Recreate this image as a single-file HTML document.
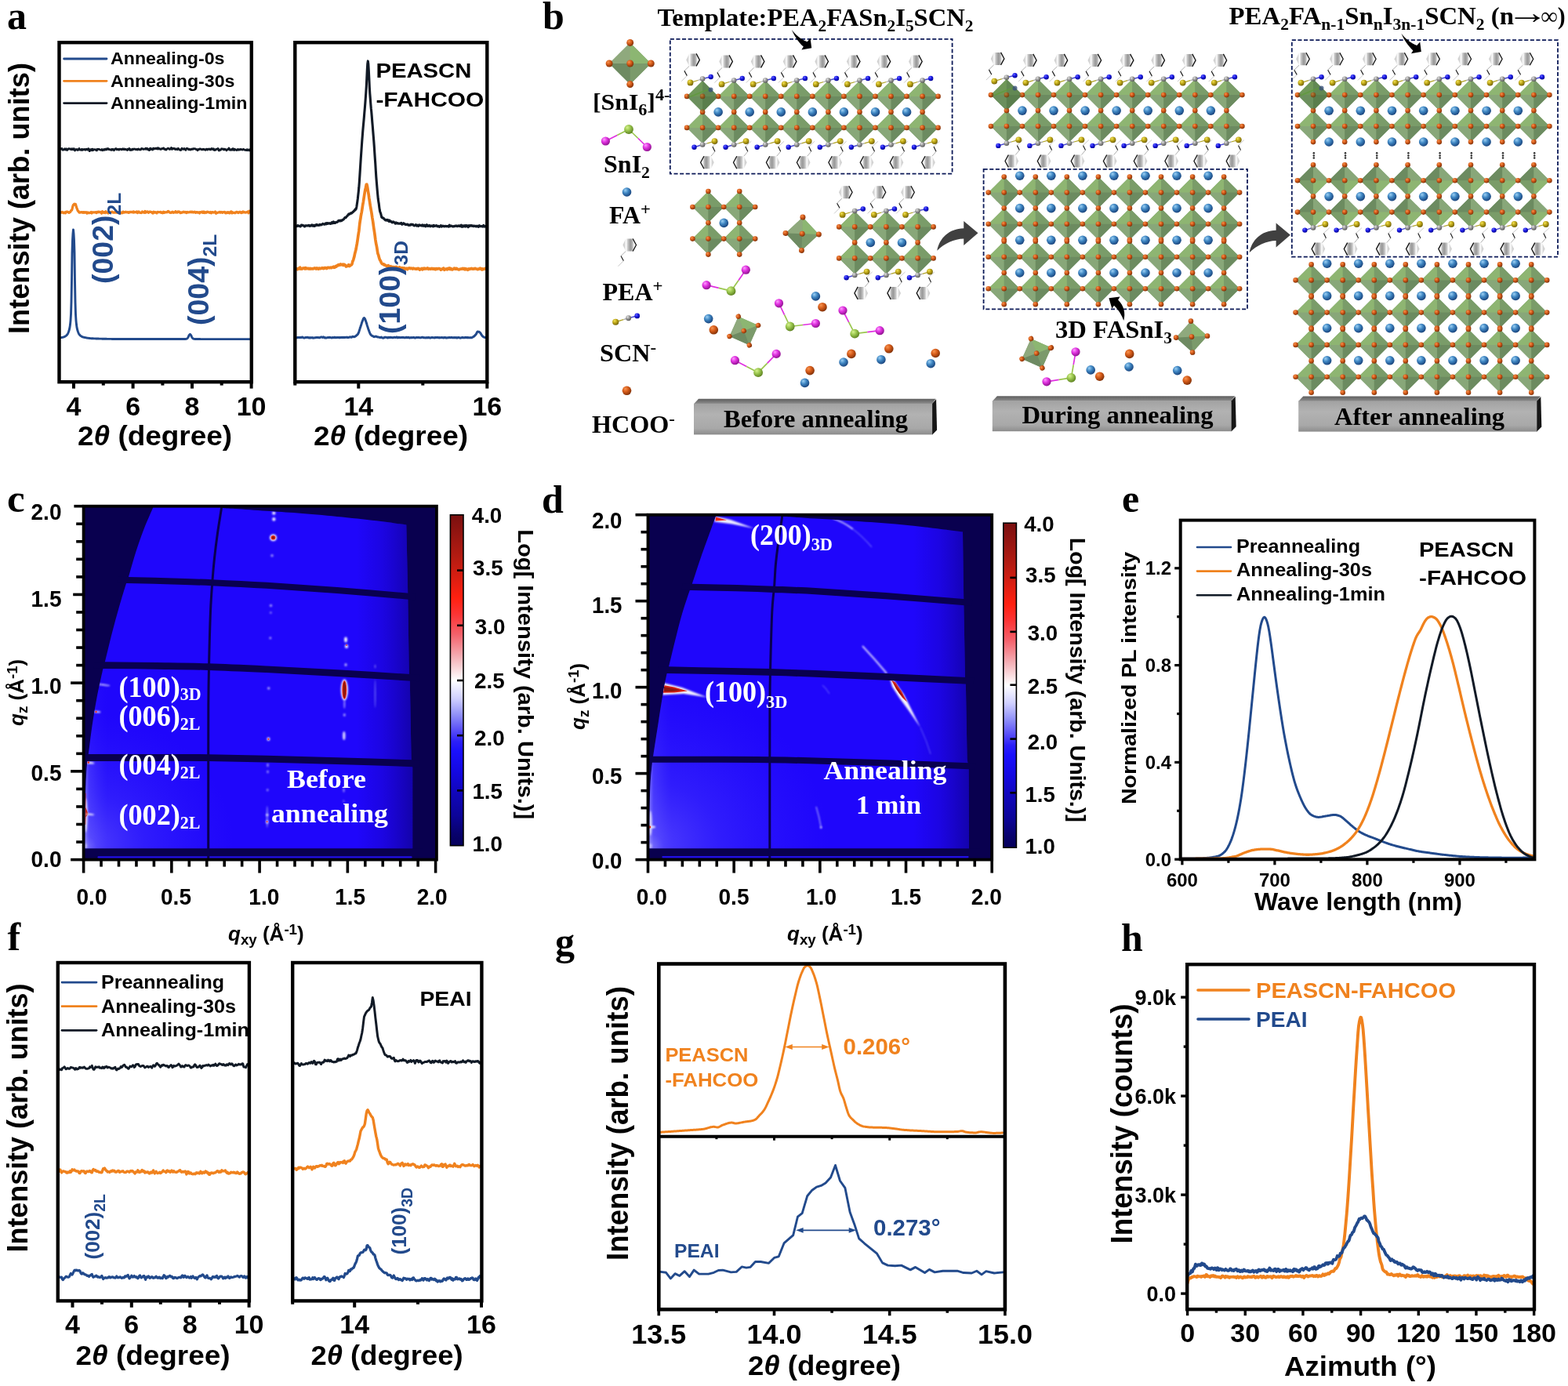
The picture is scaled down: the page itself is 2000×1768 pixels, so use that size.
<!DOCTYPE html>
<html lang="en">
<head>
<meta charset="utf-8">
<title>Figure</title>
<style>
html,body{margin:0;padding:0;background:#fff;}
body{width:2000px;height:1768px;overflow:hidden;}
svg{display:block;}
text{white-space:pre;}
</style>
</head>
<body>
<svg xmlns="http://www.w3.org/2000/svg" width="2000" height="1768" viewBox="0 0 2000 1768">
<defs>
<filter id="bl06" x="-20%" y="-20%" width="140%" height="140%"><feGaussianBlur stdDeviation="0.6"/></filter>
<filter id="bl1" x="-50%" y="-50%" width="200%" height="200%"><feGaussianBlur stdDeviation="1"/></filter>
<filter id="bl2" x="-50%" y="-50%" width="200%" height="200%"><feGaussianBlur stdDeviation="2"/></filter>
<filter id="bl3" x="-50%" y="-50%" width="200%" height="200%"><feGaussianBlur stdDeviation="3.5"/></filter>
<clipPath id="hcC"><path d="M196.3 645 C194.17 650 187.38 665 183.5 675 C179.62 685 176.25 694.87 173 705 C169.75 715.13 166 729.25 164 735.8 C162 742.35 163 737.93 161 744.3 C159 750.67 155 763.55 152 774 C149 784.45 146 795.37 143 807 C140 818.63 136.12 835.3 134 843.8 C131.88 852.3 132.05 850.3 130.3 858 C128.55 865.7 125.63 878.67 123.5 890 C121.37 901.33 119.25 914.25 117.5 926 C115.75 937.75 114.08 952.33 113 960.5 C111.92 968.67 111.57 968.42 111 975 C110.43 981.58 110 989.17 109.6 1000 C109.2 1010.83 108.8 1026.25 108.6 1040 C108.4 1053.75 108.43 1075.42 108.4 1082.5 L526.2 1082.5 L526.2 979 L524.6 968 L522.8 867.5 L521.8 860.4 L520.2 756 L518.3 669.6 L518.3 669.6 C511.92 668.72 494.72 666.07 480 664.3 C465.28 662.53 446.67 660.62 430 659 C413.33 657.38 395 655.8 380 654.6 C365 653.4 353.33 652.73 340 651.8 C326.67 650.87 309.5 649.68 300 649 C290.5 648.32 285.83 648.37 283 647.7 C280.17 647.03 283 645.45 283 645 Z"/></clipPath>
<clipPath id="hfC"><rect x="106.6" y="645.7" width="450.3" height="450.9"/></clipPath>
<linearGradient id="hrC" gradientUnits="userSpaceOnUse" x1="455" y1="0" x2="527" y2="0"><stop offset="0" stop-color="#12008c" stop-opacity="0"/><stop offset="0.45" stop-color="#12008c" stop-opacity="0.22"/><stop offset="1" stop-color="#0c0078" stop-opacity="0.62"/></linearGradient>
<radialGradient id="hgC" gradientUnits="userSpaceOnUse" cx="108" cy="1080" r="190" gradientTransform="translate(108 1080) scale(1 0.9) translate(-108 -1080)"><stop offset="0" stop-color="#b0acff" stop-opacity="0.6"/><stop offset="0.08" stop-color="#8682ff" stop-opacity="0.42"/><stop offset="0.4" stop-color="#5c58ff" stop-opacity="0.27"/><stop offset="1" stop-color="#4038ff" stop-opacity="0"/></radialGradient>
<linearGradient id="hlC" gradientUnits="userSpaceOnUse" x1="108.1" y1="0" x2="136.6" y2="0"><stop offset="0" stop-color="#c4c0ff" stop-opacity="0.55"/><stop offset="0.2" stop-color="#8480ff" stop-opacity="0.25"/><stop offset="1" stop-color="#5c58ff" stop-opacity="0"/></linearGradient>
<linearGradient id="cbC" x1="0" y1="0" x2="0" y2="1"><stop offset="0" stop-color="#7a1010"/><stop offset="0.13" stop-color="#b61c12"/><stop offset="0.25" stop-color="#ff2010"/><stop offset="0.30" stop-color="#fc3434"/><stop offset="0.36" stop-color="#f4606a"/><stop offset="0.43" stop-color="#f4b0b6"/><stop offset="0.5" stop-color="#ffffff"/><stop offset="0.555" stop-color="#d0d0ff"/><stop offset="0.605" stop-color="#9090f8"/><stop offset="0.65" stop-color="#5a50f8"/><stop offset="0.685" stop-color="#2c20f8"/><stop offset="0.715" stop-color="#1a10fc"/><stop offset="0.78" stop-color="#1408e0"/><stop offset="0.845" stop-color="#1006b8"/><stop offset="0.91" stop-color="#0c0498"/><stop offset="0.965" stop-color="#08026c"/><stop offset="1" stop-color="#06005a"/></linearGradient>
<clipPath id="hcD"><path d="M913.8 656 C912.75 658.92 910.8 664.33 907.5 673.5 C904.2 682.67 898.12 699.12 894 711 C889.88 722.88 885.17 737.8 882.8 744.8 C880.43 751.8 881.93 746.63 879.8 753 C877.67 759.37 873.13 772.25 870 783 C866.87 793.75 863.8 806.37 861 817.5 C858.2 828.63 854.95 842.8 853.2 849.8 C851.45 856.8 851.7 854.05 850.5 859.5 C849.3 864.95 847.75 872.42 846 882.5 C844.25 892.58 842.12 906.5 840 920 C837.88 933.5 834.67 954.5 833.3 963.5 C831.93 972.5 832.42 967.92 831.8 974 C831.18 980.08 830.17 989 829.6 1000 C829.03 1011 828.63 1026.25 828.4 1040 C828.17 1053.75 828.23 1075.42 828.2 1082.5 L1236 1082.5 L1235.6 981 L1233.6 968 L1231.8 867.5 L1231 864 L1229.2 764 L1228 678.6 L1228 678.6 C1220 677.58 1196.33 674.33 1180 672.5 C1163.67 670.67 1146.67 669.02 1130 667.6 C1113.33 666.18 1095 665 1080 664 C1065 663 1051.67 662.33 1040 661.6 C1028.33 660.87 1017.17 660.1 1010 659.6 C1002.83 659.1 999.17 659.2 997 658.6 C994.83 658 997 656.43 997 656 Z"/></clipPath>
<clipPath id="hfD"><rect x="826.5" y="656.7" width="438.7" height="439.9"/></clipPath>
<linearGradient id="hrD" gradientUnits="userSpaceOnUse" x1="1165" y1="0" x2="1238" y2="0"><stop offset="0" stop-color="#12008c" stop-opacity="0"/><stop offset="0.45" stop-color="#12008c" stop-opacity="0.22"/><stop offset="1" stop-color="#0c0078" stop-opacity="0.62"/></linearGradient>
<radialGradient id="hgD" gradientUnits="userSpaceOnUse" cx="828" cy="1080" r="230" gradientTransform="translate(828 1080) scale(1 0.9) translate(-828 -1080)"><stop offset="0" stop-color="#b0acff" stop-opacity="0.6"/><stop offset="0.08" stop-color="#8682ff" stop-opacity="0.42"/><stop offset="0.4" stop-color="#5c58ff" stop-opacity="0.27"/><stop offset="1" stop-color="#4038ff" stop-opacity="0"/></radialGradient>
<linearGradient id="hlD" gradientUnits="userSpaceOnUse" x1="828" y1="0" x2="856.5" y2="0"><stop offset="0" stop-color="#c4c0ff" stop-opacity="0.55"/><stop offset="0.2" stop-color="#8480ff" stop-opacity="0.25"/><stop offset="1" stop-color="#5c58ff" stop-opacity="0"/></linearGradient>
<linearGradient id="cbD" x1="0" y1="0" x2="0" y2="1"><stop offset="0" stop-color="#7a1010"/><stop offset="0.13" stop-color="#b61c12"/><stop offset="0.25" stop-color="#ff2010"/><stop offset="0.30" stop-color="#fc3434"/><stop offset="0.36" stop-color="#f4606a"/><stop offset="0.43" stop-color="#f4b0b6"/><stop offset="0.5" stop-color="#ffffff"/><stop offset="0.555" stop-color="#d0d0ff"/><stop offset="0.605" stop-color="#9090f8"/><stop offset="0.65" stop-color="#5a50f8"/><stop offset="0.685" stop-color="#2c20f8"/><stop offset="0.715" stop-color="#1a10fc"/><stop offset="0.78" stop-color="#1408e0"/><stop offset="0.845" stop-color="#1006b8"/><stop offset="0.91" stop-color="#0c0498"/><stop offset="0.965" stop-color="#08026c"/><stop offset="1" stop-color="#06005a"/></linearGradient>
<radialGradient id="gO" cx="0.38" cy="0.34" r="0.7" fx="0.34" fy="0.3"><stop offset="0" stop-color="#f89450"/><stop offset="0.45" stop-color="#d65c1a"/><stop offset="1" stop-color="#7c2e06"/></radialGradient>
<radialGradient id="gFA" cx="0.38" cy="0.34" r="0.7" fx="0.34" fy="0.3"><stop offset="0" stop-color="#9cd0f4"/><stop offset="0.45" stop-color="#3f86c2"/><stop offset="1" stop-color="#163f78"/></radialGradient>
<radialGradient id="gS" cx="0.38" cy="0.34" r="0.7" fx="0.34" fy="0.3"><stop offset="0" stop-color="#f2e45c"/><stop offset="0.45" stop-color="#c0a818"/><stop offset="1" stop-color="#6e6008"/></radialGradient>
<radialGradient id="gC" cx="0.38" cy="0.34" r="0.7" fx="0.34" fy="0.3"><stop offset="0" stop-color="#e6e6e6"/><stop offset="0.45" stop-color="#9c9c9c"/><stop offset="1" stop-color="#555555"/></radialGradient>
<radialGradient id="gN" cx="0.38" cy="0.34" r="0.7" fx="0.34" fy="0.3"><stop offset="0" stop-color="#6a6aff"/><stop offset="0.45" stop-color="#1a1ae6"/><stop offset="1" stop-color="#04048e"/></radialGradient>
<radialGradient id="gM" cx="0.38" cy="0.34" r="0.7" fx="0.34" fy="0.3"><stop offset="0" stop-color="#ff9cff"/><stop offset="0.45" stop-color="#e032e0"/><stop offset="1" stop-color="#8a108a"/></radialGradient>
<radialGradient id="gSn" cx="0.38" cy="0.34" r="0.7" fx="0.34" fy="0.3"><stop offset="0" stop-color="#d6f28e"/><stop offset="0.45" stop-color="#9ac64e"/><stop offset="1" stop-color="#5a7e1e"/></radialGradient>
<linearGradient id="gRing" x1="0" y1="0" x2="1" y2="0"><stop offset="0" stop-color="#cccccc"/><stop offset="0.13" stop-color="#d6d6d6"/><stop offset="0.25" stop-color="#ffffff"/><stop offset="0.38" stop-color="#c4c4c4"/><stop offset="0.56" stop-color="#989898"/><stop offset="0.7" stop-color="#b0b0b0"/><stop offset="0.8" stop-color="#ececec"/><stop offset="1" stop-color="#ffffff"/></linearGradient>
<linearGradient id="gRingB" x1="1" y1="0" x2="0" y2="0"><stop offset="0" stop-color="#cccccc"/><stop offset="0.13" stop-color="#d6d6d6"/><stop offset="0.25" stop-color="#ffffff"/><stop offset="0.38" stop-color="#c4c4c4"/><stop offset="0.56" stop-color="#989898"/><stop offset="0.7" stop-color="#b0b0b0"/><stop offset="0.8" stop-color="#ececec"/><stop offset="1" stop-color="#ffffff"/></linearGradient>
<linearGradient id="gSlab" x1="0" y1="0" x2="0" y2="1"><stop offset="0" stop-color="#a2a2a2"/><stop offset="0.35" stop-color="#b2b2b2"/><stop offset="0.8" stop-color="#a8a8a8"/><stop offset="1" stop-color="#8c8c8c"/></linearGradient>
<linearGradient id="gSlabTop" x1="0" y1="0" x2="0" y2="1"><stop offset="0" stop-color="#5e5e5e"/><stop offset="1" stop-color="#8e8e8e"/></linearGradient>
<g id="oct"><path d="M-20 0L0 -20L20 0L0 20Z" fill="#7d9e6b"/><path d="M0.3 0.3L-20 0.3L-20 0L0 -20L0.3 -20Z" fill="#8eb572"/><path d="M0 0.3L20 0.3L20 0L0 -20Z" fill="#7a9c69"/><path d="M0.3 0L-20 0L0 20L0.3 20Z" fill="#88a779"/><path d="M0 0L20 0L0 20Z" fill="#6c8b60"/></g>
<g id="octR"><path d="M-20 0L0 -20L20 0L0 20Z" fill="#7d9e6b"/><path d="M0.3 0.3L-20 0.3L-20 0L0 -20L0.3 -20Z" fill="#6c8b60"/><path d="M0 0.3L20 0.3L20 0L0 -20Z" fill="#88a779"/><path d="M0.3 0L-20 0L0 20L0.3 20Z" fill="#7a9c69"/><path d="M0 0L20 0L0 20Z" fill="#8eb572"/></g>
<g id="octL"><path d="M-20 0L0 -20L20 0L0 20Z" fill="#7d9e6b"/><path d="M0.3 0.3L-20 0.3L-20 0L0 -20L0.3 -20Z" fill="#8fa97d"/><path d="M0 0.3L20 0.3L20 0L0 -20Z" fill="#8cb672"/><path d="M0.3 0L-20 0L0 20L0.3 20Z" fill="#6e8a62"/><path d="M0 0L20 0L0 20Z" fill="#7b9a6b"/></g>
<circle id="sO" r="3.3" fill="url(#gO)"/>
<circle id="sH" r="5.8" fill="url(#gO)"/>
<circle id="sFA" r="5.8" fill="url(#gFA)"/>
<circle id="sS" r="3.9" fill="url(#gS)"/>
<circle id="sC" r="3.3" fill="url(#gC)"/>
<circle id="sN" r="3.2" fill="url(#gN)"/>
<circle id="sM" r="5.6" fill="url(#gM)"/>
<circle id="sSn" r="5.9" fill="url(#gSn)"/>
<g id="peaT"><path d="M-8.6 0L-4.8 -8L4.2 -8L8.6 0L4.2 8L-4.8 8Z" fill="url(#gRing)"/><path d="M4.2 -8L8.5 0L4.2 8" fill="none" stroke="#0c0c0c" stroke-width="1.25" stroke-linejoin="miter"/><path d="M-4.8 8L-11 14" stroke="#8a8a8a" stroke-width="0.7" fill="none"/><path d="M-11 14L-7.6 20.2" stroke="#1c1c1c" stroke-width="1.15" fill="none"/><path d="M-7.6 20.2L-14.6 27.2" stroke="#a6a6a6" stroke-width="0.6" fill="none"/></g>
<g id="peaB"><path d="M8.6 0L4.8 -8L-4.2 -8L-8.6 0L-4.2 8L4.8 8Z" fill="url(#gRingB)"/><path d="M-4.2 -8L-8.5 0L-4.2 8" fill="none" stroke="#0c0c0c" stroke-width="1.25" stroke-linejoin="miter"/><path d="M4.8 -8L9.8 -13.9" stroke="#8a8a8a" stroke-width="0.7" fill="none"/><path d="M9.8 -13.9L6.8 -20.1" stroke="#1c1c1c" stroke-width="1.15" fill="none"/><path d="M6.8 -20.1L14.2 -27" stroke="#a6a6a6" stroke-width="0.6" fill="none"/></g>
<g id="scnT"><path d="M-15.6 -15.5L-6 -18.4" stroke="#b0a428" stroke-width="1.3"/><path d="M-6 -18.4L0 -20.3" stroke="#a8a8a8" stroke-width="1.3"/><path d="M0 -20.3L10.6 -22.9" stroke="#4a4ad0" stroke-width="1.5"/><use href="#sS" x="-15.6" y="-15.5"/><use href="#sN" x="10.6" y="-22.9"/><use href="#sC" x="0" y="-20.3"/></g>
<g id="scnB"><path d="M15.4 17.2L6 19.9" stroke="#b0a428" stroke-width="1.3"/><path d="M6 19.9L0 21.6" stroke="#a8a8a8" stroke-width="1.3"/><path d="M0 21.6L-10.6 24.8" stroke="#4a4ad0" stroke-width="1.5"/><use href="#sS" x="15.4" y="17.2"/><use href="#sN" x="-10.6" y="24.8"/><use href="#sC" x="0" y="21.6"/></g>
<path id="arrS" d="M0 0C4.4 6.4 12.2 12.8 19.8 15.4L23.8 11L25.4 23.4L12.6 25.6L15 21.8C9 16.4 3.4 8.6 0 0Z"/>
<path id="arrU" d="M0 0C2.5 -9 0.5 -19 -7.2 -26.4L-4.8 -30.6L-18.9 -28.8L-15 -15.6L-12.3 -19.2C-6.5 -14 -2.5 -7 0 0Z"/>
</defs>
<rect x="0" y="0" width="2000" height="1768" fill="#ffffff"/>
<g id="panel-a">
<text x="9" y="37" font-size="50" font-family="'Liberation Serif', 'Times New Roman', Times, serif" font-weight="bold" fill="#000">a</text>
<text x="37" y="426" font-size="36.5" font-family="'Liberation Sans', Arial, Helvetica, sans-serif" font-weight="bold" fill="#000" transform="rotate(-90 37 426)" textLength="346" lengthAdjust="spacingAndGlyphs">Intensity (arb. units)</text>
<polyline points="76.5,190.04 77,189.43 77.5,189.88 78,190.19 78.5,189.74 79,189.51 79.5,190.36 80,191.28 80.5,190.83 81,190.9 81.5,191.03 82,190.35 82.5,189.78 83,190.67 83.5,191.13 84,190.18 84.5,189.69 85,191.06 85.5,191.51 86,190.81 86.5,190.94 87,190.03 87.5,189.57 88,189.87 88.5,189.69 89,189.76 89.5,190.34 90,190.28 90.5,190.02 91,190.93 91.5,190.43 92,189.7 92.5,190.41 93,190.86 93.5,190.44 94,189.6 94.5,189.82 95,190.66 95.5,192.09 96,191.62 96.5,190.51 97,190.66 97.5,190.78 98,190.46 98.5,191.06 99,191.53 99.5,190.83 100,191.07 100.5,190.04 101,189.34 101.5,190.75 102,191.09 102.5,191 103,190.96 103.5,191.29 104,190.59 104.5,190.08 105,191.42 105.5,191.4 106,191.15 106.5,190.63 107,190.42 107.5,190.81 108,190.48 108.5,190.94 109,191.3 109.5,190.47 110,190.69 110.5,190.16 111,190.47 111.5,191.19 112,190.16 112.5,189.65 113,189.65 113.5,190.55 114,192.58 114.5,192.64 115,191.01 115.5,190.87 116,190.59 116.5,190.43 117,191.7 117.5,191.88 118,190.07 118.5,190.4 119,191.49 119.5,191.07 120,190.86 120.5,190.64 121,190.63 121.5,190.98 122,191.25 122.5,190.9 123,191.9 123.5,191.99 124,190.41 124.5,190.33 125,190.17 125.5,190.34 126,190.4 126.5,190.45 127,190.81 127.5,191.01 128,191.05 128.5,191.23 129,191.5 129.5,191.52 130,190.51 130.5,190.86 131,191.85 131.5,191.44 132,191.19 132.5,190.54 133,190.94 133.5,191.23 134,190.3 134.5,189.99 135,190.22 135.5,190.96 136,190.94 136.5,189.61 137,189.61 137.5,189.61 138,189.67 138.5,190.49 139,190.19 139.5,190.64 140,190.98 140.5,190.87 141,190.87 141.5,190.73 142,191.49 142.5,190.8 143,190.23 143.5,191.2 144,190.74 144.5,190.45 145,191.22 145.5,191.8 146,191.15 146.5,190.25 147,189.91 147.5,189.94 148,189.51 148.5,190.21 149,190.91 149.5,190.59 150,190.69 150.5,190.09 151,190.6 151.5,191.25 152,191.18 152.5,190.27 153,190.08 153.5,190.33 154,190.35 154.5,190.44 155,190.82 155.5,190.86 156,190.06 156.5,189.83 157,189.89 157.5,190.73 158,190.68 158.5,189.91 159,190.6 159.5,190.82 160,190.31 160.5,190.35 161,190.74 161.5,190.81 162,191.41 162.5,191.59 163,190.26 163.5,190.68 164,190.73 164.5,189.52 165,189.44 165.5,190.69 166,191.58 166.5,190.8 167,190.59 167.5,190.84 168,191.47 168.5,191.15 169,190.02 169.5,189.98 170,190.72 170.5,190.38 171,189.82 171.5,190.24 172,190.05 172.5,190.31 173,190.69 173.5,190.82 174,190.78 174.5,190.39 175,190.29 175.5,191.14 176,190.77 176.5,189.87 177,190.21 177.5,190.46 178,190.79 178.5,191.13 179,190.6 179.5,190.93 180,190.42 180.5,189.45 181,189.77 181.5,189.5 182,189.81 182.5,190.46 183,190.54 183.5,190 184,190.15 184.5,189.95 185,189.77 185.5,190.2 186,189.09 186.5,189.43 187,190.46 187.5,189.51 188,189.39 188.5,190.59 189,191 189.5,190.41 190,190.39 190.5,191.68 191,190.47 191.5,189.09 192,190.67 192.5,190.39 193,189.72 193.5,189.76 194,190.3 194.5,191.19 195,190.65 195.5,189.07 196,189.32 196.5,190.04 197,189.7 197.5,189.73 198,189.18 198.5,189.04 199,189.53 199.5,189.3 200,189.08 200.5,190.1 201,189.85 201.5,188.54 202,189.62 202.5,190.07 203,189.36 203.5,189.48 204,190 204.5,190.35 205,190.54 205.5,190.23 206,189.67 206.5,189.63 207,189.3 207.5,189.58 208,189.88 208.5,188.86 209,189.02 209.5,190.26 210,190.33 210.5,190.89 211,190.57 211.5,190.15 212,191.04 212.5,190.68 213,190.09 213.5,189.59 214,189.07 214.5,189.41 215,189.34 215.5,189.82 216,190.51 216.5,190.44 217,190.33 217.5,190.26 218,188.96 218.5,188.38 219,189.75 219.5,190.48 220,189.84 220.5,189.3 221,189.28 221.5,189.28 222,189.82 222.5,189.45 223,189.8 223.5,190.66 224,190.45 224.5,189.95 225,189.93 225.5,190.37 226,190.81 226.5,190.14 227,189.24 227.5,189.31 228,190.02 228.5,190.94 229,190.62 229.5,191.17 230,191.64 230.5,191.07 231,191.3 231.5,190.03 232,189.2 232.5,190.01 233,189.94 233.5,190.18 234,190.35 234.5,189.7 235,189.36 235.5,190.35 236,190.42 236.5,190.82 237,191.45 237.5,190.12 238,189.35 238.5,189.23 239,189.51 239.5,189.57 240,189.95 240.5,190.86 241,190.41 241.5,190.06 242,190.72 242.5,191.08 243,190.94 243.5,190.31 244,190.37 244.5,190.58 245,189.85 245.5,190.34 246,190.33 246.5,189.68 247,189.92 247.5,189.55 248,189.49 248.5,189.91 249,189.89 249.5,189.96 250,190.46 250.5,190.9 251,190.69 251.5,190.71 252,191.81 252.5,191.18 253,190.37 253.5,190.83 254,190.67 254.5,190.06 255,189.84 255.5,190.13 256,189.87 256.5,190.35 257,190.81 257.5,190.9 258,190.41 258.5,190.23 259,190.85 259.5,190.65 260,190.17 260.5,190.44 261,190.84 261.5,190.78 262,191.39 262.5,190.91 263,190.18 263.5,190.09 264,190.74 264.5,191.1 265,190.16 265.5,190.17 266,190.52 266.5,190.41 267,189.92 267.5,190.23 268,190.85 268.5,190.98 269,190.73 269.5,189.63 270,189.42 270.5,189.81 271,189.98 271.5,190.63 272,190.28 272.5,189.67 273,190.43 273.5,191.73 274,191.13 274.5,190.82 275,191.26 275.5,190.58 276,190.27 276.5,190.17 277,190.18 277.5,189.82 278,189.49 278.5,190.07 279,192.01 279.5,192.07 280,191 280.5,191.08 281,191.03 281.5,191.27 282,190.56 282.5,189.76 283,190.14 283.5,190.19 284,190.07 284.5,189.86 285,190.62 285.5,191.03 286,190.26 286.5,190.21 287,190.18 287.5,190.94 288,190.77 288.5,190.73 289,191.96 289.5,191.3 290,190.54 290.5,190.62 291,190.56 291.5,189.92 292,188.88 292.5,189.67 293,191 293.5,191.32 294,191.12 294.5,191.27 295,190.68 295.5,190.37 296,191.28 296.5,190.85 297,189.54 297.5,189.78 298,191.14 298.5,191.66 299,190.99 299.5,190.27 300,190.64 300.5,191.19 301,191.14 301.5,191.19 302,191.58 302.5,191.29 303,190.5 303.5,190.39 304,191.13 304.5,191.29 305,190.55 305.5,190.79 306,191.03 306.5,190.75 307,190.28 307.5,190.33 308,190.89 308.5,190.97 309,190.96 309.5,191.15 310,190.58 310.5,190.08 311,190.77 311.5,190.92 312,191.01 312.5,191.41 313,191.56 313.5,191.35 314,191.52 314.5,190.83 315,190.65 315.5,191.81 316,191.5 316.5,190.88 317,190.96 317.5,191.17 318,191.97 318.5,191.34 319,190.67 319.5,190.23" fill="none" stroke="#111a26" stroke-width="2.7" stroke-linejoin="round" stroke-linecap="round" />
<polyline points="76.5,270.6 77,270.81 77.5,271.19 78,271.21 78.5,271.02 79,270.46 79.5,270.36 80,270.81 80.5,271.49 81,271.72 81.5,271.62 82,271.63 82.5,270.89 83,270.79 83.5,271.72 84,270.73 84.5,270.08 85,270.63 85.5,270.28 86,270.09 86.5,270.24 87,270.64 87.5,271.03 88,271.35 88.5,271.24 89,270.44 89.5,270.45 90,270 90.5,268.73 91,268.29 91.5,268.22 92,266.87 92.5,264.46 93,262.64 93.5,261.46 94,261.19 94.5,260.44 95,260.11 95.5,261.14 96,260.87 96.5,260.54 97,262.47 97.5,264.32 98,265.55 98.5,266.87 99,268.35 99.5,269.14 100,269.3 100.5,270.25 101,271.06 101.5,271.17 102,271.08 102.5,270.88 103,270.65 103.5,270.71 104,270.86 104.5,270.57 105,270.71 105.5,271.29 106,270.79 106.5,270.57 107,271.37 107.5,271.08 108,270.6 108.5,270.98 109,271.05 109.5,271.04 110,270.73 110.5,271.25 111,272.14 111.5,271.28 112,270.94 112.5,271.54 113,271.26 113.5,271.37 114,271.73 114.5,271.41 115,271.2 115.5,270.9 116,270.55 116.5,271.41 117,271.93 117.5,271.16 118,270.66 118.5,271.06 119,270.95 119.5,270.78 120,270.84 120.5,270.8 121,270.85 121.5,270.7 122,270.69 122.5,271.35 123,271.59 123.5,270.45 124,270.34 124.5,270.83 125,270.94 125.5,270.16 126,270.06 126.5,270.55 127,270.74 127.5,270.36 128,270.37 128.5,271.03 129,271.45 129.5,272.23 130,270.7 130.5,269.76 131,270.57 131.5,270.95 132,271.4 132.5,270.93 133,270.49 133.5,271.21 134,271.63 134.5,270.33 135,269.69 135.5,270.64 136,270.94 136.5,271.35 137,271.19 137.5,271.58 138,271.96 138.5,270.91 139,271.09 139.5,271.36 140,270.93 140.5,270.73 141,270.89 141.5,270.77 142,270.64 142.5,270.39 143,270.16 143.5,270.53 144,271.08 144.5,271.11 145,271.15 145.5,270.84 146,271 146.5,271.16 147,270.47 147.5,270.69 148,271.12 148.5,271.24 149,271.19 149.5,270.79 150,271.08 150.5,271.48 151,271.11 151.5,270.93 152,270.85 152.5,270.7 153,271.32 153.5,272.15 154,271.81 154.5,271.44 155,270.95 155.5,271.17 156,271.83 156.5,271.41 157,270.11 157.5,270.26 158,271.15 158.5,270.8 159,270.62 159.5,270.9 160,270.75 160.5,270.18 161,270.71 161.5,270.59 162,270.93 162.5,270.96 163,270.52 163.5,271.18 164,271.31 164.5,271.29 165,270.65 165.5,270.3 166,270.55 166.5,270.57 167,270.28 167.5,270.29 168,270.61 168.5,270.57 169,270.23 169.5,270.78 170,271.04 170.5,269.95 171,270.4 171.5,270.79 172,270.55 172.5,270.73 173,270.41 173.5,270.87 174,270.82 174.5,269.99 175,270.44 175.5,271.5 176,271.17 176.5,270.07 177,269.96 177.5,270.83 178,271.02 178.5,270.78 179,271.4 179.5,271.47 180,271.19 180.5,271.56 181,270.93 181.5,269.85 182,270.34 182.5,270.56 183,270.64 183.5,271.22 184,271.32 184.5,270.47 185,269.35 185.5,270.4 186,271.21 186.5,270.69 187,270.4 187.5,269.99 188,269.86 188.5,270.48 189,271.01 189.5,271.38 190,270.97 190.5,270.1 191,270.41 191.5,270.09 192,270.09 192.5,270.49 193,270.54 193.5,270.67 194,271.42 194.5,271.91 195,272.02 195.5,271.05 196,270.12 196.5,270.99 197,270.49 197.5,270.55 198,271.1 198.5,270.73 199,270.95 199.5,271.33 200,271.82 200.5,271.09 201,270.37 201.5,270.56 202,270.67 202.5,270.72 203,270.5 203.5,270.72 204,270.69 204.5,270.3 205,270.54 205.5,271.31 206,271.49 206.5,270.9 207,271.12 207.5,271.73 208,270.96 208.5,270.16 209,270.91 209.5,271.4 210,270.63 210.5,270.89 211,271 211.5,270.8 212,270.74 212.5,270.6 213,270.82 213.5,270.54 214,269.69 214.5,269.36 215,269.8 215.5,270.04 216,270.61 216.5,271.15 217,270.98 217.5,271.11 218,271.5 218.5,271.24 219,270.68 219.5,270.61 220,270.2 220.5,270.44 221,271.27 221.5,270.8 222,270.8 222.5,270.95 223,271.04 223.5,270.45 224,269.57 224.5,270.51 225,270.96 225.5,270.77 226,271.17 226.5,270.91 227,269.96 227.5,270.31 228,270.29 228.5,269.96 229,270.3 229.5,271.16 230,271.65 230.5,270.96 231,271.33 231.5,271.47 232,270.95 232.5,270.87 233,270.87 233.5,270.31 234,270.16 234.5,270.67 235,270.34 235.5,270.69 236,270.89 236.5,270.39 237,270.57 237.5,271.27 238,271.57 238.5,271.16 239,270.48 239.5,270.78 240,270.96 240.5,270.9 241,270.83 241.5,270.45 242,270.71 242.5,270.28 243,270.52 243.5,270.16 244,270.02 244.5,270.77 245,270.37 245.5,270.11 246,270.62 246.5,271.05 247,270.61 247.5,270.43 248,270.55 248.5,270.24 249,270.79 249.5,271.34 250,271.01 250.5,270.64 251,270.58 251.5,270.8 252,271.24 252.5,271 253,270.78 253.5,270.82 254,271.45 254.5,271.95 255,270.65 255.5,270.71 256,270.89 256.5,270.61 257,270.87 257.5,270.05 258,270.01 258.5,271.26 259,271.46 259.5,270.51 260,270.01 260.5,270.96 261,271.48 261.5,270.72 262,270.85 262.5,271.17 263,271.31 263.5,270.52 264,270.31 264.5,270.67 265,270.15 265.5,270.59 266,270.67 266.5,271 267,271.17 267.5,271.38 268,271.24 268.5,270.5 269,270.93 269.5,271.85 270,271.4 270.5,270.51 271,270.6 271.5,270.6 272,271.04 272.5,271.16 273,270.83 273.5,270.97 274,270.53 274.5,269.99 275,270.8 275.5,272.32 276,272.12 276.5,271.15 277,271.51 277.5,271.4 278,271.17 278.5,270.98 279,270.95 279.5,270.68 280,270.3 280.5,270.73 281,271.25 281.5,270.94 282,270.35 282.5,270.73 283,270.7 283.5,271.31 284,271.23 284.5,270.62 285,270.84 285.5,270.63 286,270.54 286.5,270.35 287,270.79 287.5,271.77 288,271.93 288.5,271.19 289,270.85 289.5,271.59 290,271.53 290.5,270.73 291,270.54 291.5,271.15 292,271.66 292.5,271.79 293,271.95 293.5,270.65 294,270.18 294.5,270.81 295,269.94 295.5,270.95 296,271.88 296.5,270.77 297,271.31 297.5,271.42 298,271.36 298.5,271.35 299,271.08 299.5,271.69 300,271.77 300.5,271.37 301,270.85 301.5,270.25 302,270.3 302.5,270.63 303,270.5 303.5,271.37 304,271.59 304.5,271.12 305,270.98 305.5,270.35 306,270.25 306.5,270.38 307,270.78 307.5,271.52 308,271.62 308.5,270.76 309,271.15 309.5,271.06 310,269.98 310.5,270.54 311,270.87 311.5,270.4 312,270.63 312.5,270.98 313,271.23 313.5,271.08 314,270.93 314.5,270.49 315,270.51 315.5,270.53 316,269.92 316.5,270.76 317,271.74 317.5,270.12 318,269.16 318.5,270.9 319,270.55 319.5,269.71" fill="none" stroke="#f0821e" stroke-width="3.2" stroke-linejoin="round" stroke-linecap="round" />
<polyline points="76.5,430.97 77,430.88 77.5,430.79 78,430.69 78.5,430.59 79,430.48 79.5,430.37 80,430.25 80.5,430.13 81,430 81.5,429.85 82,429.66 82.5,429.42 83,429.15 83.5,428.83 84,428.47 84.5,428.06 85,427.6 85.5,427.1 86,426.47 86.5,425.64 87,424.59 87.5,423.31 88,421.78 88.5,420 89,417.6 89.5,414.05 90,409.06 90.5,401.03 91,385.5 91.5,358.16 92,322.6 92.5,306.67 93,297.79 93.5,293 94,297.79 94.5,306.67 95,322.6 95.5,358.16 96,385.5 96.5,401.03 97,409.06 97.5,414.05 98,417.6 98.5,420 99,421.78 99.5,423.31 100,424.59 100.5,425.64 101,426.47 101.5,427.1 102,427.6 102.5,428.06 103,428.47 103.5,428.83 104,429.15 104.5,429.42 105,429.66 105.5,429.85 106,430 106.5,430.13 107,430.25 107.5,430.37 108,430.48 108.5,430.59 109,430.69 109.5,430.79 110,430.88 110.5,430.97 111,431.06 111.5,431.14 112,431.21 112.5,431.28 113,431.35 113.5,431.41 114,431.47 114.5,431.52 115,431.57 115.5,431.61 116,431.65 116.5,431.69 117,431.72 117.5,431.75 118,431.78 118.5,431.8 119,431.82 119.5,431.84 120,431.86 120.5,431.88 121,431.9 121.5,431.91 122,431.93 122.5,431.95 123,431.97 123.5,431.98 124,432 124.5,432.02 125,432.03 125.5,432.05 126,432.07 126.5,432.08 127,432.1 127.5,432.11 128,432.13 128.5,432.14 129,432.15 129.5,432.17 130,432.18 130.5,432.19 131,432.21 131.5,432.22 132,432.23 132.5,432.24 133,432.26 133.5,432.27 134,432.28 134.5,432.29 135,432.3 135.5,432.31 136,432.32 136.5,432.33 137,432.34 137.5,432.35 138,432.36 138.5,432.37 139,432.37 139.5,432.38 140,432.39 140.5,432.4 141,432.4 141.5,432.41 142,432.42 142.5,432.43 143,432.43 143.5,432.44 144,432.44 144.5,432.45 145,432.45 145.5,432.46 146,432.46 146.5,432.47 147,432.47 147.5,432.47 148,432.48 148.5,432.48 149,432.48 149.5,432.49 150,432.49 150.5,432.49 151,432.49 151.5,432.5 152,432.5 152.5,432.5 153,432.5 153.5,432.5 154,432.5 154.5,432.5 155,432.5 155.5,432.5 156,432.5 156.5,432.5 157,432.5 157.5,432.5 158,432.5 158.5,432.51 159,432.51 159.5,432.51 160,432.51 160.5,432.51 161,432.51 161.5,432.51 162,432.51 162.5,432.51 163,432.51 163.5,432.51 164,432.51 164.5,432.51 165,432.51 165.5,432.51 166,432.51 166.5,432.51 167,432.51 167.5,432.51 168,432.51 168.5,432.52 169,432.52 169.5,432.52 170,432.52 170.5,432.52 171,432.52 171.5,432.52 172,432.52 172.5,432.52 173,432.52 173.5,432.52 174,432.52 174.5,432.52 175,432.52 175.5,432.52 176,432.52 176.5,432.52 177,432.52 177.5,432.52 178,432.52 178.5,432.52 179,432.52 179.5,432.53 180,432.53 180.5,432.53 181,432.53 181.5,432.53 182,432.53 182.5,432.53 183,432.53 183.5,432.53 184,432.53 184.5,432.53 185,432.53 185.5,432.53 186,432.53 186.5,432.53 187,432.53 187.5,432.53 188,432.53 188.5,432.53 189,432.53 189.5,432.53 190,432.53 190.5,432.53 191,432.54 191.5,432.54 192,432.54 192.5,432.54 193,432.54 193.5,432.54 194,432.54 194.5,432.54 195,432.54 195.5,432.54 196,432.54 196.5,432.54 197,432.54 197.5,432.54 198,432.54 198.5,432.54 199,432.54 199.5,432.54 200,432.54 200.5,432.54 201,432.54 201.5,432.54 202,432.54 202.5,432.54 203,432.54 203.5,432.54 204,432.55 204.5,432.55 205,432.55 205.5,432.55 206,432.55 206.5,432.55 207,432.55 207.5,432.55 208,432.55 208.5,432.55 209,432.55 209.5,432.55 210,432.55 210.5,432.55 211,432.55 211.5,432.55 212,432.55 212.5,432.55 213,432.55 213.5,432.55 214,432.55 214.5,432.55 215,432.55 215.5,432.55 216,432.55 216.5,432.55 217,432.55 217.5,432.55 218,432.55 218.5,432.56 219,432.56 219.5,432.56 220,432.56 220.5,432.56 221,432.56 221.5,432.56 222,432.56 222.5,432.56 223,432.56 223.5,432.56 224,432.56 224.5,432.56 225,432.56 225.5,432.56 226,432.56 226.5,432.56 227,432.56 227.5,432.56 228,432.56 228.5,432.56 229,432.56 229.5,432.56 230,432.56 230.5,432.56 231,432.56 231.5,432.56 232,432.56 232.5,432.56 233,432.56 233.5,432.56 234,432.56 234.5,432.56 235,432.56 235.5,432.53 236,432.5 236.5,432.45 237,432.39 237.5,432.32 238,432.21 238.5,431.94 239,431.49 239.5,430.93 240,430.25 240.5,429.09 241,427.9 241.5,427.18 242,426.64 242.5,426.42 243,426.84 243.5,427.44 244,428.34 244.5,429.59 245,430.57 245.5,431.17 246,431.69 246.5,432.07 247,432.27 247.5,432.35 248,432.42 248.5,432.48 249,432.52 249.5,432.55 250,432.57 250.5,432.57 251,432.57 251.5,432.57 252,432.57 252.5,432.57 253,432.57 253.5,432.57 254,432.57 254.5,432.57 255,432.57 255.5,432.57 256,432.58 256.5,432.58 257,432.58 257.5,432.58 258,432.58 258.5,432.58 259,432.58 259.5,432.58 260,432.58 260.5,432.58 261,432.58 261.5,432.58 262,432.58 262.5,432.58 263,432.58 263.5,432.58 264,432.58 264.5,432.58 265,432.58 265.5,432.58 266,432.58 266.5,432.58 267,432.58 267.5,432.58 268,432.58 268.5,432.58 269,432.58 269.5,432.58 270,432.58 270.5,432.58 271,432.58 271.5,432.58 272,432.58 272.5,432.58 273,432.58 273.5,432.58 274,432.58 274.5,432.58 275,432.58 275.5,432.58 276,432.58 276.5,432.58 277,432.58 277.5,432.58 278,432.58 278.5,432.58 279,432.58 279.5,432.58 280,432.58 280.5,432.58 281,432.58 281.5,432.58 282,432.59 282.5,432.59 283,432.59 283.5,432.59 284,432.59 284.5,432.59 285,432.59 285.5,432.59 286,432.59 286.5,432.59 287,432.59 287.5,432.59 288,432.59 288.5,432.59 289,432.59 289.5,432.59 290,432.59 290.5,432.59 291,432.59 291.5,432.59 292,432.59 292.5,432.59 293,432.59 293.5,432.59 294,432.59 294.5,432.59 295,432.59 295.5,432.59 296,432.59 296.5,432.59 297,432.59 297.5,432.59 298,432.59 298.5,432.59 299,432.59 299.5,432.59 300,432.59 300.5,432.59 301,432.59 301.5,432.59 302,432.59 302.5,432.59 303,432.59 303.5,432.59 304,432.59 304.5,432.59 305,432.59 305.5,432.59 306,432.59 306.5,432.59 307,432.59 307.5,432.59 308,432.59 308.5,432.59 309,432.59 309.5,432.59 310,432.59 310.5,432.59 311,432.59 311.5,432.59 312,432.59 312.5,432.59 313,432.59 313.5,432.59 314,432.59 314.5,432.59 315,432.59 315.5,432.59 316,432.59 316.5,432.59 317,432.59 317.5,432.59 318,432.59 318.5,432.59 319,432.59 319.5,432.59" fill="none" stroke="#224a8c" stroke-width="2.9" stroke-linejoin="round" stroke-linecap="round" />
<polyline points="377.3,288.41 377.8,288.16 378.3,288.07 378.8,288.57 379.3,288.35 379.8,287.56 380.3,287.88 380.8,288.1 381.3,288 381.8,288.36 382.3,288.36 382.8,288.85 383.3,288.83 383.8,288.1 384.3,287.05 384.8,286.98 385.3,287.64 385.8,287.39 386.3,287.41 386.8,287.66 387.3,287.96 387.8,288.02 388.3,288.9 388.8,288.94 389.3,287.99 389.8,287.75 390.3,287.74 390.8,287.97 391.3,287.84 391.8,287.87 392.3,287.9 392.8,288.02 393.3,287.94 393.8,287.28 394.3,287.43 394.8,287.84 395.3,288.37 395.8,287.76 396.3,287.74 396.8,287.96 397.3,287.11 397.8,286.87 398.3,287.85 398.8,288.15 399.3,287.26 399.8,287.37 400.3,288.3 400.8,288.46 401.3,287.41 401.8,287.77 402.3,288.01 402.8,286.8 403.3,286.56 403.8,286.57 404.3,286.65 404.8,287.37 405.3,286.98 405.8,286.93 406.3,287.1 406.8,287.47 407.3,287.35 407.8,286.39 408.3,286.55 408.8,286.82 409.3,287.01 409.8,286.78 410.3,286.42 410.8,286.44 411.3,285.93 411.8,285.37 412.3,286.02 412.8,285.99 413.3,285.81 413.8,286.2 414.3,286.11 414.8,285.77 415.3,284.9 415.8,285.41 416.3,285.79 416.8,284.53 417.3,284.64 417.8,285.4 418.3,284.59 418.8,284.67 419.3,284.88 419.8,285.06 420.3,285.22 420.8,284.59 421.3,285.27 421.8,285.4 422.3,285.3 422.8,284.5 423.3,283.56 423.8,284.18 424.3,284.77 424.8,283.85 425.3,282.79 425.8,283.82 426.3,284.45 426.8,283.67 427.3,283.76 427.8,284.33 428.3,283.78 428.8,283.28 429.3,283.41 429.8,283.5 430.3,283.18 430.8,282.78 431.3,281.96 431.8,281.4 432.3,281.89 432.8,281.84 433.3,281.2 433.8,281.53 434.3,281.84 434.8,281.21 435.3,281.02 435.8,281.55 436.3,281.18 436.8,280.69 437.3,280.25 437.8,280.16 438.3,279.82 438.8,279.03 439.3,278.42 439.8,277.68 440.3,277.46 440.8,277.72 441.3,277.4 441.8,276.59 442.3,276.01 442.8,275.36 443.3,275.21 443.8,274.33 444.3,273.6 444.8,272.95 445.3,272.83 445.8,273.3 446.3,272.85 446.8,272.36 447.3,271.76 447.8,271.95 448.3,272.12 448.8,271.6 449.3,271.26 449.8,270.56 450.3,270.1 450.8,270.12 451.3,269.26 451.8,268.62 452.3,268.61 452.8,267.34 453.3,266.7 453.8,267.14 454.3,266.29 454.8,263.95 455.3,260.54 455.8,257.18 456.3,253.51 456.8,248.79 457.3,244.42 457.8,239.27 458.3,232.54 458.8,225.18 459.3,217.08 459.8,209.18 460.3,201.32 460.8,194.11 461.3,187 461.8,179.76 462.3,173.26 462.8,166.9 463.3,161.03 463.8,155.83 464.3,150.03 464.8,143.99 465.3,138.46 465.8,132.24 466.3,125.26 466.8,118.35 467.3,110.37 467.8,100.18 468.3,89.44 468.8,81.21 469.3,77.93 469.8,81.36 470.3,89.49 470.8,99.76 471.3,111 471.8,119.31 472.3,125.72 472.8,132.45 473.3,138.43 473.8,143.07 474.3,149.06 474.8,155.7 475.3,161.23 475.8,167.68 476.3,173.9 476.8,179.88 477.3,186.92 477.8,194.74 478.3,202.08 478.8,209.23 479.3,217.47 479.8,225.4 480.3,231.71 480.8,237.6 481.3,243.54 481.8,248.83 482.3,254.1 482.8,257.26 483.3,260.31 483.8,264.61 484.3,267.89 484.8,270.29 485.3,271.35 485.8,272.9 486.3,275.22 486.8,277.18 487.3,277.64 487.8,277.42 488.3,278.06 488.8,278.32 489.3,278.36 489.8,278.92 490.3,279.84 490.8,280.18 491.3,280.32 491.8,280.98 492.3,280.67 492.8,280.33 493.3,281.17 493.8,280.99 494.3,280.46 494.8,280.75 495.3,280.96 495.8,282.26 496.3,282.45 496.8,281.07 497.3,281.43 497.8,282.33 498.3,282.69 498.8,282.95 499.3,282.59 499.8,283.11 500.3,283.94 500.8,283.52 501.3,283.43 501.8,282.95 502.3,283.23 502.8,283.8 503.3,283.88 503.8,284.64 504.3,285.22 504.8,284.43 505.3,283.86 505.8,284.64 506.3,284.92 506.8,284.92 507.3,284.58 507.8,284.86 508.3,285.25 508.8,285.32 509.3,285.16 509.8,285.16 510.3,285.31 510.8,285.07 511.3,284.53 511.8,284.42 512.3,285.75 512.8,286.29 513.3,285.96 513.8,285.97 514.3,285.18 514.8,284.75 515.3,285.3 515.8,285.52 516.3,285.74 516.8,286.38 517.3,286.46 517.8,286.41 518.3,286.62 518.8,286.46 519.3,286.08 519.8,286.06 520.3,286.54 520.8,287.18 521.3,286.86 521.8,286.79 522.3,287.37 522.8,286.76 523.3,287.02 523.8,287.1 524.3,286.16 524.8,286.79 525.3,286.69 525.8,286.27 526.3,286.29 526.8,286.43 527.3,286.96 527.8,287.79 528.3,287.83 528.8,287.52 529.3,287.65 529.8,287.16 530.3,286.62 530.8,286.7 531.3,287.55 531.8,288.16 532.3,287.77 532.8,287.19 533.3,287.74 533.8,288.41 534.3,287.37 534.8,286.79 535.3,287.33 535.8,287.08 536.3,287.33 536.8,287.6 537.3,287.93 537.8,287.85 538.3,287.11 538.8,286.84 539.3,288.09 539.8,288.11 540.3,287.6 540.8,288.06 541.3,287.14 541.8,287.27 542.3,288.44 542.8,288.86 543.3,288.61 543.8,287.11 544.3,286.73 544.8,287.4 545.3,287.9 545.8,288.47 546.3,288.49 546.8,287.99 547.3,287.44 547.8,287.6 548.3,288.36 548.8,288.76 549.3,288.06 549.8,288.16 550.3,288.25 550.8,287.92 551.3,288.28 551.8,288.72 552.3,288.96 552.8,287.69 553.3,287.38 553.8,288.49 554.3,288.05 554.8,287.96 555.3,288.23 555.8,288.05 556.3,287.81 556.8,287.59 557.3,288.16 557.8,288.84 558.3,288.77 558.8,288.65 559.3,288.32 559.8,288.43 560.3,289.41 560.8,288.8 561.3,288.64 561.8,288.62 562.3,287.65 562.8,288.13 563.3,289.11 563.8,288.68 564.3,287.99 564.8,288.28 565.3,288.31 565.8,288.67 566.3,288.37 566.8,288.57 567.3,288.93 567.8,288.45 568.3,288.36 568.8,288.47 569.3,288.8 569.8,288.46 570.3,288.75 570.8,288.62 571.3,288.42 571.8,288.87 572.3,289.14 572.8,288.63 573.3,287.14 573.8,287.74 574.3,288.61 574.8,288.3 575.3,288.08 575.8,288.13 576.3,288.38 576.8,288.54 577.3,288.85 577.8,288.88 578.3,288.92 578.8,288.55 579.3,288.29 579.8,288.72 580.3,288.55 580.8,288.22 581.3,288.07 581.8,287.86 582.3,288.08 582.8,288.63 583.3,288.64 583.8,288.38 584.3,288.02 584.8,287.87 585.3,288.44 585.8,288.47 586.3,287.93 586.8,288.19 587.3,288.67 587.8,288.04 588.3,287.13 588.8,288.39 589.3,289.41 589.8,289.22 590.3,288.41 590.8,287.8 591.3,288.54 591.8,288.85 592.3,288.11 592.8,287.68 593.3,288.65 593.8,289.09 594.3,287.58 594.8,287.98 595.3,288.73 595.8,287.75 596.3,287.96 596.8,288.75 597.3,289.63 597.8,288.64 598.3,287.58 598.8,288.4 599.3,288.53 599.8,287.85 600.3,287.75 600.8,287.5 601.3,287.45 601.8,288.08 602.3,288.45 602.8,288.23 603.3,287.91 603.8,288.36 604.3,288.72 604.8,288.3 605.3,288.09 605.8,288.2 606.3,288.22 606.8,288.83 607.3,289.04 607.8,288.47 608.3,288.24 608.8,288.16 609.3,288.53 609.8,289.18 610.3,289.41 610.8,288.34 611.3,287.75 611.8,288.6 612.3,288.34 612.8,288.33 613.3,288.71 613.8,288.57 614.3,288.46 614.8,288.68 615.3,289.08 615.8,289.04 616.3,287.94 616.8,287.39 617.3,288.16 617.8,289.01 618.3,289.16 618.8,288.69 619.3,288.56 619.8,288.57" fill="none" stroke="#111a26" stroke-width="3.1" stroke-linejoin="round" stroke-linecap="round" />
<polyline points="377.3,342.4 377.8,342.52 378.3,342.81 378.8,343.13 379.3,343.57 379.8,343.26 380.3,342.93 380.8,342.37 381.3,342.6 381.8,342.76 382.3,341.48 382.8,341.23 383.3,342.42 383.8,343 384.3,342.55 384.8,342.93 385.3,343.06 385.8,342.63 386.3,342.17 386.8,342.05 387.3,342.09 387.8,341.93 388.3,342.43 388.8,342.9 389.3,342.31 389.8,341.58 390.3,342.13 390.8,342.71 391.3,342.38 391.8,342.23 392.3,342.47 392.8,342.44 393.3,342.86 393.8,342.39 394.3,342.38 394.8,342.84 395.3,343.02 395.8,342.63 396.3,342.37 396.8,343.01 397.3,342.88 397.8,342.94 398.3,342.94 398.8,342.61 399.3,342.66 399.8,342.85 400.3,342.47 400.8,342.31 401.3,341.96 401.8,342.43 402.3,342.56 402.8,342.33 403.3,343.02 403.8,342.58 404.3,341.91 404.8,342.41 405.3,342.48 405.8,342.98 406.3,343.17 406.8,342.18 407.3,342.04 407.8,342.41 408.3,342.7 408.8,342.73 409.3,342.32 409.8,342.15 410.3,342.13 410.8,341.75 411.3,342.23 411.8,342.41 412.3,342.05 412.8,342.49 413.3,341.82 413.8,341.57 414.3,342.1 414.8,341.5 415.3,341.62 415.8,341.87 416.3,341.98 416.8,342.46 417.3,341.93 417.8,341.39 418.3,341.34 418.8,341.28 419.3,341.32 419.8,341.5 420.3,341.77 420.8,341.76 421.3,341.47 421.8,341.18 422.3,341.48 422.8,341.6 423.3,341.33 423.8,340.97 424.3,340.95 424.8,340.59 425.3,340.31 425.8,341.25 426.3,341.04 426.8,340.44 427.3,340.99 427.8,340.07 428.3,339.51 428.8,340.13 429.3,339.77 429.8,338.93 430.3,338.58 430.8,338.74 431.3,337.97 431.8,337.74 432.3,338.34 432.8,337.89 433.3,337.98 433.8,337.48 434.3,336.93 434.8,337.9 435.3,337.68 435.8,337.54 436.3,337.57 436.8,337.23 437.3,338.04 437.8,338.41 438.3,337.61 438.8,337.24 439.3,337.57 439.8,338.02 440.3,338.12 440.8,338.91 441.3,340.02 441.8,339.87 442.3,339.41 442.8,339.36 443.3,339.45 443.8,339.37 444.3,338.03 444.8,337.81 445.3,338.94 445.8,339.47 446.3,339.15 446.8,338.54 447.3,338.33 447.8,337.96 448.3,337.75 448.8,337.15 449.3,335.46 449.8,333.33 450.3,332.56 450.8,331.07 451.3,329.3 451.8,327.66 452.3,325.03 452.8,322.92 453.3,320.97 453.8,319 454.3,316.74 454.8,313.77 455.3,311.16 455.8,308.17 456.3,304.72 456.8,300.96 457.3,297.77 457.8,294.74 458.3,290.05 458.8,285.37 459.3,281.88 459.8,279.14 460.3,275.55 460.8,272.8 461.3,270.57 461.8,267.45 462.3,263.93 462.8,260.82 463.3,258.09 463.8,254.71 464.3,251.47 464.8,248.26 465.3,245.05 465.8,242.35 466.3,240.23 466.8,237.75 467.3,235.31 467.8,235.15 468.3,236.71 468.8,239.48 469.3,243.13 469.8,245.74 470.3,248.93 470.8,252.8 471.3,255.73 471.8,259.22 472.3,262.39 472.8,265.12 473.3,268 473.8,270.76 474.3,273.89 474.8,277.56 475.3,280.51 475.8,283.49 476.3,287.41 476.8,290.92 477.3,294.24 477.8,297.45 478.3,301.31 478.8,305.35 479.3,308.73 479.8,311.27 480.3,313.62 480.8,316.4 481.3,319.7 481.8,322.83 482.3,324.35 482.8,325.54 483.3,327.8 483.8,329.44 484.3,330.99 484.8,332.07 485.3,332.61 485.8,333.94 486.3,334.92 486.8,335.68 487.3,336.41 487.8,336.6 488.3,336.73 488.8,337.29 489.3,336.88 489.8,337.12 490.3,338.19 490.8,337.94 491.3,338.01 491.8,338.55 492.3,338.75 492.8,339.02 493.3,339.64 493.8,339.48 494.3,339.2 494.8,338.96 495.3,338.67 495.8,339.34 496.3,339.88 496.8,339.9 497.3,339.85 497.8,339.82 498.3,339.66 498.8,340.53 499.3,341.11 499.8,340.71 500.3,340.44 500.8,340.61 501.3,341.48 501.8,341.09 502.3,340.51 502.8,340.71 503.3,341.43 503.8,341.87 504.3,341.03 504.8,340.59 505.3,340.45 505.8,340.62 506.3,341.02 506.8,341.42 507.3,341.8 507.8,341.88 508.3,341.47 508.8,341.26 509.3,340.78 509.8,340.97 510.3,341.94 510.8,341.72 511.3,342.15 511.8,342.63 512.3,342.29 512.8,341.67 513.3,341.96 513.8,342.9 514.3,343.12 514.8,342.55 515.3,341.84 515.8,342.32 516.3,343.21 516.8,343.37 517.3,342.75 517.8,342.26 518.3,342.24 518.8,342.26 519.3,343.1 519.8,343.51 520.3,342.65 520.8,342.34 521.3,342.02 521.8,341.98 522.3,341.87 522.8,342.05 523.3,342.67 523.8,342.29 524.3,342.19 524.8,342.43 525.3,342.35 525.8,342.51 526.3,343.03 526.8,342.41 527.3,342.19 527.8,342.51 528.3,342.67 528.8,342.79 529.3,342.77 529.8,343.05 530.3,343.18 530.8,342.84 531.3,342.83 531.8,343.02 532.3,342.5 532.8,342.89 533.3,342.57 533.8,342.38 534.3,342.73 534.8,343.2 535.3,344.14 535.8,343.59 536.3,343.02 536.8,343.06 537.3,342.85 537.8,342.56 538.3,343.39 538.8,343.81 539.3,342.84 539.8,342.4 540.3,343 540.8,343.04 541.3,342.23 541.8,342.68 542.3,342.78 542.8,342.43 543.3,342.98 543.8,342.74 544.3,342.77 544.8,342.45 545.3,341.88 545.8,342.59 546.3,343.28 546.8,343.05 547.3,342.65 547.8,342.9 548.3,342.82 548.8,343.19 549.3,343.17 549.8,342.79 550.3,342.63 550.8,342.4 551.3,342.91 551.8,343.11 552.3,342.65 552.8,342.87 553.3,343.12 553.8,342.63 554.3,342.91 554.8,343.33 555.3,343.71 555.8,343.63 556.3,342.59 556.8,342.57 557.3,342.8 557.8,342.95 558.3,343.17 558.8,342.76 559.3,342.58 559.8,342.51 560.3,342.63 560.8,342.95 561.3,342.92 561.8,343.45 562.3,344.15 562.8,343.48 563.3,343.47 563.8,343.55 564.3,342.8 564.8,342.82 565.3,342.29 565.8,342.18 566.3,343.58 566.8,344.33 567.3,343.92 567.8,343.55 568.3,343.5 568.8,343.29 569.3,342.87 569.8,343.25 570.3,343.82 570.8,342.98 571.3,342.34 571.8,342.67 572.3,343.16 572.8,342.79 573.3,341.96 573.8,342.74 574.3,343.44 574.8,342.54 575.3,342.78 575.8,343.65 576.3,343.77 576.8,343.92 577.3,343.56 577.8,343.31 578.3,343.05 578.8,342.67 579.3,342.24 579.8,342.69 580.3,343.07 580.8,342.42 581.3,342.87 581.8,343.09 582.3,342.47 582.8,342.74 583.3,343.1 583.8,343.42 584.3,343.34 584.8,343.55 585.3,343.94 585.8,343.74 586.3,343.48 586.8,343.32 587.3,343.25 587.8,343.02 588.3,343.03 588.8,343.06 589.3,342.86 589.8,342.45 590.3,342.72 590.8,343.18 591.3,342.84 591.8,342.52 592.3,343.26 592.8,343.69 593.3,343.15 593.8,342.68 594.3,343.5 594.8,343.67 595.3,343.15 595.8,343.37 596.3,343.62 596.8,344.19 597.3,343.37 597.8,342.88 598.3,343.17 598.8,343.02 599.3,343.3 599.8,342.96 600.3,342.76 600.8,342.8 601.3,342.47 601.8,342.76 602.3,342.9 602.8,343.08 603.3,343.11 603.8,342.86 604.3,342.89 604.8,343.03 605.3,342.82 605.8,342.33 606.3,342.47 606.8,342.84 607.3,342.88 607.8,343.07 608.3,343.08 608.8,343.46 609.3,343.68 609.8,343.15 610.3,343.34 610.8,343.15 611.3,342.85 611.8,342.74 612.3,342.25 612.8,342.86 613.3,343.09 613.8,342.74 614.3,343.73 614.8,344.05 615.3,342.92 615.8,343.15 616.3,343.32 616.8,343.14 617.3,343.29 617.8,342.99 618.3,342.87 618.8,342.36 619.3,342.69 619.8,343.05" fill="none" stroke="#f0821e" stroke-width="3.7" stroke-linejoin="round" stroke-linecap="round" />
<polyline points="377.3,430.7 377.8,430.62 378.3,430.77 378.8,430.74 379.3,430.69 379.8,430.53 380.3,430.54 380.8,430.61 381.3,430.59 381.8,430.6 382.3,430.65 382.8,430.47 383.3,430.44 383.8,430.37 384.3,430.54 384.8,430.4 385.3,430.09 385.8,430.12 386.3,430.34 386.8,430.75 387.3,430.99 387.8,430.98 388.3,431.07 388.8,430.82 389.3,430.62 389.8,430.46 390.3,430.53 390.8,430.54 391.3,430.43 391.8,430.28 392.3,430.46 392.8,430.5 393.3,430.76 393.8,430.59 394.3,431.07 394.8,430.71 395.3,430.9 395.8,430.64 396.3,430.88 396.8,430.85 397.3,430.66 397.8,430.74 398.3,430.6 398.8,430.98 399.3,430.68 399.8,431.21 400.3,430.98 400.8,431.06 401.3,430.76 401.8,430.83 402.3,430.84 402.8,430.64 403.3,430.44 403.8,430.39 404.3,430.46 404.8,430.43 405.3,430.57 405.8,430.59 406.3,430.58 406.8,430.78 407.3,430.81 407.8,430.73 408.3,430.4 408.8,430.23 409.3,430.14 409.8,429.92 410.3,429.91 410.8,430.13 411.3,430.38 411.8,430.39 412.3,430.16 412.8,429.89 413.3,430.31 413.8,430.62 414.3,430.91 414.8,430.65 415.3,430.8 415.8,430.98 416.3,430.98 416.8,430.86 417.3,430.76 417.8,430.52 418.3,430.6 418.8,430.51 419.3,430.63 419.8,430.42 420.3,430.3 420.8,430.37 421.3,430.56 421.8,430.63 422.3,430.63 422.8,430.72 423.3,430.95 423.8,430.8 424.3,430.52 424.8,430.55 425.3,430.64 425.8,430.73 426.3,430.31 426.8,430.33 427.3,430.25 427.8,430.68 428.3,430.61 428.8,430.75 429.3,430.48 429.8,430.54 430.3,430.46 430.8,430.58 431.3,430.47 431.8,430.59 432.3,430.59 432.8,430.71 433.3,430.5 433.8,430.67 434.3,430.56 434.8,430.51 435.3,430.35 435.8,430.61 436.3,430.51 436.8,430.35 437.3,430.29 437.8,430.63 438.3,430.55 438.8,430.4 439.3,430.19 439.8,430.53 440.3,430.44 440.8,430.38 441.3,430.2 441.8,430.3 442.3,430.32 442.8,430.44 443.3,430.34 443.8,430.43 444.3,430.38 444.8,430.42 445.3,430.36 445.8,430.19 446.3,429.93 446.8,429.79 447.3,430.03 447.8,430.3 448.3,430.36 448.8,429.89 449.3,429.61 449.8,429.26 450.3,429.5 450.8,429.51 451.3,429.82 451.8,429.56 452.3,429.48 452.8,429.29 453.3,428.95 453.8,428.68 454.3,428.16 454.8,427.83 455.3,427.43 455.8,426.83 456.3,426.45 456.8,425.72 457.3,424.67 457.8,423.27 458.3,421.63 458.8,420.17 459.3,418.36 459.8,417.01 460.3,415.51 460.8,414.04 461.3,412.43 461.8,410.79 462.3,409.63 462.8,408.28 463.3,407.09 463.8,405.98 464.3,405.48 464.8,405.81 465.3,406.41 465.8,407.45 466.3,408.83 466.8,410.29 467.3,411.69 467.8,413.23 468.3,415.11 468.8,416.65 469.3,418.13 469.8,419.66 470.3,421.08 470.8,422.48 471.3,423.68 471.8,425.01 472.3,426.15 472.8,426.66 473.3,427.44 473.8,427.72 474.3,428.28 474.8,428.38 475.3,428.62 475.8,428.81 476.3,429.09 476.8,429.58 477.3,429.67 477.8,429.5 478.3,429.22 478.8,429.14 479.3,429.12 479.8,429.13 480.3,429.38 480.8,429.58 481.3,429.84 481.8,429.94 482.3,430.04 482.8,430.05 483.3,430.16 483.8,430.24 484.3,430.49 484.8,430.44 485.3,430.46 485.8,430.3 486.3,430.11 486.8,430.39 487.3,430.46 487.8,431.01 488.3,430.95 488.8,431.23 489.3,431 489.8,430.79 490.3,430.32 490.8,430.23 491.3,430.13 491.8,430.22 492.3,430.2 492.8,430.35 493.3,430.5 493.8,430.62 494.3,430.95 494.8,430.59 495.3,430.67 495.8,430.38 496.3,430.62 496.8,430.38 497.3,430.32 497.8,430.3 498.3,430.46 498.8,430.48 499.3,430.49 499.8,430.59 500.3,430.61 500.8,430.74 501.3,430.79 501.8,430.65 502.3,430.4 502.8,430.2 503.3,430.23 503.8,430.47 504.3,430.46 504.8,430.51 505.3,430.3 505.8,429.96 506.3,430.03 506.8,430.42 507.3,430.87 507.8,430.75 508.3,430.42 508.8,430.28 509.3,430.44 509.8,430.61 510.3,430.69 510.8,430.63 511.3,430.42 511.8,430.44 512.3,430.53 512.8,430.61 513.3,430.42 513.8,430.33 514.3,430.43 514.8,430.58 515.3,430.58 515.8,430.77 516.3,430.79 516.8,430.86 517.3,430.6 517.8,430.36 518.3,430.37 518.8,430.37 519.3,430.7 519.8,430.68 520.3,430.59 520.8,430.31 521.3,430.46 521.8,430.82 522.3,430.97 522.8,430.92 523.3,430.68 523.8,430.75 524.3,430.48 524.8,430.65 525.3,430.67 525.8,430.72 526.3,430.59 526.8,430.43 527.3,430.4 527.8,430.42 528.3,430.67 528.8,430.79 529.3,431.06 529.8,430.98 530.3,430.81 530.8,430.52 531.3,430.39 531.8,430.58 532.3,430.46 532.8,430.38 533.3,430.55 533.8,430.48 534.3,430.6 534.8,430.57 535.3,430.73 535.8,430.72 536.3,430.82 536.8,430.81 537.3,430.64 537.8,430.42 538.3,430.23 538.8,430.3 539.3,430.29 539.8,430.57 540.3,430.7 540.8,430.67 541.3,430.74 541.8,430.8 542.3,430.9 542.8,430.91 543.3,430.72 543.8,430.84 544.3,430.58 544.8,430.88 545.3,430.82 545.8,430.74 546.3,430.49 546.8,430.34 547.3,430.76 547.8,430.7 548.3,431.05 548.8,430.8 549.3,431 549.8,430.63 550.3,430.65 550.8,430.49 551.3,430.45 551.8,430.52 552.3,430.81 552.8,430.79 553.3,430.76 553.8,430.75 554.3,430.95 554.8,430.82 555.3,430.57 555.8,430.48 556.3,430.59 556.8,430.48 557.3,430.62 557.8,430.55 558.3,430.48 558.8,430.35 559.3,430.72 559.8,430.7 560.3,430.94 560.8,430.51 561.3,430.8 561.8,430.67 562.3,430.72 562.8,430.51 563.3,430.46 563.8,430.55 564.3,430.69 564.8,430.63 565.3,430.83 565.8,430.89 566.3,430.93 566.8,430.44 567.3,430.42 567.8,430.67 568.3,430.81 568.8,430.96 569.3,430.81 569.8,431.05 570.3,430.83 570.8,430.66 571.3,430.79 571.8,430.7 572.3,430.67 572.8,430.4 573.3,430.54 573.8,430.61 574.3,430.73 574.8,430.7 575.3,430.51 575.8,430.35 576.3,430.45 576.8,430.69 577.3,430.74 577.8,430.72 578.3,430.86 578.8,430.71 579.3,430.6 579.8,430.59 580.3,430.76 580.8,430.75 581.3,430.56 581.8,430.5 582.3,430.9 582.8,430.98 583.3,431 583.8,430.62 584.3,430.44 584.8,430.51 585.3,430.62 585.8,430.65 586.3,430.95 586.8,431.02 587.3,431.19 587.8,430.97 588.3,430.87 588.8,430.74 589.3,430.45 589.8,430.36 590.3,430.64 590.8,430.66 591.3,430.66 591.8,430.68 592.3,430.79 592.8,430.85 593.3,430.34 593.8,430.38 594.3,430.52 594.8,430.57 595.3,430.67 595.8,430.44 596.3,430.65 596.8,430.54 597.3,430.71 597.8,430.71 598.3,430.72 598.8,430.64 599.3,430.68 599.8,430.65 600.3,430.64 600.8,430.61 601.3,430.73 601.8,430.65 602.3,430.44 602.8,430.21 603.3,429.8 603.8,429.58 604.3,429.23 604.8,428.9 605.3,428.37 605.8,427.88 606.3,427.35 606.8,426.93 607.3,426.05 607.8,425.32 608.3,424.16 608.8,423.41 609.3,422.98 609.8,423.09 610.3,423.24 610.8,423.23 611.3,423.4 611.8,423.88 612.3,424.21 612.8,424.92 613.3,425.47 613.8,426.58 614.3,427.24 614.8,428.07 615.3,428.62 615.8,429.09 616.3,429.38 616.8,429.8 617.3,430.07 617.8,430.25 618.3,430.43 618.8,430.58 619.3,430.61 619.8,430.44" fill="none" stroke="#224a8c" stroke-width="3" stroke-linejoin="round" stroke-linecap="round" />
<line x1="94" y1="487.2" x2="94" y2="495.6" stroke="#000" stroke-width="4" />
<line x1="131.8" y1="487.2" x2="131.8" y2="491.6" stroke="#000" stroke-width="4" />
<line x1="169.6" y1="487.2" x2="169.6" y2="495.6" stroke="#000" stroke-width="4" />
<line x1="207.4" y1="487.2" x2="207.4" y2="491.6" stroke="#000" stroke-width="4" />
<line x1="245" y1="487.2" x2="245" y2="495.6" stroke="#000" stroke-width="4" />
<line x1="282.7" y1="487.2" x2="282.7" y2="491.6" stroke="#000" stroke-width="4" />
<line x1="320.6" y1="487.2" x2="320.6" y2="495.6" stroke="#000" stroke-width="4" />
<rect x="75.5" y="54.2" width="245.3" height="433" fill="none" stroke="#000" stroke-width="4.4"/>
<line x1="376.3" y1="487.2" x2="376.3" y2="491.6" stroke="#000" stroke-width="4" />
<line x1="457.3" y1="487.2" x2="457.3" y2="495.6" stroke="#000" stroke-width="4" />
<line x1="539.3" y1="487.2" x2="539.3" y2="491.6" stroke="#000" stroke-width="4" />
<line x1="621.3" y1="487.2" x2="621.3" y2="495.6" stroke="#000" stroke-width="4" />
<rect x="376.3" y="54.2" width="245" height="433" fill="none" stroke="#000" stroke-width="4.4"/>
<text x="94" y="530" font-size="34" font-family="'Liberation Sans', Arial, Helvetica, sans-serif" font-weight="bold" fill="#000" text-anchor="middle">4</text>
<text x="169.6" y="530" font-size="34" font-family="'Liberation Sans', Arial, Helvetica, sans-serif" font-weight="bold" fill="#000" text-anchor="middle">6</text>
<text x="245" y="530" font-size="34" font-family="'Liberation Sans', Arial, Helvetica, sans-serif" font-weight="bold" fill="#000" text-anchor="middle">8</text>
<text x="320.6" y="530" font-size="34" font-family="'Liberation Sans', Arial, Helvetica, sans-serif" font-weight="bold" fill="#000" text-anchor="middle">10</text>
<text x="457.3" y="530" font-size="34" font-family="'Liberation Sans', Arial, Helvetica, sans-serif" font-weight="bold" fill="#000" text-anchor="middle">14</text>
<text x="621.3" y="530" font-size="34" font-family="'Liberation Sans', Arial, Helvetica, sans-serif" font-weight="bold" fill="#000" text-anchor="middle">16</text>
<text x="99" y="568" font-size="35" font-family="'Liberation Sans', Arial, Helvetica, sans-serif" font-weight="bold" fill="#000" textLength="197" lengthAdjust="spacingAndGlyphs">2<tspan font-style="italic">θ</tspan> (degree)</text>
<text x="400" y="568" font-size="35" font-family="'Liberation Sans', Arial, Helvetica, sans-serif" font-weight="bold" fill="#000" textLength="197" lengthAdjust="spacingAndGlyphs">2<tspan font-style="italic">θ</tspan> (degree)</text>
<line x1="81.6" y1="75" x2="136" y2="75" stroke="#224a8c" stroke-width="2.8" stroke-linecap="round"/>
<text x="141" y="82.3" font-size="22.5" font-family="'Liberation Sans', Arial, Helvetica, sans-serif" font-weight="bold" fill="#000" textLength="145.5" lengthAdjust="spacingAndGlyphs">Annealing-0s</text>
<line x1="81.6" y1="103.3" x2="136" y2="103.3" stroke="#f0821e" stroke-width="2.8" stroke-linecap="round"/>
<text x="141" y="110.6" font-size="22.5" font-family="'Liberation Sans', Arial, Helvetica, sans-serif" font-weight="bold" fill="#000" textLength="158.5" lengthAdjust="spacingAndGlyphs">Annealing-30s</text>
<line x1="81.6" y1="131.6" x2="136" y2="131.6" stroke="#111a26" stroke-width="2.8" stroke-linecap="round"/>
<text x="141" y="138.9" font-size="22.5" font-family="'Liberation Sans', Arial, Helvetica, sans-serif" font-weight="bold" fill="#000" textLength="174.5" lengthAdjust="spacingAndGlyphs">Annealing-1min</text>
<text x="479.4" y="98.6" font-size="26" font-family="'Liberation Sans', Arial, Helvetica, sans-serif" font-weight="bold" fill="#000" textLength="122" lengthAdjust="spacingAndGlyphs">PEASCN</text>
<text x="479.4" y="136" font-size="26" font-family="'Liberation Sans', Arial, Helvetica, sans-serif" font-weight="bold" fill="#000" textLength="138" lengthAdjust="spacingAndGlyphs">-FAHCOO</text>
<text x="144" y="362" font-size="37.5" font-family="'Liberation Sans', Arial, Helvetica, sans-serif" font-weight="bold" fill="#224a8c" transform="rotate(-90 144 362)">(002)<tspan font-size="24.5" dy="10">2L</tspan><tspan dy="-10">&#8203;</tspan></text>
<text x="266" y="415" font-size="37.5" font-family="'Liberation Sans', Arial, Helvetica, sans-serif" font-weight="bold" fill="#224a8c" transform="rotate(-90 266 415)">(004)<tspan font-size="24.5" dy="10">2L</tspan><tspan dy="-10">&#8203;</tspan></text>
<text x="510" y="426" font-size="37.5" font-family="'Liberation Sans', Arial, Helvetica, sans-serif" font-weight="bold" fill="#224a8c" transform="rotate(-90 510 426)">(100)<tspan font-size="24.5" dy="10">3D</tspan><tspan dy="-10">&#8203;</tspan></text>
</g>
<g id="panel-f">
<text x="9.5" y="1212" font-size="50" font-family="'Liberation Serif', 'Times New Roman', Times, serif" font-weight="bold" fill="#000">f</text>
<text x="35" y="1597.5" font-size="36.5" font-family="'Liberation Sans', Arial, Helvetica, sans-serif" font-weight="bold" fill="#000" transform="rotate(-90 35 1597.5)" textLength="343" lengthAdjust="spacingAndGlyphs">Intensity (arb. units)</text>
<polyline points="75,1364.63 75.9,1364.57 76.8,1363.85 77.7,1364.22 78.6,1364.82 79.5,1362.69 80.4,1362.28 81.3,1361.72 82.2,1360.77 83.1,1362.09 84,1363.76 84.9,1363.57 85.8,1362.66 86.7,1362.53 87.6,1363.27 88.5,1363.41 89.4,1362.66 90.3,1361.38 91.2,1361.73 92.1,1361.87 93,1362.23 93.9,1362.5 94.8,1363.5 95.7,1364.31 96.6,1362.56 97.5,1362.93 98.4,1363.95 99.3,1363.52 100.2,1363.25 101.1,1361.7 102,1361.3 102.9,1362.36 103.8,1362.16 104.7,1361.7 105.6,1362.23 106.5,1361.67 107.4,1361.09 108.3,1361.97 109.2,1362.96 110.1,1363.35 111,1363.3 111.9,1363.26 112.8,1362.86 113.7,1362.49 114.6,1360.81 115.5,1361.55 116.4,1360.91 117.3,1359.37 118.2,1362.17 119.1,1364.24 120,1364.34 120.9,1362.96 121.8,1360.81 122.7,1361.58 123.6,1361.21 124.5,1361.08 125.4,1361.23 126.3,1360.73 127.2,1362.15 128.1,1362.42 129,1361.89 129.9,1362.67 130.8,1361.12 131.7,1361.93 132.6,1362.68 133.5,1360.98 134.4,1361.42 135.3,1360.54 136.2,1360.39 137.1,1361.99 138,1361.42 138.9,1361.12 139.8,1361.69 140.7,1361.88 141.6,1362.83 142.5,1363.13 143.4,1362.66 144.3,1363.26 145.2,1362.48 146.1,1361.74 147,1361.33 147.9,1364.13 148.8,1365 149.7,1363.96 150.6,1363.03 151.5,1363.51 152.4,1362.94 153.3,1362.28 154.2,1360.47 155.1,1361.57 156,1360.87 156.9,1359.25 157.8,1358.76 158.7,1358.16 159.6,1359.66 160.5,1361.2 161.4,1361.18 162.3,1361.94 163.2,1362.94 164.1,1363.35 165,1361.77 165.9,1360.13 166.8,1360.66 167.7,1360.79 168.6,1359.63 169.5,1358.67 170.4,1359.61 171.3,1361.53 172.2,1360.66 173.1,1358.14 174,1357.59 174.9,1357.83 175.8,1357.38 176.7,1357.68 177.6,1359.52 178.5,1360.11 179.4,1360.54 180.3,1360.03 181.2,1359.49 182.1,1359.5 183,1359.4 183.9,1360.79 184.8,1361.96 185.7,1361.11 186.6,1360.99 187.5,1360.14 188.4,1360.2 189.3,1361.42 190.2,1360.86 191.1,1360.85 192,1360.37 192.9,1360.86 193.8,1362.18 194.7,1360.24 195.6,1358.76 196.5,1359.09 197.4,1360.38 198.3,1359.36 199.2,1357.22 200.1,1356.18 201,1356.96 201.9,1358.3 202.8,1358.49 203.7,1359.9 204.6,1361.25 205.5,1360.13 206.4,1358.65 207.3,1359.31 208.2,1358.24 209.1,1358.38 210,1359.21 210.9,1359.47 211.8,1360 212.7,1359.51 213.6,1359.75 214.5,1361.29 215.4,1361.55 216.3,1359.99 217.2,1359.45 218.1,1358.61 219,1359.41 219.9,1361.67 220.8,1361.12 221.7,1359.34 222.6,1360.06 223.5,1360.02 224.4,1359.53 225.3,1359.28 226.2,1358.72 227.1,1357.97 228,1357.08 228.9,1358.13 229.8,1359.4 230.7,1361.14 231.6,1360.9 232.5,1359.61 233.4,1360.22 234.3,1360.99 235.2,1360.99 236.1,1358.95 237,1358.54 237.9,1359.22 238.8,1359.55 239.7,1359.21 240.6,1358.84 241.5,1359.49 242.4,1360.34 243.3,1362.12 244.2,1361.91 245.1,1360.98 246,1360.93 246.9,1360.9 247.8,1358.78 248.7,1357.75 249.6,1358.74 250.5,1360.5 251.4,1361.6 252.3,1361.17 253.2,1361.16 254.1,1359.83 255,1359.09 255.9,1360.56 256.8,1362.47 257.7,1361.72 258.6,1359.49 259.5,1360.11 260.4,1359.39 261.3,1359.2 262.2,1359.25 263.1,1358.51 264,1358.83 264.9,1359.16 265.8,1358.09 266.7,1358.48 267.6,1359.32 268.5,1359.98 269.4,1359.25 270.3,1358.78 271.2,1359.25 272.1,1358.19 273,1359.32 273.9,1358.58 274.8,1357.09 275.7,1358.44 276.6,1359.62 277.5,1359.26 278.4,1358.37 279.3,1356.95 280.2,1356.72 281.1,1357.36 282,1357.45 282.9,1358.22 283.8,1358.52 284.7,1357.47 285.6,1357.89 286.5,1359 287.4,1358.7 288.3,1359.18 289.2,1357.82 290.1,1358.26 291,1358.7 291.9,1356.97 292.8,1356.43 293.7,1357.59 294.6,1357.98 295.5,1356.72 296.4,1357.27 297.3,1358.9 298.2,1359.84 299.1,1359.52 300,1358.37 300.9,1357.91 301.8,1358.95 302.7,1358.55 303.6,1358.21 304.5,1357.21 305.4,1357.71 306.3,1358.12 307.2,1357.65 308.1,1357.96 309,1356.66 309.9,1356.97 310.8,1361.01 311.7,1360.71 312.6,1361.23 313.5,1361.71 314.4,1360.01 315.3,1357.82 316.2,1357.35" fill="none" stroke="#111a26" stroke-width="2.9" stroke-linejoin="round" stroke-linecap="round" />
<polyline points="75,1494.79 75.9,1493.02 76.8,1492.08 77.7,1494.34 78.6,1495.73 79.5,1494.39 80.4,1493.84 81.3,1493.96 82.2,1494.33 83.1,1494.7 84,1494.68 84.9,1496.08 85.8,1496.15 86.7,1494.97 87.6,1495.56 88.5,1495.6 89.4,1493.8 90.3,1495.31 91.2,1494.05 92.1,1491.88 93,1492.63 93.9,1492.69 94.8,1491.93 95.7,1493.4 96.6,1493.33 97.5,1494.07 98.4,1493.92 99.3,1493.92 100.2,1494.64 101.1,1496.37 102,1496.63 102.9,1494.6 103.8,1493.64 104.7,1494.07 105.6,1494.13 106.5,1493.72 107.4,1494.1 108.3,1496.23 109.2,1496.52 110.1,1494.95 111,1494.07 111.9,1494.28 112.8,1494.63 113.7,1494.15 114.6,1493.5 115.5,1494.65 116.4,1495.44 117.3,1495.83 118.2,1492.7 119.1,1491.48 120,1492.87 120.9,1492.93 121.8,1492.47 122.7,1494.15 123.6,1494.29 124.5,1493.97 125.4,1494.29 126.3,1495.28 127.2,1495.45 128.1,1495.27 129,1495.75 129.9,1495.66 130.8,1492.95 131.7,1490.75 132.6,1491.38 133.5,1490.06 134.4,1491.64 135.3,1493.07 136.2,1493.44 137.1,1494.92 138,1494.61 138.9,1494.68 139.8,1495.37 140.7,1494.21 141.6,1493.76 142.5,1494.17 143.4,1492.95 144.3,1493.9 145.2,1493.16 146.1,1493.63 147,1495.02 147.9,1495.11 148.8,1495.05 149.7,1493.93 150.6,1493.41 151.5,1493.47 152.4,1495.28 153.3,1495.13 154.2,1494.49 155.1,1494.13 156,1494.34 156.9,1493.81 157.8,1495.06 158.7,1495.45 159.6,1495.65 160.5,1495.45 161.4,1494.58 162.3,1494.09 163.2,1494.11 164.1,1494.83 165,1495.26 165.9,1493.94 166.8,1493.54 167.7,1494.03 168.6,1493.52 169.5,1494.02 170.4,1495.14 171.3,1496.06 172.2,1496.86 173.1,1495 174,1494.96 174.9,1495.11 175.8,1492.76 176.7,1493.79 177.6,1495.43 178.5,1494.52 179.4,1495.03 180.3,1493.82 181.2,1492.55 182.1,1494.35 183,1493.57 183.9,1494.05 184.8,1496.05 185.7,1494.98 186.6,1495.29 187.5,1495.51 188.4,1494.78 189.3,1495.52 190.2,1496.98 191.1,1496.74 192,1495.38 192.9,1495.04 193.8,1496.05 194.7,1495.44 195.6,1492.9 196.5,1495.34 197.4,1496.86 198.3,1495.62 199.2,1494.41 200.1,1495.66 201,1496.54 201.9,1496.24 202.8,1495.94 203.7,1495.26 204.6,1496.57 205.5,1496.08 206.4,1495.14 207.3,1494.43 208.2,1493.02 209.1,1494.08 210,1494.35 210.9,1494.58 211.8,1495.7 212.7,1493.41 213.6,1493.1 214.5,1494.39 215.4,1494.03 216.3,1493.86 217.2,1495.31 218.1,1494.03 219,1493.02 219.9,1494.87 220.8,1495.08 221.7,1493.69 222.6,1494.88 223.5,1495.09 224.4,1495.23 225.3,1495.29 226.2,1494.59 227.1,1494.28 228,1493.76 228.9,1492.93 229.8,1492.79 230.7,1494.58 231.6,1495.26 232.5,1494.64 233.4,1494.52 234.3,1495.07 235.2,1494.93 236.1,1494.01 237,1494.85 237.9,1497.96 238.8,1496.51 239.7,1494.45 240.6,1494.86 241.5,1496.9 242.4,1496.28 243.3,1495.92 244.2,1497.3 245.1,1497.4 246,1497.78 246.9,1497.5 247.8,1497.03 248.7,1497.74 249.6,1497.17 250.5,1495.86 251.4,1496.47 252.3,1495.86 253.2,1496.16 254.1,1496.95 255,1496.43 255.9,1494.31 256.8,1495.32 257.7,1496.72 258.6,1495.52 259.5,1495.18 260.4,1496.19 261.3,1495.94 262.2,1494.06 263.1,1494.45 264,1495.11 264.9,1496.69 265.8,1496.1 266.7,1498.39 267.6,1498.39 268.5,1496.45 269.4,1496.15 270.3,1495.97 271.2,1496.49 272.1,1496.68 273,1496 273.9,1496.05 274.8,1495.75 275.7,1495.06 276.6,1494.02 277.5,1493.72 278.4,1494.22 279.3,1495.41 280.2,1494.19 281.1,1495.24 282,1494.88 282.9,1492.81 283.8,1493.68 284.7,1493.88 285.6,1493.91 286.5,1493.62 287.4,1493.04 288.3,1494.82 289.2,1496.1 290.1,1495.21 291,1496.8 291.9,1497.15 292.8,1496.49 293.7,1496.45 294.6,1495.31 295.5,1495.51 296.4,1495.87 297.3,1495.76 298.2,1495.18 299.1,1496.1 300,1496 300.9,1496.63 301.8,1496.58 302.7,1495.09 303.6,1495.88 304.5,1496.85 305.4,1497.41 306.3,1497.02 307.2,1496.91 308.1,1495.74 309,1495.54 309.9,1494.97 310.8,1495.15 311.7,1495.88 312.6,1497.57 313.5,1497.76 314.4,1496.96 315.3,1496.39 316.2,1495.57" fill="none" stroke="#f0821e" stroke-width="3.4" stroke-linejoin="round" stroke-linecap="round" />
<polyline points="75,1629.42 75.9,1628.96 76.8,1629.21 77.7,1629.72 78.6,1629.23 79.5,1631.6 80.4,1632.64 81.3,1631.21 82.2,1630.28 83.1,1629.66 84,1628.41 84.9,1628.23 85.8,1629 86.7,1629.23 87.6,1629.14 88.5,1628.3 89.4,1626.22 90.3,1624.49 91.2,1625.22 92.1,1626.04 93,1624.31 93.9,1622.41 94.8,1620.59 95.7,1620.07 96.6,1620.83 97.5,1620.02 98.4,1620.26 99.3,1620.88 100.2,1620.84 101.1,1620.42 102,1621.14 102.9,1623.55 103.8,1625.04 104.7,1625 105.6,1623.7 106.5,1624.34 107.4,1625.33 108.3,1625.99 109.2,1625.91 110.1,1626.49 111,1627.4 111.9,1627.03 112.8,1627.85 113.7,1628.46 114.6,1627.1 115.5,1626.85 116.4,1625.95 117.3,1625.5 118.2,1628.02 119.1,1629.27 120,1628.62 120.9,1628 121.8,1628.19 122.7,1627.14 123.6,1627.77 124.5,1628.99 125.4,1628.51 126.3,1629.29 127.2,1629.62 128.1,1629.21 129,1628.37 129.9,1627.39 130.8,1629.58 131.7,1631.56 132.6,1630.47 133.5,1630.06 134.4,1629.66 135.3,1630.24 136.2,1630.27 137.1,1629.74 138,1629.84 138.9,1628.7 139.8,1628.81 140.7,1629.95 141.6,1629.45 142.5,1629.07 143.4,1628.88 144.3,1629.07 145.2,1629.94 146.1,1629.75 147,1630.12 147.9,1629.12 148.8,1628.05 149.7,1629.46 150.6,1629.91 151.5,1629.39 152.4,1629.5 153.3,1628.8 154.2,1629.61 155.1,1630.4 156,1630.27 156.9,1629.32 157.8,1629.99 158.7,1629.66 159.6,1627.81 160.5,1628.52 161.4,1628.14 162.3,1627.22 163.2,1626.43 164.1,1629.07 165,1630.85 165.9,1630.26 166.8,1628.73 167.7,1627.22 168.6,1628.02 169.5,1629.21 170.4,1628.66 171.3,1627.56 172.2,1628.86 173.1,1629.09 174,1628.66 174.9,1630.04 175.8,1630.73 176.7,1629.69 177.6,1627.75 178.5,1626.89 179.4,1628.87 180.3,1629.78 181.2,1629.3 182.1,1628.65 183,1627.52 183.9,1627.67 184.8,1630.29 185.7,1632.31 186.6,1629.25 187.5,1628.79 188.4,1629.42 189.3,1627.96 190.2,1628.56 191.1,1630.41 192,1629.94 192.9,1629.09 193.8,1628.55 194.7,1629.75 195.6,1630.32 196.5,1629.91 197.4,1629.98 198.3,1628.88 199.2,1628.21 200.1,1629.39 201,1630.26 201.9,1630.14 202.8,1629.01 203.7,1629.31 204.6,1630.61 205.5,1630.34 206.4,1629.91 207.3,1630.65 208.2,1628.61 209.1,1626.66 210,1627.36 210.9,1629.08 211.8,1630.61 212.7,1630.13 213.6,1628.41 214.5,1629.08 215.4,1628.15 216.3,1627.28 217.2,1627.62 218.1,1628.82 219,1628.28 219.9,1629.07 220.8,1630.66 221.7,1630.59 222.6,1629.32 223.5,1629.48 224.4,1629.85 225.3,1630.47 226.2,1630.55 227.1,1629.86 228,1629.48 228.9,1629.19 229.8,1629.41 230.7,1629.87 231.6,1628.01 232.5,1627.01 233.4,1628.98 234.3,1629.36 235.2,1627.35 236.1,1627.4 237,1628.62 237.9,1629.62 238.8,1629.14 239.7,1628.48 240.6,1629.31 241.5,1630.05 242.4,1629.46 243.3,1628.48 244.2,1630.28 245.1,1629.31 246,1627.9 246.9,1629.33 247.8,1630.24 248.7,1630.59 249.6,1629.34 250.5,1630.11 251.4,1631.91 252.3,1629.72 253.2,1629 254.1,1628.05 255,1627.49 255.9,1627.96 256.8,1627.18 257.7,1626.46 258.6,1625.95 259.5,1626.83 260.4,1628.3 261.3,1629.63 262.2,1629.96 263.1,1628.2 264,1626.91 264.9,1629.32 265.8,1630.39 266.7,1630.24 267.6,1630.25 268.5,1631.21 269.4,1631.86 270.3,1630.49 271.2,1628.6 272.1,1628.49 273,1629.31 273.9,1628.75 274.8,1629.23 275.7,1627.95 276.6,1627.5 277.5,1630 278.4,1630.79 279.3,1629.84 280.2,1628.84 281.1,1627.99 282,1628.25 282.9,1628.15 283.8,1629.37 284.7,1630.86 285.6,1629.73 286.5,1629.18 287.4,1630.56 288.3,1629.09 289.2,1629.65 290.1,1628.94 291,1627.92 291.9,1629.82 292.8,1630.61 293.7,1629.9 294.6,1628.83 295.5,1629.38 296.4,1629.52 297.3,1629.25 298.2,1628.86 299.1,1628.7 300,1628.25 300.9,1628.26 301.8,1627.87 302.7,1627.42 303.6,1627.79 304.5,1628.64 305.4,1629.17 306.3,1628.09 307.2,1627.49 308.1,1627.62 309,1628.07 309.9,1629.49 310.8,1629.33 311.7,1627.86 312.6,1628.47 313.5,1630.19 314.4,1629.63 315.3,1628.46 316.2,1629.92" fill="none" stroke="#224a8c" stroke-width="3.2" stroke-linejoin="round" stroke-linecap="round" />
<polyline points="374.5,1356.14 375.4,1355.75 376.3,1356.82 377.2,1357.01 378.1,1356.79 379,1356.26 379.9,1356.34 380.8,1357.78 381.7,1359.26 382.6,1359.44 383.5,1357.66 384.4,1356.49 385.3,1357.87 386.2,1357.9 387.1,1357.93 388,1357.64 388.9,1357.62 389.8,1356.75 390.7,1356.39 391.6,1356.93 392.5,1357.2 393.4,1356.05 394.3,1355.42 395.2,1356.22 396.1,1356.25 397,1354.59 397.9,1355.08 398.8,1356.29 399.7,1354.47 400.6,1353.22 401.5,1354.27 402.4,1357.57 403.3,1357.84 404.2,1355.75 405.1,1355.38 406,1355.06 406.9,1355.37 407.8,1355.13 408.7,1356.3 409.6,1357.47 410.5,1355.66 411.4,1354.97 412.3,1355.35 413.2,1354.58 414.1,1352.12 415,1352.61 415.9,1353.4 416.8,1352.95 417.7,1353.56 418.6,1352.19 419.5,1352.76 420.4,1353.81 421.3,1352.48 422.2,1352.62 423.1,1354.1 424,1354.4 424.9,1354.42 425.8,1354.99 426.7,1354.57 427.6,1354.84 428.5,1354.28 429.4,1354.35 430.3,1351.41 431.2,1350.49 432.1,1352.98 433,1352.53 433.9,1350.95 434.8,1352.48 435.7,1351.8 436.6,1350.84 437.5,1350.87 438.4,1350.43 439.3,1349.94 440.2,1350.52 441.1,1350.35 442,1349.96 442.9,1349.4 443.8,1348.2 444.7,1345.99 445.6,1346.53 446.5,1347.53 447.4,1346.09 448.3,1346.23 449.2,1346.03 450.1,1345.19 451,1345.25 451.9,1344.69 452.8,1344.07 453.7,1343.84 454.6,1342.41 455.5,1339.61 456.4,1336.28 457.3,1333.65 458.2,1330.71 459.1,1328.52 460,1325.72 460.9,1321.28 461.8,1317.3 462.7,1311.43 463.6,1303.68 464.5,1296.84 465.4,1295 466.3,1292.81 467.2,1291.44 468.1,1290.21 469,1289.15 469.9,1288.8 470.8,1287.86 471.7,1286.04 472.6,1284.87 473.5,1283.88 474.4,1279.02 475.3,1272.57 476.2,1276.35 477.1,1282.72 478,1290.44 478.9,1298.69 479.8,1305.97 480.7,1314.01 481.6,1321.57 482.5,1325.76 483.4,1329.1 484.3,1330.63 485.2,1331.75 486.1,1334.06 487,1335.73 487.9,1336.77 488.8,1339.63 489.7,1342.24 490.6,1344.56 491.5,1345.79 492.4,1345.8 493.3,1346.56 494.2,1347.95 495.1,1347.9 496,1347.43 496.9,1347.39 497.8,1347.86 498.7,1349.33 499.6,1350.24 500.5,1350.35 501.4,1349.6 502.3,1349.37 503.2,1352.59 504.1,1353.83 505,1352.4 505.9,1352.97 506.8,1353.54 507.7,1353.67 508.6,1353.58 509.5,1352.86 510.4,1352.82 511.3,1352.44 512.2,1353.08 513.1,1352.72 514,1351.16 514.9,1352.55 515.8,1352.88 516.7,1352.53 517.6,1352.88 518.5,1353.97 519.4,1355.35 520.3,1354.99 521.2,1353.44 522.1,1354.29 523,1353.8 523.9,1352.39 524.8,1354.35 525.7,1353.49 526.6,1353.31 527.5,1352.53 528.4,1353.73 529.3,1356.37 530.2,1354.35 531.1,1352.5 532,1352.38 532.9,1352.82 533.8,1354.87 534.7,1354.34 535.6,1353.07 536.5,1353.63 537.4,1355.39 538.3,1356.44 539.2,1355.77 540.1,1355.43 541,1355.1 541.9,1354.45 542.8,1354.49 543.7,1354.49 544.6,1354.49 545.5,1353.8 546.4,1353.5 547.3,1352.88 548.2,1353.89 549.1,1355.33 550,1355.72 550.9,1353.97 551.8,1353.34 552.7,1355.14 553.6,1355.2 554.5,1353.5 555.4,1352.99 556.3,1353.85 557.2,1353.94 558.1,1354.1 559,1354.83 559.9,1353.27 560.8,1352.86 561.7,1354.85 562.6,1355.08 563.5,1355.28 564.4,1355.89 565.3,1353.62 566.2,1353.95 567.1,1353.42 568,1353.91 568.9,1355.19 569.8,1353.06 570.7,1354.15 571.6,1356.3 572.5,1355.16 573.4,1354.44 574.3,1353.76 575.2,1353.49 576.1,1354.91 577,1354.84 577.9,1354.27 578.8,1354.76 579.7,1354.19 580.6,1353.65 581.5,1355.94 582.4,1356.15 583.3,1355.12 584.2,1354.84 585.1,1354.9 586,1354.94 586.9,1355.07 587.8,1354.19 588.7,1354.88 589.6,1354.05 590.5,1352.72 591.4,1354.35 592.3,1354.78 593.2,1354.16 594.1,1355.33 595,1354.09 595.9,1353.28 596.8,1352.76 597.7,1352.63 598.6,1353.77 599.5,1353.22 600.4,1353.76 601.3,1355.37 602.2,1354.09 603.1,1353.76 604,1354.37 604.9,1353.91 605.8,1354.47 606.7,1353.83 607.6,1353.79 608.5,1354.15 609.4,1353.45 610.3,1353.8 611.2,1355.6 612.1,1356.28 613,1354.98" fill="none" stroke="#111a26" stroke-width="3" stroke-linejoin="round" stroke-linecap="round" />
<polyline points="374.5,1490.27 375.4,1490.75 376.3,1490.41 377.2,1490.4 378.1,1492.26 379,1491.73 379.9,1490.46 380.8,1489.24 381.7,1490.1 382.6,1489.27 383.5,1489.14 384.4,1489.69 385.3,1490.07 386.2,1491.37 387.1,1490.87 388,1490.27 388.9,1491.02 389.8,1490.71 390.7,1490.16 391.6,1488.76 392.5,1488.08 393.4,1488.75 394.3,1489.7 395.2,1489.29 396.1,1488.34 397,1489.07 397.9,1491.82 398.8,1490.23 399.7,1488.36 400.6,1489.77 401.5,1490.13 402.4,1488.85 403.3,1487.59 404.2,1487.69 405.1,1488.37 406,1487.64 406.9,1487.57 407.8,1486.93 408.7,1486.69 409.6,1486.97 410.5,1486.31 411.4,1487.39 412.3,1487.45 413.2,1487.35 414.1,1488.09 415,1488.29 415.9,1486.97 416.8,1484.34 417.7,1484.27 418.6,1485.09 419.5,1485.1 420.4,1484.49 421.3,1485.17 422.2,1486.12 423.1,1487.21 424,1486.99 424.9,1483.93 425.8,1483.23 426.7,1484.76 427.6,1486.86 428.5,1486.36 429.4,1484.51 430.3,1483.32 431.2,1482.47 432.1,1484.73 433,1484.11 433.9,1482.53 434.8,1482.93 435.7,1482.53 436.6,1482.25 437.5,1483.46 438.4,1481.34 439.3,1480.76 440.2,1483.24 441.1,1484.1 442,1482.66 442.9,1481.52 443.8,1481.25 444.7,1480.96 445.6,1480.85 446.5,1481.01 447.4,1479.43 448.3,1479.09 449.2,1478.04 450.1,1476.78 451,1475.19 451.9,1472.91 452.8,1469.57 453.7,1467.96 454.6,1466.26 455.5,1462.88 456.4,1459.63 457.3,1455.63 458.2,1452.3 459.1,1447.86 460,1443.03 460.9,1441.28 461.8,1439.65 462.7,1438.1 463.6,1437.61 464.5,1436.19 465.4,1433.5 466.3,1427.21 467.2,1420.7 468.1,1416.99 469,1415.69 469.9,1417.15 470.8,1419.24 471.7,1420.37 472.6,1422.01 473.5,1423.57 474.4,1424.65 475.3,1425.68 476.2,1429.06 477.1,1434.49 478,1439.68 478.9,1444.88 479.8,1449.68 480.7,1453.09 481.6,1458.75 482.5,1465.06 483.4,1467.76 484.3,1469.94 485.2,1472.6 486.1,1474.45 487,1475.99 487.9,1476.73 488.8,1477.56 489.7,1477.56 490.6,1477.8 491.5,1479.08 492.4,1479.03 493.3,1479.22 494.2,1483.08 495.1,1484.82 496,1483.71 496.9,1482.15 497.8,1482.6 498.7,1484.05 499.6,1485.14 500.5,1485.41 501.4,1485.77 502.3,1486.06 503.2,1485.93 504.1,1485.6 505,1485.79 505.9,1485.15 506.8,1484.84 507.7,1484.35 508.6,1485.07 509.5,1485.76 510.4,1487.01 511.3,1484.82 512.2,1483.94 513.1,1483.32 514,1484.85 514.9,1487.4 515.8,1486.85 516.7,1485 517.6,1485.13 518.5,1485.96 519.4,1485.38 520.3,1484.66 521.2,1486.48 522.1,1485.93 523,1486.07 523.9,1486.75 524.8,1485.29 525.7,1485.08 526.6,1484.74 527.5,1485.67 528.4,1485.55 529.3,1486.32 530.2,1487.82 531.1,1488.88 532,1488.09 532.9,1487.91 533.8,1488.83 534.7,1489.51 535.6,1489.18 536.5,1488.03 537.4,1487.04 538.3,1488.05 539.2,1488.72 540.1,1488.29 541,1488.33 541.9,1485.87 542.8,1486.11 543.7,1486.79 544.6,1487.25 545.5,1487.92 546.4,1489.72 547.3,1488.83 548.2,1487.86 549.1,1488.21 550,1486.9 550.9,1485.95 551.8,1486.3 552.7,1486.33 553.6,1485.85 554.5,1486.26 555.4,1486.92 556.3,1487.31 557.2,1486.55 558.1,1486.79 559,1487.57 559.9,1487.47 560.8,1487.13 561.7,1487.11 562.6,1485.25 563.5,1484.84 564.4,1488.25 565.3,1488.25 566.2,1485.82 567.1,1486.09 568,1484.95 568.9,1487.47 569.8,1489.14 570.7,1487.46 571.6,1487.35 572.5,1487.5 573.4,1486.15 574.3,1486.1 575.2,1487.55 576.1,1487.16 577,1487.54 577.9,1488.14 578.8,1486.7 579.7,1484.26 580.6,1486.09 581.5,1487.69 582.4,1487.59 583.3,1487.18 584.2,1488.47 585.1,1487.98 586,1487.98 586.9,1488.64 587.8,1487.21 588.7,1486 589.6,1485.61 590.5,1485.75 591.4,1486.27 592.3,1486.46 593.2,1487.07 594.1,1487.16 595,1486.55 595.9,1486.86 596.8,1486.71 597.7,1485.6 598.6,1485.44 599.5,1486.63 600.4,1486.61 601.3,1486.73 602.2,1486.36 603.1,1485.59 604,1486.53 604.9,1487.73 605.8,1486.93 606.7,1486.5 607.6,1487.09 608.5,1487.18 609.4,1486.36 610.3,1487.18 611.2,1488.97 612.1,1487.83 613,1487.32" fill="none" stroke="#f0821e" stroke-width="3.4" stroke-linejoin="round" stroke-linecap="round" />
<polyline points="374.5,1630.53 375.4,1631.21 376.3,1631.96 377.2,1630.06 378.1,1629.74 379,1630.84 379.9,1632.87 380.8,1632.87 381.7,1632.23 382.6,1633.11 383.5,1633.01 384.4,1632.81 385.3,1631.21 386.2,1630.1 387.1,1630.43 388,1631.21 388.9,1629.84 389.8,1630.17 390.7,1630.57 391.6,1631.16 392.5,1631.42 393.4,1629.78 394.3,1629.73 395.2,1632.13 396.1,1631.89 397,1631.77 397.9,1631.58 398.8,1629.73 399.7,1631.53 400.6,1630 401.5,1629.59 402.4,1631.16 403.3,1631.8 404.2,1632.39 405.1,1631.51 406,1630.71 406.9,1630.79 407.8,1631.09 408.7,1632.58 409.6,1632.26 410.5,1631.19 411.4,1631.14 412.3,1630.37 413.2,1628.77 414.1,1628.75 415,1630.72 415.9,1632.83 416.8,1630.89 417.7,1630.19 418.6,1631.92 419.5,1633.76 420.4,1634.64 421.3,1634.34 422.2,1632.61 423.1,1632.39 424,1631.45 424.9,1630.3 425.8,1633.22 426.7,1633.4 427.6,1630.63 428.5,1630.37 429.4,1629.08 430.3,1629.07 431.2,1630.88 432.1,1631.65 433,1629.58 433.9,1628.42 434.8,1628.62 435.7,1627.96 436.6,1628.44 437.5,1628.58 438.4,1629.49 439.3,1627.28 440.2,1624.47 441.1,1625.03 442,1625.02 442.9,1624.52 443.8,1623.18 444.7,1620.42 445.6,1621.59 446.5,1621.32 447.4,1619 448.3,1619.21 449.2,1618.32 450.1,1617.58 451,1617.22 451.9,1615.26 452.8,1612.67 453.7,1611.14 454.6,1609.03 455.5,1605.95 456.4,1602.2 457.3,1601.29 458.2,1601.3 459.1,1599.13 460,1598.07 460.9,1597.65 461.8,1597.72 462.7,1597.44 463.6,1596.28 464.5,1594.47 465.4,1594.07 466.3,1594.75 467.2,1593.54 468.1,1588.85 469,1588.59 469.9,1590.54 470.8,1590.94 471.7,1591.73 472.6,1594.53 473.5,1596.63 474.4,1597.36 475.3,1598.26 476.2,1599.87 477.1,1600.18 478,1601.12 478.9,1604.87 479.8,1607.75 480.7,1610.3 481.6,1613.11 482.5,1615.05 483.4,1616.86 484.3,1618 485.2,1618.68 486.1,1619.31 487,1620.47 487.9,1621.56 488.8,1622.38 489.7,1623.04 490.6,1623.79 491.5,1623.49 492.4,1623.76 493.3,1624.08 494.2,1626.07 495.1,1626.59 496,1626.28 496.9,1626.35 497.8,1626.58 498.7,1627.75 499.6,1629.61 500.5,1630.12 501.4,1628.47 502.3,1627.08 503.2,1629.06 504.1,1630.75 505,1631.65 505.9,1631.57 506.8,1630.45 507.7,1630.88 508.6,1632.62 509.5,1631.77 510.4,1631.6 511.3,1632.61 512.2,1632.66 513.1,1633.52 514,1632.27 514.9,1630.3 515.8,1630.96 516.7,1630.63 517.6,1631.17 518.5,1632.19 519.4,1631.19 520.3,1631.67 521.2,1631.32 522.1,1631.34 523,1632.8 523.9,1631.94 524.8,1631.38 525.7,1632.52 526.6,1630.27 527.5,1629.86 528.4,1631.92 529.3,1632.42 530.2,1633.51 531.1,1633.87 532,1633.59 532.9,1633.15 533.8,1633.69 534.7,1633.53 535.6,1632.72 536.5,1633.16 537.4,1632.26 538.3,1630.7 539.2,1632.06 540.1,1633.09 541,1630.76 541.9,1630.59 542.8,1630.97 543.7,1632.16 544.6,1632.9 545.5,1631.59 546.4,1632.29 547.3,1633.65 548.2,1632.38 549.1,1630.35 550,1630.43 550.9,1632.09 551.8,1631.49 552.7,1631.92 553.6,1632.61 554.5,1631.32 555.4,1632.06 556.3,1633.77 557.2,1633.3 558.1,1634.96 559,1634.52 559.9,1633.61 560.8,1633.86 561.7,1634.81 562.6,1633.9 563.5,1634.44 564.4,1634.19 565.3,1632.08 566.2,1630.97 567.1,1631.44 568,1632.36 568.9,1633.08 569.8,1630.92 570.7,1630.02 571.6,1631.15 572.5,1630.56 573.4,1629.33 574.3,1629.37 575.2,1631.1 576.1,1632.41 577,1630.82 577.9,1633.18 578.8,1632.03 579.7,1631.52 580.6,1631.85 581.5,1629.31 582.4,1629.45 583.3,1631.6 584.2,1631.88 585.1,1631.01 586,1630.81 586.9,1632.12 587.8,1631.35 588.7,1632.16 589.6,1633.85 590.5,1633.35 591.4,1631.79 592.3,1631.14 593.2,1630.63 594.1,1631.15 595,1632.43 595.9,1632.31 596.8,1630.96 597.7,1632.24 598.6,1632.24 599.5,1631.64 600.4,1630.63 601.3,1630.57 602.2,1629.93 603.1,1630.33 604,1632.38 604.9,1632.67 605.8,1632.61 606.7,1631 607.6,1631.23 608.5,1633.45 609.4,1631.83 610.3,1629.5 611.2,1629.83 612.1,1627.78 613,1627.95" fill="none" stroke="#224a8c" stroke-width="3.3" stroke-linejoin="round" stroke-linecap="round" />
<line x1="92.5" y1="1659.4" x2="92.5" y2="1667.8" stroke="#000" stroke-width="4" />
<line x1="130" y1="1659.4" x2="130" y2="1663.8" stroke="#000" stroke-width="4" />
<line x1="167.8" y1="1659.4" x2="167.8" y2="1667.8" stroke="#000" stroke-width="4" />
<line x1="204.8" y1="1659.4" x2="204.8" y2="1663.8" stroke="#000" stroke-width="4" />
<line x1="242.3" y1="1659.4" x2="242.3" y2="1667.8" stroke="#000" stroke-width="4" />
<line x1="280" y1="1659.4" x2="280" y2="1663.8" stroke="#000" stroke-width="4" />
<line x1="317.6" y1="1659.4" x2="317.6" y2="1667.8" stroke="#000" stroke-width="4" />
<rect x="73.8" y="1228" width="244.1" height="431.4" fill="none" stroke="#000" stroke-width="4.4"/>
<line x1="373.2" y1="1659.4" x2="373.2" y2="1663.8" stroke="#000" stroke-width="4" />
<line x1="452.2" y1="1659.4" x2="452.2" y2="1667.8" stroke="#000" stroke-width="4" />
<line x1="533" y1="1659.4" x2="533" y2="1663.8" stroke="#000" stroke-width="4" />
<line x1="614" y1="1659.4" x2="614" y2="1667.8" stroke="#000" stroke-width="4" />
<rect x="373.2" y="1228" width="241.2" height="431.4" fill="none" stroke="#000" stroke-width="4.4"/>
<text x="92.5" y="1700.5" font-size="34" font-family="'Liberation Sans', Arial, Helvetica, sans-serif" font-weight="bold" fill="#000" text-anchor="middle">4</text>
<text x="167.8" y="1700.5" font-size="34" font-family="'Liberation Sans', Arial, Helvetica, sans-serif" font-weight="bold" fill="#000" text-anchor="middle">6</text>
<text x="242.3" y="1700.5" font-size="34" font-family="'Liberation Sans', Arial, Helvetica, sans-serif" font-weight="bold" fill="#000" text-anchor="middle">8</text>
<text x="317.6" y="1700.5" font-size="34" font-family="'Liberation Sans', Arial, Helvetica, sans-serif" font-weight="bold" fill="#000" text-anchor="middle">10</text>
<text x="452.2" y="1700.5" font-size="34" font-family="'Liberation Sans', Arial, Helvetica, sans-serif" font-weight="bold" fill="#000" text-anchor="middle">14</text>
<text x="614" y="1700.5" font-size="34" font-family="'Liberation Sans', Arial, Helvetica, sans-serif" font-weight="bold" fill="#000" text-anchor="middle">16</text>
<text x="96.5" y="1741" font-size="35" font-family="'Liberation Sans', Arial, Helvetica, sans-serif" font-weight="bold" fill="#000" textLength="197" lengthAdjust="spacingAndGlyphs">2<tspan font-style="italic">θ</tspan> (degree)</text>
<text x="396.5" y="1741" font-size="35" font-family="'Liberation Sans', Arial, Helvetica, sans-serif" font-weight="bold" fill="#000" textLength="194" lengthAdjust="spacingAndGlyphs">2<tspan font-style="italic">θ</tspan> (degree)</text>
<line x1="79" y1="1253.1" x2="123" y2="1253.1" stroke="#224a8c" stroke-width="2.8" stroke-linecap="round"/>
<text x="129" y="1260.9" font-size="24.5" font-family="'Liberation Sans', Arial, Helvetica, sans-serif" font-weight="bold" fill="#000" textLength="157" lengthAdjust="spacingAndGlyphs">Preannealing</text>
<line x1="79" y1="1283.7" x2="123" y2="1283.7" stroke="#f0821e" stroke-width="2.8" stroke-linecap="round"/>
<text x="129" y="1291.5" font-size="24.5" font-family="'Liberation Sans', Arial, Helvetica, sans-serif" font-weight="bold" fill="#000" textLength="172" lengthAdjust="spacingAndGlyphs">Annealing-30s</text>
<line x1="79" y1="1314.3" x2="123" y2="1314.3" stroke="#111a26" stroke-width="2.8" stroke-linecap="round"/>
<text x="129" y="1322.1" font-size="24.5" font-family="'Liberation Sans', Arial, Helvetica, sans-serif" font-weight="bold" fill="#000" textLength="189" lengthAdjust="spacingAndGlyphs">Annealing-1min</text>
<text x="535.5" y="1283" font-size="26" font-family="'Liberation Sans', Arial, Helvetica, sans-serif" font-weight="bold" fill="#000" textLength="66" lengthAdjust="spacingAndGlyphs">PEAI</text>
<text x="126.5" y="1606.5" font-size="26" font-family="'Liberation Sans', Arial, Helvetica, sans-serif" font-weight="bold" fill="#224a8c" transform="rotate(-90 126.5 1606.5)">(002)<tspan font-size="19.5" dy="7.8">2L</tspan><tspan dy="-7.8">&#8203;</tspan></text>
<text x="518" y="1600.5" font-size="26" font-family="'Liberation Sans', Arial, Helvetica, sans-serif" font-weight="bold" fill="#224a8c" transform="rotate(-90 518 1600.5)">(100)<tspan font-size="19.5" dy="7.8">3D</tspan><tspan dy="-7.8">&#8203;</tspan></text>
</g>
<g id="panel-e">
<text x="1431" y="653" font-size="50" font-family="'Liberation Serif', 'Times New Roman', Times, serif" font-weight="bold" fill="#000">e</text>
<clipPath id="clipE"><rect x="1505.7" y="663.6" width="451.7" height="433.7"/></clipPath>
<polyline points="1506.9,1095.1 1507.9,1095.1 1508.9,1095.09 1509.9,1095.09 1510.9,1095.09 1511.9,1095.08 1512.9,1095.07 1513.9,1095.06 1514.9,1095.05 1515.9,1095.04 1516.9,1095.03 1517.9,1095.02 1518.9,1095 1519.9,1094.99 1520.9,1094.97 1521.9,1094.95 1522.9,1094.93 1523.9,1094.91 1524.9,1094.89 1525.9,1094.87 1526.9,1094.85 1527.9,1094.82 1528.9,1094.8 1529.9,1094.77 1530.9,1094.74 1531.9,1094.71 1532.9,1094.68 1533.9,1094.65 1534.9,1094.62 1535.9,1094.58 1536.9,1094.53 1537.9,1094.47 1538.9,1094.4 1539.9,1094.32 1540.9,1094.23 1541.9,1094.13 1542.9,1094.02 1543.9,1093.9 1544.9,1093.77 1545.9,1093.63 1546.9,1093.48 1547.9,1093.31 1548.9,1093.14 1549.9,1092.95 1550.9,1092.76 1551.9,1092.54 1552.9,1092.3 1553.9,1092 1554.9,1091.62 1555.9,1091.16 1556.9,1090.6 1557.9,1089.96 1558.9,1089.25 1559.9,1088.47 1560.9,1087.63 1561.9,1086.69 1562.9,1085.61 1563.9,1084.34 1564.9,1082.85 1565.9,1081.17 1566.9,1079.32 1567.9,1077.33 1568.9,1075.2 1569.9,1072.9 1570.9,1070.37 1571.9,1067.61 1572.9,1064.6 1573.9,1061.36 1574.9,1057.91 1575.9,1054.2 1576.9,1050.21 1577.9,1045.87 1578.9,1041.17 1579.9,1036.12 1580.9,1030.75 1581.9,1025.04 1582.9,1018.92 1583.9,1012.27 1584.9,1005.06 1585.9,997.37 1586.9,989.34 1587.9,981.01 1588.9,972.37 1589.9,963.43 1590.9,954.22 1591.9,944.77 1592.9,935.1 1593.9,925.2 1594.9,915.15 1595.9,905.05 1596.9,894.94 1597.9,884.86 1598.9,874.8 1599.9,864.81 1600.9,854.92 1601.9,845.14 1602.9,835.6 1603.9,826.53 1604.9,818.1 1605.9,810.43 1606.9,803.8 1607.9,798.48 1608.9,794.43 1609.9,791.33 1610.9,789 1611.9,787.57 1612.9,787.23 1613.9,788.06 1614.9,789.9 1615.9,792.54 1616.9,795.91 1617.9,800.2 1618.9,805.56 1619.9,811.85 1620.9,818.69 1621.9,825.87 1622.9,833.32 1623.9,840.94 1624.9,848.55 1625.9,856.04 1626.9,863.43 1627.9,870.74 1628.9,877.96 1629.9,885.05 1630.9,891.98 1631.9,898.77 1632.9,905.44 1633.9,911.99 1634.9,918.41 1635.9,924.64 1636.9,930.65 1637.9,936.42 1638.9,941.97 1639.9,947.32 1640.9,952.49 1641.9,957.49 1642.9,962.33 1643.9,967.01 1644.9,971.56 1645.9,975.99 1646.9,980.33 1647.9,984.54 1648.9,988.59 1649.9,992.43 1650.9,996.04 1651.9,999.39 1652.9,1002.5 1653.9,1005.43 1654.9,1008.19 1655.9,1010.81 1656.9,1013.31 1657.9,1015.71 1658.9,1018.03 1659.9,1020.3 1660.9,1022.5 1661.9,1024.62 1662.9,1026.63 1663.9,1028.5 1664.9,1030.22 1665.9,1031.8 1666.9,1033.27 1667.9,1034.67 1668.9,1035.98 1669.9,1037.15 1670.9,1038.15 1671.9,1038.96 1672.9,1039.6 1673.9,1040.13 1674.9,1040.61 1675.9,1041.04 1676.9,1041.43 1677.9,1041.77 1678.9,1042.04 1679.9,1042.23 1680.9,1042.35 1681.9,1042.39 1682.9,1042.35 1683.9,1042.26 1684.9,1042.13 1685.9,1041.97 1686.9,1041.78 1687.9,1041.59 1688.9,1041.4 1689.9,1041.22 1690.9,1041.05 1691.9,1040.88 1692.9,1040.71 1693.9,1040.54 1694.9,1040.35 1695.9,1040.17 1696.9,1040 1697.9,1039.84 1698.9,1039.7 1699.9,1039.59 1700.9,1039.51 1701.9,1039.48 1702.9,1039.5 1703.9,1039.59 1704.9,1039.75 1705.9,1039.98 1706.9,1040.26 1707.9,1040.58 1708.9,1040.95 1709.9,1041.4 1710.9,1041.97 1711.9,1042.67 1712.9,1043.47 1713.9,1044.33 1714.9,1045.21 1715.9,1046.08 1716.9,1046.94 1717.9,1047.8 1718.9,1048.67 1719.9,1049.57 1720.9,1050.47 1721.9,1051.37 1722.9,1052.26 1723.9,1053.13 1724.9,1053.97 1725.9,1054.8 1726.9,1055.61 1727.9,1056.42 1728.9,1057.21 1729.9,1057.99 1730.9,1058.75 1731.9,1059.48 1732.9,1060.18 1733.9,1060.84 1734.9,1061.45 1735.9,1062.04 1736.9,1062.59 1737.9,1063.12 1738.9,1063.63 1739.9,1064.12 1740.9,1064.59 1741.9,1065.05 1742.9,1065.49 1743.9,1065.92 1744.9,1066.34 1745.9,1066.73 1746.9,1067.11 1747.9,1067.48 1748.9,1067.84 1749.9,1068.2 1750.9,1068.56 1751.9,1068.93 1752.9,1069.31 1753.9,1069.7 1754.9,1070.1 1755.9,1070.5 1756.9,1070.91 1757.9,1071.32 1758.9,1071.73 1759.9,1072.14 1760.9,1072.54 1761.9,1072.94 1762.9,1073.33 1763.9,1073.71 1764.9,1074.09 1765.9,1074.45 1766.9,1074.81 1767.9,1075.17 1768.9,1075.53 1769.9,1075.88 1770.9,1076.22 1771.9,1076.56 1772.9,1076.88 1773.9,1077.2 1774.9,1077.51 1775.9,1077.82 1776.9,1078.11 1777.9,1078.39 1778.9,1078.66 1779.9,1078.93 1780.9,1079.19 1781.9,1079.45 1782.9,1079.7 1783.9,1079.95 1784.9,1080.2 1785.9,1080.44 1786.9,1080.69 1787.9,1080.94 1788.9,1081.19 1789.9,1081.43 1790.9,1081.68 1791.9,1081.92 1792.9,1082.16 1793.9,1082.4 1794.9,1082.64 1795.9,1082.88 1796.9,1083.11 1797.9,1083.35 1798.9,1083.58 1799.9,1083.81 1800.9,1084.04 1801.9,1084.28 1802.9,1084.52 1803.9,1084.75 1804.9,1084.98 1805.9,1085.21 1806.9,1085.42 1807.9,1085.63 1808.9,1085.83 1809.9,1086.02 1810.9,1086.19 1811.9,1086.35 1812.9,1086.51 1813.9,1086.66 1814.9,1086.8 1815.9,1086.94 1816.9,1087.07 1817.9,1087.2 1818.9,1087.33 1819.9,1087.46 1820.9,1087.59 1821.9,1087.73 1822.9,1087.86 1823.9,1088 1824.9,1088.14 1825.9,1088.27 1826.9,1088.41 1827.9,1088.55 1828.9,1088.69 1829.9,1088.83 1830.9,1088.96 1831.9,1089.1 1832.9,1089.24 1833.9,1089.37 1834.9,1089.5 1835.9,1089.63 1836.9,1089.76 1837.9,1089.89 1838.9,1090.02 1839.9,1090.14 1840.9,1090.26 1841.9,1090.38 1842.9,1090.5 1843.9,1090.61 1844.9,1090.72 1845.9,1090.82 1846.9,1090.93 1847.9,1091.04 1848.9,1091.14 1849.9,1091.25 1850.9,1091.35 1851.9,1091.45 1852.9,1091.56 1853.9,1091.66 1854.9,1091.75 1855.9,1091.85 1856.9,1091.95 1857.9,1092.04 1858.9,1092.13 1859.9,1092.22 1860.9,1092.3 1861.9,1092.38 1862.9,1092.46 1863.9,1092.53 1864.9,1092.6 1865.9,1092.67 1866.9,1092.73 1867.9,1092.79 1868.9,1092.85 1869.9,1092.9 1870.9,1092.95 1871.9,1093 1872.9,1093.06 1873.9,1093.1 1874.9,1093.15 1875.9,1093.2 1876.9,1093.24 1877.9,1093.29 1878.9,1093.33 1879.9,1093.37 1880.9,1093.41 1881.9,1093.45 1882.9,1093.49 1883.9,1093.52 1884.9,1093.55 1885.9,1093.59 1886.9,1093.61 1887.9,1093.64 1888.9,1093.67 1889.9,1093.69 1890.9,1093.71 1891.9,1093.74 1892.9,1093.76 1893.9,1093.78 1894.9,1093.8 1895.9,1093.82 1896.9,1093.84 1897.9,1093.86 1898.9,1093.88 1899.9,1093.89 1900.9,1093.91 1901.9,1093.93 1902.9,1093.95 1903.9,1093.97 1904.9,1093.98 1905.9,1094 1906.9,1094.02 1907.9,1094.03 1908.9,1094.05 1909.9,1094.06 1910.9,1094.07 1911.9,1094.09 1912.9,1094.1 1913.9,1094.11 1914.9,1094.12 1915.9,1094.13 1916.9,1094.14 1917.9,1094.15 1918.9,1094.15 1919.9,1094.16 1920.9,1094.16 1921.9,1094.17 1922.9,1094.17 1923.9,1094.17 1924.9,1094.18 1925.9,1094.18 1926.9,1094.18 1927.9,1094.18 1928.9,1094.17 1929.9,1094.17 1930.9,1094.17 1931.9,1094.17 1932.9,1094.17 1933.9,1094.17 1934.9,1094.16 1935.9,1094.16 1936.9,1094.15 1937.9,1094.15 1938.9,1094.15 1939.9,1094.14 1940.9,1094.13 1941.9,1094.13 1942.9,1094.12 1943.9,1094.11 1944.9,1094.11 1945.9,1094.1 1946.9,1094.09 1947.9,1094.08 1948.9,1094.07 1949.9,1094.06 1950.9,1094.04 1951.9,1094.03 1952.9,1094.02 1953.9,1094.01 1954.9,1093.99 1955.9,1093.98 1956.9,1093.97" fill="none" stroke="#224a8c" stroke-width="3" stroke-linejoin="round" stroke-linecap="round" clip-path="url(#clipE)"/>
<polyline points="1506.9,1095.33 1507.9,1095.33 1508.9,1095.33 1509.9,1095.33 1510.9,1095.32 1511.9,1095.32 1512.9,1095.32 1513.9,1095.32 1514.9,1095.32 1515.9,1095.31 1516.9,1095.31 1517.9,1095.31 1518.9,1095.3 1519.9,1095.3 1520.9,1095.3 1521.9,1095.29 1522.9,1095.29 1523.9,1095.28 1524.9,1095.27 1525.9,1095.27 1526.9,1095.26 1527.9,1095.26 1528.9,1095.25 1529.9,1095.24 1530.9,1095.23 1531.9,1095.22 1532.9,1095.22 1533.9,1095.21 1534.9,1095.2 1535.9,1095.19 1536.9,1095.18 1537.9,1095.17 1538.9,1095.15 1539.9,1095.14 1540.9,1095.13 1541.9,1095.12 1542.9,1095.11 1543.9,1095.09 1544.9,1095.08 1545.9,1095.06 1546.9,1095.05 1547.9,1095.03 1548.9,1095.02 1549.9,1095 1550.9,1094.99 1551.9,1094.97 1552.9,1094.95 1553.9,1094.93 1554.9,1094.92 1555.9,1094.9 1556.9,1094.88 1557.9,1094.85 1558.9,1094.81 1559.9,1094.76 1560.9,1094.69 1561.9,1094.61 1562.9,1094.52 1563.9,1094.41 1564.9,1094.29 1565.9,1094.15 1566.9,1094.01 1567.9,1093.85 1568.9,1093.69 1569.9,1093.52 1570.9,1093.34 1571.9,1093.15 1572.9,1092.95 1573.9,1092.75 1574.9,1092.54 1575.9,1092.31 1576.9,1092.05 1577.9,1091.74 1578.9,1091.39 1579.9,1090.98 1580.9,1090.55 1581.9,1090.1 1582.9,1089.64 1583.9,1089.19 1584.9,1088.74 1585.9,1088.32 1586.9,1087.93 1587.9,1087.57 1588.9,1087.21 1589.9,1086.86 1590.9,1086.51 1591.9,1086.16 1592.9,1085.82 1593.9,1085.51 1594.9,1085.21 1595.9,1084.93 1596.9,1084.69 1597.9,1084.48 1598.9,1084.3 1599.9,1084.14 1600.9,1083.99 1601.9,1083.85 1602.9,1083.72 1603.9,1083.59 1604.9,1083.48 1605.9,1083.38 1606.9,1083.29 1607.9,1083.22 1608.9,1083.18 1609.9,1083.15 1610.9,1083.14 1611.9,1083.14 1612.9,1083.14 1613.9,1083.14 1614.9,1083.14 1615.9,1083.14 1616.9,1083.14 1617.9,1083.14 1618.9,1083.14 1619.9,1083.17 1620.9,1083.23 1621.9,1083.33 1622.9,1083.49 1623.9,1083.67 1624.9,1083.88 1625.9,1084.11 1626.9,1084.34 1627.9,1084.55 1628.9,1084.77 1629.9,1084.97 1630.9,1085.19 1631.9,1085.41 1632.9,1085.63 1633.9,1085.87 1634.9,1086.1 1635.9,1086.34 1636.9,1086.57 1637.9,1086.8 1638.9,1087.02 1639.9,1087.23 1640.9,1087.42 1641.9,1087.61 1642.9,1087.78 1643.9,1087.95 1644.9,1088.11 1645.9,1088.27 1646.9,1088.42 1647.9,1088.57 1648.9,1088.71 1649.9,1088.85 1650.9,1088.98 1651.9,1089.11 1652.9,1089.23 1653.9,1089.34 1654.9,1089.44 1655.9,1089.53 1656.9,1089.62 1657.9,1089.7 1658.9,1089.79 1659.9,1089.87 1660.9,1089.95 1661.9,1090.02 1662.9,1090.08 1663.9,1090.14 1664.9,1090.19 1665.9,1090.23 1666.9,1090.25 1667.9,1090.26 1668.9,1090.25 1669.9,1090.23 1670.9,1090.2 1671.9,1090.16 1672.9,1090.1 1673.9,1090.04 1674.9,1089.97 1675.9,1089.89 1676.9,1089.8 1677.9,1089.71 1678.9,1089.62 1679.9,1089.52 1680.9,1089.42 1681.9,1089.32 1682.9,1089.2 1683.9,1089.07 1684.9,1088.92 1685.9,1088.76 1686.9,1088.58 1687.9,1088.39 1688.9,1088.19 1689.9,1087.97 1690.9,1087.74 1691.9,1087.51 1692.9,1087.26 1693.9,1087 1694.9,1086.74 1695.9,1086.46 1696.9,1086.17 1697.9,1085.85 1698.9,1085.51 1699.9,1085.14 1700.9,1084.76 1701.9,1084.35 1702.9,1083.92 1703.9,1083.47 1704.9,1083.01 1705.9,1082.52 1706.9,1082.02 1707.9,1081.49 1708.9,1080.92 1709.9,1080.33 1710.9,1079.69 1711.9,1079.03 1712.9,1078.33 1713.9,1077.6 1714.9,1076.85 1715.9,1076.07 1716.9,1075.26 1717.9,1074.43 1718.9,1073.56 1719.9,1072.67 1720.9,1071.74 1721.9,1070.76 1722.9,1069.75 1723.9,1068.69 1724.9,1067.58 1725.9,1066.44 1726.9,1065.24 1727.9,1064 1728.9,1062.72 1729.9,1061.37 1730.9,1059.96 1731.9,1058.46 1732.9,1056.87 1733.9,1055.2 1734.9,1053.45 1735.9,1051.62 1736.9,1049.73 1737.9,1047.77 1738.9,1045.74 1739.9,1043.64 1740.9,1041.44 1741.9,1039.14 1742.9,1036.74 1743.9,1034.25 1744.9,1031.67 1745.9,1029.03 1746.9,1026.31 1747.9,1023.53 1748.9,1020.67 1749.9,1017.71 1750.9,1014.65 1751.9,1011.49 1752.9,1008.25 1753.9,1004.93 1754.9,1001.56 1755.9,998.13 1756.9,994.67 1757.9,991.17 1758.9,987.61 1759.9,983.99 1760.9,980.3 1761.9,976.56 1762.9,972.77 1763.9,968.95 1764.9,965.1 1765.9,961.23 1766.9,957.35 1767.9,953.44 1768.9,949.49 1769.9,945.51 1770.9,941.5 1771.9,937.48 1772.9,933.44 1773.9,929.4 1774.9,925.37 1775.9,921.35 1776.9,917.33 1777.9,913.3 1778.9,909.27 1779.9,905.23 1780.9,901.2 1781.9,897.19 1782.9,893.2 1783.9,889.25 1784.9,885.34 1785.9,881.45 1786.9,877.59 1787.9,873.75 1788.9,869.93 1789.9,866.14 1790.9,862.4 1791.9,858.7 1792.9,855.05 1793.9,851.46 1794.9,847.92 1795.9,844.42 1796.9,840.97 1797.9,837.58 1798.9,834.26 1799.9,831.04 1800.9,827.92 1801.9,824.86 1802.9,821.87 1803.9,818.96 1804.9,816.21 1805.9,813.72 1806.9,811.56 1807.9,809.74 1808.9,808.17 1809.9,806.72 1810.9,805.21 1811.9,803.48 1812.9,801.51 1813.9,799.36 1814.9,797.23 1815.9,795.25 1816.9,793.46 1817.9,791.86 1818.9,790.45 1819.9,789.28 1820.9,788.38 1821.9,787.71 1822.9,787.19 1823.9,786.82 1824.9,786.61 1825.9,786.58 1826.9,786.74 1827.9,787.05 1828.9,787.48 1829.9,788.01 1830.9,788.65 1831.9,789.46 1832.9,790.5 1833.9,791.8 1834.9,793.34 1835.9,795.04 1836.9,796.87 1837.9,798.82 1838.9,800.92 1839.9,803.24 1840.9,805.77 1841.9,808.49 1842.9,811.35 1843.9,814.28 1844.9,817.27 1845.9,820.32 1846.9,823.45 1847.9,826.69 1848.9,830.03 1849.9,833.47 1850.9,836.99 1851.9,840.62 1852.9,844.35 1853.9,848.2 1854.9,852.17 1855.9,856.21 1856.9,860.31 1857.9,864.44 1858.9,868.59 1859.9,872.76 1860.9,876.99 1861.9,881.25 1862.9,885.55 1863.9,889.85 1864.9,894.15 1865.9,898.41 1866.9,902.64 1867.9,906.81 1868.9,910.93 1869.9,915.02 1870.9,919.08 1871.9,923.12 1872.9,927.12 1873.9,931.1 1874.9,935.05 1875.9,938.98 1876.9,942.88 1877.9,946.76 1878.9,950.62 1879.9,954.47 1880.9,958.3 1881.9,962.1 1882.9,965.85 1883.9,969.55 1884.9,973.18 1885.9,976.75 1886.9,980.25 1887.9,983.69 1888.9,987.08 1889.9,990.42 1890.9,993.71 1891.9,996.95 1892.9,1000.12 1893.9,1003.24 1894.9,1006.3 1895.9,1009.3 1896.9,1012.25 1897.9,1015.15 1898.9,1018 1899.9,1020.8 1900.9,1023.55 1901.9,1026.24 1902.9,1028.87 1903.9,1031.44 1904.9,1033.95 1905.9,1036.42 1906.9,1038.85 1907.9,1041.23 1908.9,1043.57 1909.9,1045.85 1910.9,1048.06 1911.9,1050.19 1912.9,1052.23 1913.9,1054.19 1914.9,1056.07 1915.9,1057.9 1916.9,1059.69 1917.9,1061.43 1918.9,1063.12 1919.9,1064.76 1920.9,1066.34 1921.9,1067.86 1922.9,1069.31 1923.9,1070.7 1924.9,1072.02 1925.9,1073.28 1926.9,1074.49 1927.9,1075.67 1928.9,1076.81 1929.9,1077.91 1930.9,1078.98 1931.9,1079.99 1932.9,1080.95 1933.9,1081.86 1934.9,1082.7 1935.9,1083.48 1936.9,1084.2 1937.9,1084.86 1938.9,1085.49 1939.9,1086.08 1940.9,1086.64 1941.9,1087.18 1942.9,1087.68 1943.9,1088.16 1944.9,1088.61 1945.9,1089.04 1946.9,1089.44 1947.9,1089.82 1948.9,1090.17 1949.9,1090.51 1950.9,1090.84 1951.9,1091.15 1952.9,1091.44 1953.9,1091.72 1954.9,1091.97 1955.9,1092.18 1956.9,1092.33" fill="none" stroke="#f0821e" stroke-width="3.3" stroke-linejoin="round" stroke-linecap="round" clip-path="url(#clipE)"/>
<polyline points="1506.9,1095.33 1507.9,1095.33 1508.9,1095.33 1509.9,1095.33 1510.9,1095.33 1511.9,1095.33 1512.9,1095.33 1513.9,1095.33 1514.9,1095.33 1515.9,1095.33 1516.9,1095.33 1517.9,1095.33 1518.9,1095.33 1519.9,1095.33 1520.9,1095.33 1521.9,1095.33 1522.9,1095.32 1523.9,1095.32 1524.9,1095.32 1525.9,1095.32 1526.9,1095.32 1527.9,1095.32 1528.9,1095.32 1529.9,1095.32 1530.9,1095.32 1531.9,1095.32 1532.9,1095.32 1533.9,1095.32 1534.9,1095.32 1535.9,1095.32 1536.9,1095.32 1537.9,1095.32 1538.9,1095.32 1539.9,1095.32 1540.9,1095.32 1541.9,1095.32 1542.9,1095.32 1543.9,1095.32 1544.9,1095.32 1545.9,1095.32 1546.9,1095.31 1547.9,1095.31 1548.9,1095.31 1549.9,1095.31 1550.9,1095.31 1551.9,1095.31 1552.9,1095.31 1553.9,1095.31 1554.9,1095.31 1555.9,1095.31 1556.9,1095.31 1557.9,1095.31 1558.9,1095.31 1559.9,1095.3 1560.9,1095.3 1561.9,1095.3 1562.9,1095.3 1563.9,1095.3 1564.9,1095.3 1565.9,1095.3 1566.9,1095.3 1567.9,1095.3 1568.9,1095.29 1569.9,1095.29 1570.9,1095.29 1571.9,1095.29 1572.9,1095.29 1573.9,1095.29 1574.9,1095.29 1575.9,1095.29 1576.9,1095.28 1577.9,1095.28 1578.9,1095.28 1579.9,1095.28 1580.9,1095.28 1581.9,1095.28 1582.9,1095.28 1583.9,1095.27 1584.9,1095.27 1585.9,1095.27 1586.9,1095.27 1587.9,1095.27 1588.9,1095.27 1589.9,1095.26 1590.9,1095.26 1591.9,1095.26 1592.9,1095.26 1593.9,1095.26 1594.9,1095.25 1595.9,1095.25 1596.9,1095.25 1597.9,1095.25 1598.9,1095.25 1599.9,1095.24 1600.9,1095.24 1601.9,1095.24 1602.9,1095.24 1603.9,1095.24 1604.9,1095.23 1605.9,1095.23 1606.9,1095.23 1607.9,1095.23 1608.9,1095.22 1609.9,1095.22 1610.9,1095.22 1611.9,1095.22 1612.9,1095.22 1613.9,1095.21 1614.9,1095.21 1615.9,1095.21 1616.9,1095.2 1617.9,1095.2 1618.9,1095.2 1619.9,1095.2 1620.9,1095.19 1621.9,1095.19 1622.9,1095.19 1623.9,1095.19 1624.9,1095.18 1625.9,1095.18 1626.9,1095.18 1627.9,1095.17 1628.9,1095.17 1629.9,1095.17 1630.9,1095.16 1631.9,1095.16 1632.9,1095.16 1633.9,1095.15 1634.9,1095.15 1635.9,1095.15 1636.9,1095.14 1637.9,1095.14 1638.9,1095.14 1639.9,1095.13 1640.9,1095.13 1641.9,1095.13 1642.9,1095.12 1643.9,1095.12 1644.9,1095.12 1645.9,1095.11 1646.9,1095.11 1647.9,1095.1 1648.9,1095.1 1649.9,1095.1 1650.9,1095.09 1651.9,1095.09 1652.9,1095.08 1653.9,1095.08 1654.9,1095.08 1655.9,1095.07 1656.9,1095.07 1657.9,1095.06 1658.9,1095.06 1659.9,1095.05 1660.9,1095.05 1661.9,1095.05 1662.9,1095.04 1663.9,1095.04 1664.9,1095.03 1665.9,1095.03 1666.9,1095.02 1667.9,1095.02 1668.9,1095.01 1669.9,1095.01 1670.9,1095 1671.9,1095 1672.9,1094.99 1673.9,1094.99 1674.9,1094.98 1675.9,1094.98 1676.9,1094.97 1677.9,1094.97 1678.9,1094.96 1679.9,1094.96 1680.9,1094.95 1681.9,1094.95 1682.9,1094.94 1683.9,1094.93 1684.9,1094.93 1685.9,1094.92 1686.9,1094.92 1687.9,1094.91 1688.9,1094.91 1689.9,1094.9 1690.9,1094.89 1691.9,1094.89 1692.9,1094.88 1693.9,1094.88 1694.9,1094.87 1695.9,1094.86 1696.9,1094.85 1697.9,1094.83 1698.9,1094.81 1699.9,1094.78 1700.9,1094.75 1701.9,1094.71 1702.9,1094.66 1703.9,1094.62 1704.9,1094.56 1705.9,1094.51 1706.9,1094.44 1707.9,1094.38 1708.9,1094.31 1709.9,1094.24 1710.9,1094.16 1711.9,1094.08 1712.9,1094 1713.9,1093.91 1714.9,1093.82 1715.9,1093.73 1716.9,1093.64 1717.9,1093.54 1718.9,1093.43 1719.9,1093.31 1720.9,1093.16 1721.9,1092.99 1722.9,1092.81 1723.9,1092.61 1724.9,1092.39 1725.9,1092.16 1726.9,1091.93 1727.9,1091.69 1728.9,1091.45 1729.9,1091.21 1730.9,1090.96 1731.9,1090.72 1732.9,1090.46 1733.9,1090.2 1734.9,1089.92 1735.9,1089.64 1736.9,1089.34 1737.9,1089.02 1738.9,1088.69 1739.9,1088.33 1740.9,1087.95 1741.9,1087.55 1742.9,1087.11 1743.9,1086.63 1744.9,1086.11 1745.9,1085.56 1746.9,1084.98 1747.9,1084.36 1748.9,1083.72 1749.9,1083.05 1750.9,1082.35 1751.9,1081.63 1752.9,1080.89 1753.9,1080.11 1754.9,1079.3 1755.9,1078.45 1756.9,1077.56 1757.9,1076.62 1758.9,1075.63 1759.9,1074.61 1760.9,1073.53 1761.9,1072.42 1762.9,1071.25 1763.9,1070.04 1764.9,1068.77 1765.9,1067.42 1766.9,1066 1767.9,1064.49 1768.9,1062.91 1769.9,1061.25 1770.9,1059.52 1771.9,1057.72 1772.9,1055.86 1773.9,1053.94 1774.9,1051.97 1775.9,1049.93 1776.9,1047.82 1777.9,1045.61 1778.9,1043.32 1779.9,1040.92 1780.9,1038.43 1781.9,1035.85 1782.9,1033.18 1783.9,1030.42 1784.9,1027.58 1785.9,1024.65 1786.9,1021.64 1787.9,1018.52 1788.9,1015.26 1789.9,1011.85 1790.9,1008.29 1791.9,1004.6 1792.9,1000.8 1793.9,996.9 1794.9,992.92 1795.9,988.88 1796.9,984.8 1797.9,980.68 1798.9,976.53 1799.9,972.33 1800.9,968.05 1801.9,963.69 1802.9,959.25 1803.9,954.73 1804.9,950.16 1805.9,945.53 1806.9,940.85 1807.9,936.12 1808.9,931.31 1809.9,926.4 1810.9,921.4 1811.9,916.33 1812.9,911.22 1813.9,906.12 1814.9,901.06 1815.9,896.08 1816.9,891.2 1817.9,886.41 1818.9,881.71 1819.9,877.07 1820.9,872.47 1821.9,867.93 1822.9,863.45 1823.9,859.02 1824.9,854.65 1825.9,850.35 1826.9,846.08 1827.9,841.85 1828.9,837.66 1829.9,833.54 1830.9,829.52 1831.9,825.66 1832.9,821.97 1833.9,818.45 1834.9,815.05 1835.9,811.78 1836.9,808.63 1837.9,805.66 1838.9,802.9 1839.9,800.35 1840.9,798 1841.9,795.8 1842.9,793.75 1843.9,791.91 1844.9,790.37 1845.9,789.14 1846.9,788.19 1847.9,787.43 1848.9,786.81 1849.9,786.37 1850.9,786.16 1851.9,786.2 1852.9,786.47 1853.9,786.95 1854.9,787.58 1855.9,788.37 1856.9,789.39 1857.9,790.76 1858.9,792.52 1859.9,794.62 1860.9,796.96 1861.9,799.49 1862.9,802.22 1863.9,805.22 1864.9,808.51 1865.9,812.04 1866.9,815.72 1867.9,819.53 1868.9,823.46 1869.9,827.54 1870.9,831.77 1871.9,836.13 1872.9,840.61 1873.9,845.18 1874.9,849.83 1875.9,854.59 1876.9,859.48 1877.9,864.47 1878.9,869.53 1879.9,874.63 1880.9,879.71 1881.9,884.76 1882.9,889.79 1883.9,894.82 1884.9,899.86 1885.9,904.89 1886.9,909.92 1887.9,914.93 1888.9,919.91 1889.9,924.85 1890.9,929.76 1891.9,934.65 1892.9,939.51 1893.9,944.36 1894.9,949.18 1895.9,953.97 1896.9,958.71 1897.9,963.4 1898.9,968.02 1899.9,972.58 1900.9,977.08 1901.9,981.54 1902.9,985.96 1903.9,990.33 1904.9,994.64 1905.9,998.88 1906.9,1003.04 1907.9,1007.1 1908.9,1011.06 1909.9,1014.94 1910.9,1018.75 1911.9,1022.5 1912.9,1026.19 1913.9,1029.79 1914.9,1033.3 1915.9,1036.69 1916.9,1039.95 1917.9,1043.07 1918.9,1046.06 1919.9,1048.94 1920.9,1051.75 1921.9,1054.47 1922.9,1057.09 1923.9,1059.61 1924.9,1062.01 1925.9,1064.26 1926.9,1066.37 1927.9,1068.34 1928.9,1070.18 1929.9,1071.93 1930.9,1073.6 1931.9,1075.19 1932.9,1076.69 1933.9,1078.11 1934.9,1079.44 1935.9,1080.69 1936.9,1081.86 1937.9,1082.97 1938.9,1084.03 1939.9,1085.05 1940.9,1086.02 1941.9,1086.93 1942.9,1087.78 1943.9,1088.55 1944.9,1089.24 1945.9,1089.85 1946.9,1090.39 1947.9,1090.9 1948.9,1091.39 1949.9,1091.86 1950.9,1092.3 1951.9,1092.71 1952.9,1093.08 1953.9,1093.41 1954.9,1093.68 1955.9,1093.89 1956.9,1094.02" fill="none" stroke="#111a26" stroke-width="3" stroke-linejoin="round" stroke-linecap="round" clip-path="url(#clipE)"/>
<line x1="1507.9" y1="1096.3" x2="1507.9" y2="1103.3" stroke="#000" stroke-width="3.2" />
<line x1="1625.9" y1="1096.3" x2="1625.9" y2="1103.3" stroke="#000" stroke-width="3.2" />
<line x1="1743.9" y1="1096.3" x2="1743.9" y2="1103.3" stroke="#000" stroke-width="3.2" />
<line x1="1861.9" y1="1096.3" x2="1861.9" y2="1103.3" stroke="#000" stroke-width="3.2" />
<line x1="1566.9" y1="1096.3" x2="1566.9" y2="1100.8" stroke="#000" stroke-width="3.2" />
<line x1="1684.9" y1="1096.3" x2="1684.9" y2="1100.8" stroke="#000" stroke-width="3.2" />
<line x1="1802.9" y1="1096.3" x2="1802.9" y2="1100.8" stroke="#000" stroke-width="3.2" />
<line x1="1920.9" y1="1096.3" x2="1920.9" y2="1100.8" stroke="#000" stroke-width="3.2" />
<line x1="1498.2" y1="1096.2" x2="1505.7" y2="1096.2" stroke="#000" stroke-width="3.2" />
<line x1="1498.2" y1="972.4" x2="1505.7" y2="972.4" stroke="#000" stroke-width="3.2" />
<line x1="1498.2" y1="848.6" x2="1505.7" y2="848.6" stroke="#000" stroke-width="3.2" />
<line x1="1498.2" y1="724.8" x2="1505.7" y2="724.8" stroke="#000" stroke-width="3.2" />
<line x1="1501.2" y1="1034.3" x2="1505.7" y2="1034.3" stroke="#000" stroke-width="3.2" />
<line x1="1501.2" y1="910.5" x2="1505.7" y2="910.5" stroke="#000" stroke-width="3.2" />
<line x1="1501.2" y1="786.7" x2="1505.7" y2="786.7" stroke="#000" stroke-width="3.2" />
<rect x="1505.7" y="663.6" width="451.7" height="432.7" fill="none" stroke="#000" stroke-width="4"/>
<text x="1507.9" y="1130.5" font-size="24" font-family="'Liberation Sans', Arial, Helvetica, sans-serif" font-weight="bold" fill="#000" text-anchor="middle">600</text>
<text x="1625.9" y="1130.5" font-size="24" font-family="'Liberation Sans', Arial, Helvetica, sans-serif" font-weight="bold" fill="#000" text-anchor="middle">700</text>
<text x="1743.9" y="1130.5" font-size="24" font-family="'Liberation Sans', Arial, Helvetica, sans-serif" font-weight="bold" fill="#000" text-anchor="middle">800</text>
<text x="1861.9" y="1130.5" font-size="24" font-family="'Liberation Sans', Arial, Helvetica, sans-serif" font-weight="bold" fill="#000" text-anchor="middle">900</text>
<text x="1494" y="1104.7" font-size="24" font-family="'Liberation Sans', Arial, Helvetica, sans-serif" font-weight="bold" fill="#000" text-anchor="end">0.0</text>
<text x="1494" y="980.9" font-size="24" font-family="'Liberation Sans', Arial, Helvetica, sans-serif" font-weight="bold" fill="#000" text-anchor="end">0.4</text>
<text x="1494" y="857.1" font-size="24" font-family="'Liberation Sans', Arial, Helvetica, sans-serif" font-weight="bold" fill="#000" text-anchor="end">0.8</text>
<text x="1494" y="733.3" font-size="24" font-family="'Liberation Sans', Arial, Helvetica, sans-serif" font-weight="bold" fill="#000" text-anchor="end">1.2</text>
<text x="1600" y="1161" font-size="30.5" font-family="'Liberation Sans', Arial, Helvetica, sans-serif" font-weight="bold" fill="#000" textLength="265" lengthAdjust="spacingAndGlyphs">Wave length (nm)</text>
<text x="1449" y="1026" font-size="26.5" font-family="'Liberation Sans', Arial, Helvetica, sans-serif" font-weight="bold" fill="#000" transform="rotate(-90 1449 1026)" textLength="322" lengthAdjust="spacingAndGlyphs">Normalized PL intensity</text>
<line x1="1527" y1="698" x2="1570" y2="698" stroke="#224a8c" stroke-width="2.6" stroke-linecap="round"/>
<text x="1577" y="704.5" font-size="24" font-family="'Liberation Sans', Arial, Helvetica, sans-serif" font-weight="bold" fill="#000" textLength="158" lengthAdjust="spacingAndGlyphs">Preannealing</text>
<line x1="1527" y1="728.6" x2="1570" y2="728.6" stroke="#f0821e" stroke-width="2.6" stroke-linecap="round"/>
<text x="1577" y="735.1" font-size="24" font-family="'Liberation Sans', Arial, Helvetica, sans-serif" font-weight="bold" fill="#000" textLength="173" lengthAdjust="spacingAndGlyphs">Annealing-30s</text>
<line x1="1527" y1="759.2" x2="1570" y2="759.2" stroke="#111a26" stroke-width="2.6" stroke-linecap="round"/>
<text x="1577" y="765.7" font-size="24" font-family="'Liberation Sans', Arial, Helvetica, sans-serif" font-weight="bold" fill="#000" textLength="190" lengthAdjust="spacingAndGlyphs">Annealing-1min</text>
<text x="1810" y="710" font-size="26" font-family="'Liberation Sans', Arial, Helvetica, sans-serif" font-weight="bold" fill="#000" textLength="121" lengthAdjust="spacingAndGlyphs">PEASCN</text>
<text x="1810" y="746" font-size="26" font-family="'Liberation Sans', Arial, Helvetica, sans-serif" font-weight="bold" fill="#000" textLength="137" lengthAdjust="spacingAndGlyphs">-FAHCOO</text>
</g>
<g id="panel-g">
<text x="708" y="1218" font-size="50" font-family="'Liberation Serif', 'Times New Roman', Times, serif" font-weight="bold" fill="#000">g</text>
<clipPath id="clipG"><rect x="840.3" y="1229.5" width="441.6" height="440.8"/></clipPath>
<polyline points="842.65,1444.24 843.65,1444.18 844.65,1444.11 845.65,1444.05 846.65,1443.98 847.65,1443.92 848.65,1443.85 849.65,1443.79 850.65,1443.72 851.65,1443.65 852.65,1443.59 853.65,1443.52 854.65,1443.45 855.65,1443.38 856.65,1443.32 857.65,1443.25 858.65,1443.18 859.65,1443.11 860.65,1443.04 861.65,1442.97 862.65,1442.9 863.65,1442.83 864.65,1442.76 865.65,1442.69 866.65,1442.62 867.65,1442.55 868.65,1442.47 869.65,1442.4 870.65,1442.33 871.65,1442.26 872.65,1442.19 873.65,1442.11 874.65,1442.04 875.65,1441.97 876.65,1441.89 877.65,1441.82 878.65,1441.76 879.65,1441.69 880.65,1441.62 881.65,1441.56 882.65,1441.5 883.65,1441.43 884.65,1441.37 885.65,1441.3 886.65,1441.23 887.65,1441.16 888.65,1441.09 889.65,1441.01 890.65,1440.93 891.65,1440.84 892.65,1440.75 893.65,1440.66 894.65,1440.56 895.65,1440.45 896.65,1440.34 897.65,1440.19 898.65,1440 899.65,1439.76 900.65,1439.5 901.65,1439.21 902.65,1438.91 903.65,1438.62 904.65,1438.33 905.65,1438.06 906.65,1437.82 907.65,1437.62 908.65,1437.46 909.65,1437.37 910.65,1437.34 911.65,1437.45 912.65,1437.65 913.65,1437.87 914.65,1438.01 915.65,1437.99 916.65,1437.73 917.65,1437.3 918.65,1436.76 919.65,1436.18 920.65,1435.63 921.65,1435.17 922.65,1434.82 923.65,1434.47 924.65,1434.12 925.65,1433.76 926.65,1433.42 927.65,1433.1 928.65,1432.8 929.65,1432.55 930.65,1432.33 931.65,1432.18 932.65,1432.08 933.65,1432.05 934.65,1432.2 935.65,1432.47 936.65,1432.76 937.65,1432.95 938.65,1432.96 939.65,1432.91 940.65,1432.81 941.65,1432.67 942.65,1432.5 943.65,1432.31 944.65,1432.11 945.65,1431.9 946.65,1431.68 947.65,1431.48 948.65,1431.29 949.65,1431.12 950.65,1430.98 951.65,1430.84 952.65,1430.71 953.65,1430.59 954.65,1430.46 955.65,1430.32 956.65,1430.16 957.65,1429.98 958.65,1429.78 959.65,1429.55 960.65,1429.26 961.65,1428.92 962.65,1428.5 963.65,1428 964.65,1427.22 965.65,1426.21 966.65,1425.07 967.65,1423.92 968.65,1422.85 969.65,1421.8 970.65,1420.75 971.65,1419.66 972.65,1418.5 973.65,1417.24 974.65,1415.85 975.65,1414.26 976.65,1412.38 977.65,1410.3 978.65,1408.13 979.65,1405.96 980.65,1403.8 981.65,1401.6 982.65,1399.35 983.65,1397.03 984.65,1394.63 985.65,1392.13 986.65,1389.51 987.65,1386.77 988.65,1383.87 989.65,1380.81 990.65,1377.56 991.65,1374.06 992.65,1370.25 993.65,1366.19 994.65,1362 995.65,1357.76 996.65,1353.45 997.65,1349.03 998.65,1344.49 999.65,1339.86 1000.65,1335.11 1001.65,1330.19 1002.65,1325.15 1003.65,1320.07 1004.65,1315.01 1005.65,1309.98 1006.65,1304.9 1007.65,1299.84 1008.65,1294.88 1009.65,1290.08 1010.65,1285.42 1011.65,1280.85 1012.65,1276.4 1013.65,1272.06 1014.65,1267.8 1015.65,1263.53 1016.65,1259.38 1017.65,1255.49 1018.65,1252.01 1019.65,1248.86 1020.65,1245.92 1021.65,1243.21 1022.65,1240.76 1023.65,1238.55 1024.65,1236.41 1025.65,1234.56 1026.65,1233.33 1027.65,1232.54 1028.65,1231.91 1029.65,1231.54 1030.65,1231.58 1031.65,1232.1 1032.65,1232.93 1033.65,1233.91 1034.65,1235.41 1035.65,1237.51 1036.65,1239.88 1037.65,1242.32 1038.65,1245.02 1039.65,1247.99 1040.65,1251.22 1041.65,1254.71 1042.65,1258.65 1043.65,1263.07 1044.65,1267.79 1045.65,1272.61 1046.65,1277.39 1047.65,1282.31 1048.65,1287.35 1049.65,1292.43 1050.65,1297.49 1051.65,1302.52 1052.65,1307.61 1053.65,1312.67 1054.65,1317.63 1055.65,1322.41 1056.65,1327.02 1057.65,1331.5 1058.65,1335.92 1059.65,1340.36 1060.65,1344.88 1061.65,1349.46 1062.65,1354.03 1063.65,1358.52 1064.65,1362.84 1065.65,1366.93 1066.65,1370.84 1067.65,1374.73 1068.65,1378.73 1069.65,1383.09 1070.65,1387.98 1071.65,1391.83 1072.65,1394.41 1073.65,1396.48 1074.65,1398.41 1075.65,1400.57 1076.65,1403.34 1077.65,1406.71 1078.65,1410.26 1079.65,1413.53 1080.65,1416.7 1081.65,1419.75 1082.65,1422.22 1083.65,1423.87 1084.65,1425.17 1085.65,1426.27 1086.65,1427.24 1087.65,1428.2 1088.65,1429.17 1089.65,1430.12 1090.65,1431.03 1091.65,1431.88 1092.65,1432.67 1093.65,1433.37 1094.65,1433.98 1095.65,1434.54 1096.65,1435.08 1097.65,1435.57 1098.65,1436.02 1099.65,1436.4 1100.65,1436.71 1101.65,1436.93 1102.65,1437.12 1103.65,1437.29 1104.65,1437.45 1105.65,1437.59 1106.65,1437.71 1107.65,1437.82 1108.65,1437.91 1109.65,1437.98 1110.65,1438.03 1111.65,1438.08 1112.65,1438.11 1113.65,1438.14 1114.65,1438.17 1115.65,1438.19 1116.65,1438.21 1117.65,1438.23 1118.65,1438.25 1119.65,1438.27 1120.65,1438.28 1121.65,1438.3 1122.65,1438.32 1123.65,1438.33 1124.65,1438.36 1125.65,1438.38 1126.65,1438.41 1127.65,1438.44 1128.65,1438.48 1129.65,1438.52 1130.65,1438.58 1131.65,1438.66 1132.65,1438.75 1133.65,1438.84 1134.65,1438.95 1135.65,1439.06 1136.65,1439.18 1137.65,1439.3 1138.65,1439.42 1139.65,1439.54 1140.65,1439.66 1141.65,1439.79 1142.65,1439.93 1143.65,1440.08 1144.65,1440.23 1145.65,1440.39 1146.65,1440.55 1147.65,1440.71 1148.65,1440.86 1149.65,1440.99 1150.65,1441.12 1151.65,1441.22 1152.65,1441.31 1153.65,1441.39 1154.65,1441.47 1155.65,1441.55 1156.65,1441.62 1157.65,1441.69 1158.65,1441.75 1159.65,1441.82 1160.65,1441.88 1161.65,1441.93 1162.65,1441.99 1163.65,1442.05 1164.65,1442.1 1165.65,1442.15 1166.65,1442.2 1167.65,1442.25 1168.65,1442.3 1169.65,1442.35 1170.65,1442.4 1171.65,1442.46 1172.65,1442.51 1173.65,1442.56 1174.65,1442.61 1175.65,1442.67 1176.65,1442.73 1177.65,1442.79 1178.65,1442.85 1179.65,1442.92 1180.65,1442.98 1181.65,1443.05 1182.65,1443.11 1183.65,1443.18 1184.65,1443.25 1185.65,1443.31 1186.65,1443.37 1187.65,1443.43 1188.65,1443.49 1189.65,1443.54 1190.65,1443.59 1191.65,1443.64 1192.65,1443.68 1193.65,1443.71 1194.65,1443.74 1195.65,1443.76 1196.65,1443.77 1197.65,1443.78 1198.65,1443.78 1199.65,1443.78 1200.65,1443.78 1201.65,1443.78 1202.65,1443.77 1203.65,1443.77 1204.65,1443.77 1205.65,1443.76 1206.65,1443.75 1207.65,1443.75 1208.65,1443.74 1209.65,1443.73 1210.65,1443.72 1211.65,1443.71 1212.65,1443.7 1213.65,1443.68 1214.65,1443.67 1215.65,1443.65 1216.65,1443.64 1217.65,1443.62 1218.65,1443.6 1219.65,1443.58 1220.65,1443.56 1221.65,1443.51 1222.65,1443.35 1223.65,1443.12 1224.65,1442.9 1225.65,1442.71 1226.65,1442.63 1227.65,1442.73 1228.65,1443 1229.65,1443.38 1230.65,1443.76 1231.65,1444.08 1232.65,1444.26 1233.65,1444.36 1234.65,1444.46 1235.65,1444.55 1236.65,1444.63 1237.65,1444.7 1238.65,1444.76 1239.65,1444.82 1240.65,1444.86 1241.65,1444.9 1242.65,1444.92 1243.65,1444.93 1244.65,1444.9 1245.65,1444.76 1246.65,1444.55 1247.65,1444.3 1248.65,1444.06 1249.65,1443.88 1250.65,1443.78 1251.65,1443.79 1252.65,1443.83 1253.65,1443.91 1254.65,1444 1255.65,1444.12 1256.65,1444.25 1257.65,1444.4 1258.65,1444.54 1259.65,1444.69 1260.65,1444.84 1261.65,1444.98 1262.65,1445.1 1263.65,1445.21 1264.65,1445.3 1265.65,1445.36 1266.65,1445.39 1267.65,1445.39 1268.65,1445.39 1269.65,1445.38 1270.65,1445.37 1271.65,1445.35 1272.65,1445.33 1273.65,1445.3 1274.65,1445.27 1275.65,1445.22 1276.65,1445.16 1277.65,1445.1 1278.65,1445.02" fill="none" stroke="#f0821e" stroke-width="3" stroke-linejoin="round" stroke-linecap="round" clip-path="url(#clipG)"/>
<polyline points="842.65,1622.38 849.55,1623.3 855.3,1630.89 861.05,1624.68 866.8,1627.44 873.24,1621.69 879.45,1628.59 885.2,1620.08 891.64,1625.14 903.6,1625.14 910.5,1623.3 916.25,1620.54 922,1620.08 932.35,1622.84 939.25,1622.38 946.15,1615.94 951.9,1617.09 956.95,1616.4 963.39,1609.5 970.29,1609.5 980.64,1611.34 987.54,1604.44 993.29,1602.83 1000.19,1585.58 1011.69,1575.69 1017.44,1552.24 1023.19,1547.64 1029.63,1525.79 1035.84,1518.2 1041.59,1514.06 1047.34,1512.45 1053.09,1509 1059.53,1502.1 1065.51,1486.46 1071.49,1506.24 1077.93,1515.44 1084.14,1546.26 1089.89,1561.9 1095.64,1579.83 1102.54,1586.04 1118.64,1599.15 1125.54,1610.88 1132.44,1614.1 1141.64,1614.79 1149.69,1614.1 1161.19,1619.85 1167.63,1616.4 1179.59,1623.53 1185.34,1619.39 1192.24,1622.84 1202.59,1621.23 1220.98,1621.23 1229.03,1623.53 1239.38,1623.99 1245.82,1621.23 1252.03,1625.83 1257.78,1621.69 1268.13,1623.99 1279.63,1622.84" fill="none" stroke="#224a8c" stroke-width="2.9" stroke-linejoin="round" stroke-linecap="round" clip-path="url(#clipG)"/>
<line x1="840.3" y1="1670.3" x2="840.3" y2="1678.3" stroke="#000" stroke-width="3.6" />
<line x1="987.5" y1="1670.3" x2="987.5" y2="1678.3" stroke="#000" stroke-width="3.6" />
<line x1="1134.7" y1="1670.3" x2="1134.7" y2="1678.3" stroke="#000" stroke-width="3.6" />
<line x1="1281.9" y1="1670.3" x2="1281.9" y2="1678.3" stroke="#000" stroke-width="3.6" />
<line x1="913.9" y1="1670.3" x2="913.9" y2="1674.8" stroke="#000" stroke-width="3.6" />
<line x1="1061.1" y1="1670.3" x2="1061.1" y2="1674.8" stroke="#000" stroke-width="3.6" />
<line x1="1208.3" y1="1670.3" x2="1208.3" y2="1674.8" stroke="#000" stroke-width="3.6" />
<line x1="987.5" y1="1449.7" x2="987.5" y2="1454.7" stroke="#000" stroke-width="3" />
<line x1="1134.7" y1="1449.7" x2="1134.7" y2="1454.7" stroke="#000" stroke-width="3" />
<line x1="913.9" y1="1449.7" x2="913.9" y2="1453.2" stroke="#000" stroke-width="3" />
<line x1="1061.1" y1="1449.7" x2="1061.1" y2="1453.2" stroke="#000" stroke-width="3" />
<line x1="1208.3" y1="1449.7" x2="1208.3" y2="1453.2" stroke="#000" stroke-width="3" />
<line x1="840.3" y1="1449.7" x2="1281.9" y2="1449.7" stroke="#000" stroke-width="4" />
<rect x="840.3" y="1229.5" width="441.6" height="440.8" fill="none" stroke="#000" stroke-width="4.6"/>
<text x="840.3" y="1713.5" font-size="35.5" font-family="'Liberation Sans', Arial, Helvetica, sans-serif" font-weight="bold" fill="#000" text-anchor="middle" textLength="70" lengthAdjust="spacingAndGlyphs">13.5</text>
<text x="987.5" y="1713.5" font-size="35.5" font-family="'Liberation Sans', Arial, Helvetica, sans-serif" font-weight="bold" fill="#000" text-anchor="middle" textLength="70" lengthAdjust="spacingAndGlyphs">14.0</text>
<text x="1134.7" y="1713.5" font-size="35.5" font-family="'Liberation Sans', Arial, Helvetica, sans-serif" font-weight="bold" fill="#000" text-anchor="middle" textLength="70" lengthAdjust="spacingAndGlyphs">14.5</text>
<text x="1281.9" y="1713.5" font-size="35.5" font-family="'Liberation Sans', Arial, Helvetica, sans-serif" font-weight="bold" fill="#000" text-anchor="middle" textLength="70" lengthAdjust="spacingAndGlyphs">15.0</text>
<text x="954" y="1753.5" font-size="35" font-family="'Liberation Sans', Arial, Helvetica, sans-serif" font-weight="bold" fill="#000" textLength="195" lengthAdjust="spacingAndGlyphs">2<tspan font-style="italic">θ</tspan> (degree)</text>
<text x="801" y="1608" font-size="38" font-family="'Liberation Sans', Arial, Helvetica, sans-serif" font-weight="bold" fill="#000" transform="rotate(-90 801 1608)" textLength="350" lengthAdjust="spacingAndGlyphs">Intensity (arb. units)</text>
<text x="848.4" y="1354.1" font-size="24.5" font-family="'Liberation Sans', Arial, Helvetica, sans-serif" font-weight="bold" fill="#f0821e" textLength="106" lengthAdjust="spacingAndGlyphs">PEASCN</text>
<text x="848.4" y="1386" font-size="24.5" font-family="'Liberation Sans', Arial, Helvetica, sans-serif" font-weight="bold" fill="#f0821e" textLength="119" lengthAdjust="spacingAndGlyphs">-FAHCOO</text>
<text x="1075.5" y="1345.3" font-size="29" font-family="'Liberation Sans', Arial, Helvetica, sans-serif" font-weight="bold" fill="#f0821e" textLength="85.5" lengthAdjust="spacingAndGlyphs">0.206°</text>
<text x="1114" y="1575.7" font-size="29" font-family="'Liberation Sans', Arial, Helvetica, sans-serif" font-weight="bold" fill="#224a8c" textLength="85.5" lengthAdjust="spacingAndGlyphs">0.273°</text>
<text x="860" y="1604.4" font-size="24.5" font-family="'Liberation Sans', Arial, Helvetica, sans-serif" font-weight="bold" fill="#224a8c" textLength="57.5" lengthAdjust="spacingAndGlyphs">PEAI</text>
<line x1="1005.3" y1="1335.5" x2="1053.7" y2="1335.5" stroke="#f0821e" stroke-width="1.7" /><path d="M1001.3 1335.5 l9.5 -3.4 l0 6.8 z" fill="#f0821e"/><path d="M1057.7 1335.5 l-9.5 -3.4 l0 6.8 z" fill="#f0821e"/>
<line x1="1019.1" y1="1569.3" x2="1088.2" y2="1569.3" stroke="#224a8c" stroke-width="1.7" /><path d="M1015.1 1569.3 l9.5 -3.4 l0 6.8 z" fill="#224a8c"/><path d="M1092.2 1569.3 l-9.5 -3.4 l0 6.8 z" fill="#224a8c"/>
</g>
<g id="panel-h">
<text x="1430" y="1213" font-size="50" font-family="'Liberation Serif', 'Times New Roman', Times, serif" font-weight="bold" fill="#000">h</text>
<polyline points="1514.57,1636.9 1515.37,1633.96 1516.17,1631.45 1516.97,1630.98 1517.77,1629.95 1518.57,1630.35 1519.37,1630.02 1520.17,1629.03 1520.97,1629.26 1521.77,1628.7 1522.57,1628.1 1523.37,1628.31 1524.17,1628.31 1524.97,1628.41 1525.77,1628.9 1526.57,1629.07 1527.37,1627.68 1528.17,1627.88 1528.97,1628.34 1529.77,1628.4 1530.57,1628.14 1531.37,1628.12 1532.17,1628.94 1532.97,1627.86 1533.77,1627.92 1534.57,1628.17 1535.37,1627.39 1536.17,1627.76 1536.97,1628.86 1537.77,1628.17 1538.57,1626.03 1539.37,1626.11 1540.17,1628.25 1540.97,1628.36 1541.77,1627.96 1542.57,1628.35 1543.37,1629.12 1544.17,1628.26 1544.97,1627.33 1545.77,1627.97 1546.57,1627.42 1547.37,1626.93 1548.17,1628.01 1548.97,1628.46 1549.77,1627.49 1550.57,1628.24 1551.37,1628.89 1552.17,1628.75 1552.97,1628.68 1553.77,1628.93 1554.57,1628.99 1555.37,1628.91 1556.17,1629.36 1556.97,1630 1557.77,1629.28 1558.57,1627.86 1559.37,1627.58 1560.17,1628.33 1560.97,1628.3 1561.77,1628.86 1562.57,1629.65 1563.37,1628.01 1564.17,1628.11 1564.97,1628.79 1565.77,1628.3 1566.57,1628.59 1567.37,1629.68 1568.17,1629.74 1568.97,1628.97 1569.77,1628.84 1570.57,1628.88 1571.37,1628.92 1572.17,1628.84 1572.97,1628.64 1573.77,1628.87 1574.57,1629.18 1575.37,1629 1576.17,1629.22 1576.97,1629.82 1577.77,1628.63 1578.57,1628.24 1579.37,1629.22 1580.17,1629.76 1580.97,1629.33 1581.77,1628.58 1582.57,1628.67 1583.37,1629.11 1584.17,1629.87 1584.97,1630.23 1585.77,1629.81 1586.57,1628.71 1587.37,1628.53 1588.17,1629.55 1588.97,1629.37 1589.77,1629.32 1590.57,1629.31 1591.37,1628.11 1592.17,1628.37 1592.97,1628.88 1593.77,1628.66 1594.57,1629.16 1595.37,1628.81 1596.17,1628.53 1596.97,1629.21 1597.77,1628.43 1598.57,1628.04 1599.37,1627.79 1600.17,1628.46 1600.97,1629.84 1601.77,1629.82 1602.57,1629.18 1603.37,1628.36 1604.17,1629.05 1604.97,1629.63 1605.77,1628.81 1606.57,1628.48 1607.37,1628.54 1608.17,1627.84 1608.97,1628.39 1609.77,1629.71 1610.57,1629.27 1611.37,1627.94 1612.17,1628.12 1612.97,1629.31 1613.77,1629.58 1614.57,1629.75 1615.37,1629.26 1616.17,1628.04 1616.97,1628.17 1617.77,1628.91 1618.57,1628.34 1619.37,1628.5 1620.17,1628.75 1620.97,1628.35 1621.77,1629.18 1622.57,1630.08 1623.37,1629.13 1624.17,1627.8 1624.97,1627.88 1625.77,1628.38 1626.57,1628.67 1627.37,1629.31 1628.17,1628.91 1628.97,1629 1629.77,1628.76 1630.57,1628.31 1631.37,1629.25 1632.17,1629.14 1632.97,1628.31 1633.77,1628.08 1634.57,1628.48 1635.37,1628.5 1636.17,1629.23 1636.97,1629.27 1637.77,1628.24 1638.57,1628.91 1639.37,1629.34 1640.17,1628.75 1640.97,1629.44 1641.77,1628.96 1642.57,1628.22 1643.37,1629.77 1644.17,1629.57 1644.97,1628.4 1645.77,1628.03 1646.57,1627.96 1647.37,1628.2 1648.17,1627.63 1648.97,1628 1649.77,1628.66 1650.57,1628.37 1651.37,1628.21 1652.17,1627.61 1652.97,1626.99 1653.77,1627.94 1654.57,1628.01 1655.37,1627.52 1656.17,1628.12 1656.97,1627.83 1657.77,1627.38 1658.57,1627.51 1659.37,1628.26 1660.17,1628.67 1660.97,1628.16 1661.77,1627.79 1662.57,1629.25 1663.37,1629.88 1664.17,1628.74 1664.97,1627.79 1665.77,1627.14 1666.57,1626.97 1667.37,1627.4 1668.17,1628.46 1668.97,1628.34 1669.77,1627.74 1670.57,1627.62 1671.37,1627.33 1672.17,1627.47 1672.97,1627.3 1673.77,1626.93 1674.57,1627.37 1675.37,1628.17 1676.17,1627.49 1676.97,1627.59 1677.77,1628.14 1678.57,1627.2 1679.37,1626.85 1680.17,1627.2 1680.97,1628.59 1681.77,1628.16 1682.57,1627.12 1683.37,1627.32 1684.17,1627.85 1684.97,1628.02 1685.77,1627.69 1686.57,1626.71 1687.37,1625.42 1688.17,1626.03 1688.97,1627.07 1689.77,1626.68 1690.57,1625.28 1691.37,1625.69 1692.17,1625.81 1692.97,1624.93 1693.77,1624.28 1694.57,1624.21 1695.37,1624.97 1696.17,1624 1696.97,1622.67 1697.77,1622.24 1698.57,1621.84 1699.37,1621.57 1700.17,1621.8 1700.97,1621.74 1701.77,1620.69 1702.57,1619.14 1703.37,1617.93 1704.17,1618.16 1704.97,1617.16 1705.77,1615.9 1706.57,1614.42 1707.37,1612.48 1708.17,1609.91 1708.97,1605.9 1709.77,1604.79 1710.57,1603.15 1711.37,1598.92 1712.17,1595.21 1712.97,1592.17 1713.77,1587.85 1714.57,1580.96 1715.37,1573.73 1716.17,1565.48 1716.97,1556.6 1717.77,1547.95 1718.57,1537.66 1719.37,1526.83 1720.17,1515.02 1720.97,1502.84 1721.77,1489.58 1722.57,1476.08 1723.37,1463.12 1724.17,1449.77 1724.97,1435.82 1725.77,1421.22 1726.57,1406.97 1727.37,1393.51 1728.17,1379.98 1728.97,1366.19 1729.77,1353.26 1730.57,1341.73 1731.37,1329.91 1732.17,1317.74 1732.97,1308.96 1733.77,1304 1734.57,1300.13 1735.37,1297.75 1736.17,1297.95 1736.97,1301.19 1737.77,1306.36 1738.57,1312.71 1739.37,1322.45 1740.17,1333.51 1740.97,1345.53 1741.77,1358.78 1742.57,1372.44 1743.37,1386.07 1744.17,1399.93 1744.97,1414.35 1745.77,1427.51 1746.57,1441.34 1747.37,1455.26 1748.17,1468.7 1748.97,1482.26 1749.77,1495.85 1750.57,1507.68 1751.37,1519.01 1752.17,1531.76 1752.97,1542.84 1753.77,1552.3 1754.57,1561.6 1755.37,1570.6 1756.17,1577.78 1756.97,1585.41 1757.77,1591.79 1758.57,1597.61 1759.37,1602.81 1760.17,1606.18 1760.97,1609.72 1761.77,1611.61 1762.57,1613.84 1763.37,1618 1764.17,1619.96 1764.97,1620.72 1765.77,1621.33 1766.57,1622.18 1767.37,1622.79 1768.17,1622.43 1768.97,1623.96 1769.77,1625.51 1770.57,1625.08 1771.37,1625.48 1772.17,1625.94 1772.97,1626.11 1773.77,1625.89 1774.57,1624.92 1775.37,1625.5 1776.17,1626.11 1776.97,1626.8 1777.77,1627.28 1778.57,1626.57 1779.37,1626.28 1780.17,1626.83 1780.97,1626.69 1781.77,1625.7 1782.57,1625.94 1783.37,1627.78 1784.17,1627.07 1784.97,1625.54 1785.77,1625.47 1786.57,1626.81 1787.37,1627.45 1788.17,1626.81 1788.97,1626.7 1789.77,1627.21 1790.57,1627.6 1791.37,1627.31 1792.17,1628.23 1792.97,1629.04 1793.77,1627.81 1794.57,1626.3 1795.37,1627.25 1796.17,1626.74 1796.97,1626.95 1797.77,1628.03 1798.57,1627.82 1799.37,1628.09 1800.17,1627.38 1800.97,1627.3 1801.77,1627.7 1802.57,1627.53 1803.37,1627.72 1804.17,1627.57 1804.97,1627.08 1805.77,1627.53 1806.57,1627.77 1807.37,1626.89 1808.17,1626.07 1808.97,1626.74 1809.77,1628.23 1810.57,1628.31 1811.37,1628.31 1812.17,1629.04 1812.97,1627.98 1813.77,1627.12 1814.57,1627.79 1815.37,1628.75 1816.17,1628.89 1816.97,1627.89 1817.77,1628.07 1818.57,1628.48 1819.37,1627.83 1820.17,1628.76 1820.97,1628.39 1821.77,1627.27 1822.57,1627.59 1823.37,1628.62 1824.17,1628.58 1824.97,1627.2 1825.77,1627.86 1826.57,1629.31 1827.37,1629.78 1828.17,1628.93 1828.97,1629.04 1829.77,1629.83 1830.57,1629.03 1831.37,1628.5 1832.17,1629.01 1832.97,1629.13 1833.77,1628.44 1834.57,1628.1 1835.37,1628.25 1836.17,1628.49 1836.97,1627.76 1837.77,1626.83 1838.57,1627.59 1839.37,1628.9 1840.17,1629.31 1840.97,1628.85 1841.77,1628.68 1842.57,1628.45 1843.37,1627.79 1844.17,1627.63 1844.97,1626.65 1845.77,1625.96 1846.57,1628.4 1847.37,1629.6 1848.17,1628.69 1848.97,1628.04 1849.77,1627.09 1850.57,1627.78 1851.37,1628.74 1852.17,1628.41 1852.97,1627.91 1853.77,1627.65 1854.57,1627.61 1855.37,1627.52 1856.17,1627.66 1856.97,1627.71 1857.77,1628.25 1858.57,1629.09 1859.37,1628.47 1860.17,1627.42 1860.97,1627.37 1861.77,1627.27 1862.57,1627.89 1863.37,1628.58 1864.17,1628.58 1864.97,1629.52 1865.77,1629.57 1866.57,1628.13 1867.37,1627.23 1868.17,1627.26 1868.97,1627.49 1869.77,1628.36 1870.57,1628.87 1871.37,1627.26 1872.17,1626.65 1872.97,1627.85 1873.77,1628.56 1874.57,1628.11 1875.37,1627.42 1876.17,1627.48 1876.97,1628.05 1877.77,1628.46 1878.57,1627.66 1879.37,1627.45 1880.17,1628.07 1880.97,1627.67 1881.77,1628.17 1882.57,1628.07 1883.37,1627 1884.17,1627.56 1884.97,1627.25 1885.77,1627.2 1886.57,1628.2 1887.37,1628.14 1888.17,1627.29 1888.97,1627.37 1889.77,1629.19 1890.57,1629.01 1891.37,1628.62 1892.17,1628.07 1892.97,1626.54 1893.77,1627.48 1894.57,1628.2 1895.37,1626.95 1896.17,1627.29 1896.97,1628.18 1897.77,1627.37 1898.57,1627.95 1899.37,1628.47 1900.17,1628.4 1900.97,1628.62 1901.77,1629.14 1902.57,1629.11 1903.37,1628.18 1904.17,1628.45 1904.97,1627.93 1905.77,1627.95 1906.57,1628.8 1907.37,1628.95 1908.17,1628.14 1908.97,1628.9 1909.77,1629.51 1910.57,1627.44 1911.37,1626.71 1912.17,1627.58 1912.97,1628.27 1913.77,1628.67 1914.57,1628.8 1915.37,1627.92 1916.17,1628.51 1916.97,1629.37 1917.77,1627.49 1918.57,1627 1919.37,1627.46 1920.17,1627.58 1920.97,1628.9 1921.77,1628.42 1922.57,1626.67 1923.37,1626.68 1924.17,1628.09 1924.97,1628.87 1925.77,1628.5 1926.57,1628.33 1927.37,1628.73 1928.17,1629.16 1928.97,1628.49 1929.77,1628.3 1930.57,1628.12 1931.37,1627.57 1932.17,1627.65 1932.97,1628.27 1933.77,1629.29 1934.57,1628.59 1935.37,1628.34 1936.17,1628.8 1936.97,1629.13 1937.77,1628.84 1938.57,1628.92 1939.37,1629.12 1940.17,1628.7 1940.97,1629.09 1941.77,1628.57 1942.57,1628.88 1943.37,1629.76 1944.17,1629.86 1944.97,1631.11 1945.77,1631.19 1946.57,1630.2 1947.37,1630.23 1948.17,1632.58 1948.97,1633.44 1949.77,1633.71 1950.57,1634.11 1951.37,1633.59 1952.17,1634.51 1952.97,1634.52 1953.77,1635.9 1954.57,1637.15 1955.37,1637.85" fill="none" stroke="#f0821e" stroke-width="3.9" stroke-linejoin="round" stroke-linecap="round" />
<polyline points="1514.57,1627.91 1515.37,1625.91 1516.17,1625.76 1516.97,1624.61 1517.77,1624.44 1518.57,1624.07 1519.37,1620.87 1520.17,1621.25 1520.97,1622.26 1521.77,1619.48 1522.57,1617.88 1523.37,1618.02 1524.17,1615.41 1524.97,1612.62 1525.77,1614.45 1526.57,1615.01 1527.37,1614.13 1528.17,1613.27 1528.97,1613.29 1529.77,1613.66 1530.57,1612.96 1531.37,1614.07 1532.17,1613.7 1532.97,1611.39 1533.77,1611.89 1534.57,1613.13 1535.37,1612.41 1536.17,1612.64 1536.97,1614.81 1537.77,1615.64 1538.57,1615.28 1539.37,1616.22 1540.17,1617.71 1540.97,1618.09 1541.77,1618.16 1542.57,1618.37 1543.37,1618.09 1544.17,1618.72 1544.97,1617.73 1545.77,1617.38 1546.57,1617.72 1547.37,1618.08 1548.17,1619.18 1548.97,1618.47 1549.77,1617.6 1550.57,1618.21 1551.37,1620 1552.17,1620.06 1552.97,1617.23 1553.77,1617.51 1554.57,1620.32 1555.37,1619.49 1556.17,1619 1556.97,1618.5 1557.77,1619.43 1558.57,1620.12 1559.37,1619.22 1560.17,1619.84 1560.97,1619.96 1561.77,1620.57 1562.57,1619.85 1563.37,1618.92 1564.17,1619.55 1564.97,1620.11 1565.77,1620.82 1566.57,1620.67 1567.37,1620.71 1568.17,1620.11 1568.97,1618.55 1569.77,1618.56 1570.57,1619.39 1571.37,1620.68 1572.17,1620.15 1572.97,1620.25 1573.77,1621 1574.57,1619.81 1575.37,1619.36 1576.17,1619.15 1576.97,1618.76 1577.77,1620.15 1578.57,1621.26 1579.37,1620.81 1580.17,1620.08 1580.97,1620.88 1581.77,1622.04 1582.57,1620.94 1583.37,1620.54 1584.17,1621.78 1584.97,1621.83 1585.77,1620.38 1586.57,1619.45 1587.37,1619.9 1588.17,1621.03 1588.97,1621.3 1589.77,1621.41 1590.57,1621.54 1591.37,1620.85 1592.17,1620.89 1592.97,1622.33 1593.77,1622.36 1594.57,1621.48 1595.37,1622.3 1596.17,1621.81 1596.97,1621.28 1597.77,1620.42 1598.57,1620.87 1599.37,1622.71 1600.17,1621.75 1600.97,1621.46 1601.77,1621.04 1602.57,1621.08 1603.37,1622.84 1604.17,1621.93 1604.97,1619.85 1605.77,1619.42 1606.57,1620.2 1607.37,1621.21 1608.17,1620.96 1608.97,1620.13 1609.77,1619.93 1610.57,1620.18 1611.37,1620.01 1612.17,1619.28 1612.97,1619.97 1613.77,1621.2 1614.57,1620.48 1615.37,1621.68 1616.17,1622.01 1616.97,1620.17 1617.77,1620.45 1618.57,1619.73 1619.37,1617.48 1620.17,1618.55 1620.97,1620.68 1621.77,1620.32 1622.57,1620.16 1623.37,1620.71 1624.17,1621.03 1624.97,1620.55 1625.77,1618.92 1626.57,1618.69 1627.37,1620.62 1628.17,1622.05 1628.97,1620.8 1629.77,1618.85 1630.57,1618.86 1631.37,1620.8 1632.17,1621.93 1632.97,1620.53 1633.77,1620.44 1634.57,1620.8 1635.37,1620.66 1636.17,1620.38 1636.97,1619.82 1637.77,1620.24 1638.57,1621.55 1639.37,1621.4 1640.17,1618.92 1640.97,1619.7 1641.77,1621.75 1642.57,1621.59 1643.37,1620.17 1644.17,1620.63 1644.97,1621.22 1645.77,1620.39 1646.57,1621.36 1647.37,1621.2 1648.17,1621.35 1648.97,1622.12 1649.77,1619.65 1650.57,1618.87 1651.37,1620.71 1652.17,1620.21 1652.97,1619.24 1653.77,1619.95 1654.57,1621.39 1655.37,1620.76 1656.17,1620.68 1656.97,1622.39 1657.77,1621.85 1658.57,1619.65 1659.37,1619.04 1660.17,1618.95 1660.97,1618.08 1661.77,1619.79 1662.57,1620.15 1663.37,1618.73 1664.17,1618.37 1664.97,1617.74 1665.77,1617.07 1666.57,1617.28 1667.37,1618.88 1668.17,1619.1 1668.97,1619.95 1669.77,1620.33 1670.57,1619.25 1671.37,1618.77 1672.17,1618.39 1672.97,1618.41 1673.77,1617.28 1674.57,1618.72 1675.37,1618.44 1676.17,1616.32 1676.97,1616.28 1677.77,1617.96 1678.57,1618.82 1679.37,1618.05 1680.17,1618.2 1680.97,1617.46 1681.77,1615.27 1682.57,1614.82 1683.37,1616.17 1684.17,1615.9 1684.97,1615.28 1685.77,1614.93 1686.57,1614.17 1687.37,1613.37 1688.17,1613.93 1688.97,1614.13 1689.77,1613.45 1690.57,1611.31 1691.37,1611.08 1692.17,1611.31 1692.97,1610.91 1693.77,1612.56 1694.57,1611.76 1695.37,1610.64 1696.17,1610.58 1696.97,1610.78 1697.77,1610.37 1698.57,1610.73 1699.37,1611.67 1700.17,1608.44 1700.97,1606.76 1701.77,1607.18 1702.57,1607.06 1703.37,1606.83 1704.17,1606.25 1704.97,1604.51 1705.77,1602.03 1706.57,1602.49 1707.37,1602.78 1708.17,1602.51 1708.97,1601.15 1709.77,1598.58 1710.57,1598.58 1711.37,1598.25 1712.17,1596.2 1712.97,1593.73 1713.77,1591.86 1714.57,1591.64 1715.37,1590.7 1716.17,1589.26 1716.97,1588.08 1717.77,1586.43 1718.57,1584.92 1719.37,1583.57 1720.17,1583.23 1720.97,1581.39 1721.77,1578.21 1722.57,1575.84 1723.37,1575.43 1724.17,1574.45 1724.97,1572.45 1725.77,1571.61 1726.57,1571.04 1727.37,1568.7 1728.17,1565.78 1728.97,1564.52 1729.77,1563.13 1730.57,1561.54 1731.37,1559.66 1732.17,1558.98 1732.97,1556.58 1733.77,1554.72 1734.57,1555.43 1735.37,1554.39 1736.17,1553.71 1736.97,1553.79 1737.77,1554.02 1738.57,1553.23 1739.37,1552.85 1740.17,1551.41 1740.97,1551.46 1741.77,1552.61 1742.57,1554.13 1743.37,1556.46 1744.17,1556.55 1744.97,1557.8 1745.77,1558.34 1746.57,1559.54 1747.37,1561.23 1748.17,1563.88 1748.97,1566.05 1749.77,1567.59 1750.57,1569.72 1751.37,1571.67 1752.17,1573.31 1752.97,1573.35 1753.77,1574.21 1754.57,1575.22 1755.37,1575.92 1756.17,1577.38 1756.97,1577.76 1757.77,1579.45 1758.57,1583.67 1759.37,1584.96 1760.17,1586.76 1760.97,1589.43 1761.77,1590.02 1762.57,1591.09 1763.37,1593.04 1764.17,1593.39 1764.97,1593.81 1765.77,1595.87 1766.57,1597.53 1767.37,1599.38 1768.17,1600.75 1768.97,1601.14 1769.77,1601.95 1770.57,1602.97 1771.37,1604.01 1772.17,1604.83 1772.97,1606.72 1773.77,1608.06 1774.57,1606.81 1775.37,1606.34 1776.17,1607.49 1776.97,1607.96 1777.77,1607.95 1778.57,1609.73 1779.37,1610.1 1780.17,1609.57 1780.97,1610.3 1781.77,1609.85 1782.57,1610.95 1783.37,1612.37 1784.17,1611.89 1784.97,1611.45 1785.77,1611.42 1786.57,1612.82 1787.37,1613.69 1788.17,1612.68 1788.97,1612.87 1789.77,1613.91 1790.57,1613.97 1791.37,1614.71 1792.17,1616.49 1792.97,1617.5 1793.77,1616.36 1794.57,1616.3 1795.37,1617.54 1796.17,1617.28 1796.97,1617.51 1797.77,1618.12 1798.57,1618.01 1799.37,1618.59 1800.17,1618.58 1800.97,1618.04 1801.77,1617.3 1802.57,1616.18 1803.37,1616.56 1804.17,1617.55 1804.97,1617.74 1805.77,1618.56 1806.57,1619.87 1807.37,1620.44 1808.17,1620.95 1808.97,1620.18 1809.77,1619.69 1810.57,1620.06 1811.37,1620.22 1812.17,1620.07 1812.97,1620.31 1813.77,1622.43 1814.57,1623.17 1815.37,1623.08 1816.17,1622.58 1816.97,1622.25 1817.77,1623.15 1818.57,1622.97 1819.37,1622.62 1820.17,1621.76 1820.97,1622.4 1821.77,1623.29 1822.57,1622.72 1823.37,1622.39 1824.17,1622.89 1824.97,1623.9 1825.77,1625.7 1826.57,1624.96 1827.37,1624.36 1828.17,1625.8 1828.97,1627.36 1829.77,1627.17 1830.57,1624.73 1831.37,1625.21 1832.17,1627.36 1832.97,1626.99 1833.77,1626.63 1834.57,1627.07 1835.37,1626.64 1836.17,1626.99 1836.97,1627.82 1837.77,1628.08 1838.57,1627.05 1839.37,1627.02 1840.17,1627.9 1840.97,1628.36 1841.77,1629.64 1842.57,1628.85 1843.37,1628.57 1844.17,1629.26 1844.97,1629.16 1845.77,1629.45 1846.57,1628.1 1847.37,1629.11 1848.17,1630.11 1848.97,1629.46 1849.77,1629.37 1850.57,1630.22 1851.37,1630.5 1852.17,1631.05 1852.97,1630.95 1853.77,1629.39 1854.57,1629.73 1855.37,1629.84 1856.17,1630.29 1856.97,1630.74 1857.77,1629.79 1858.57,1630.73 1859.37,1631.46 1860.17,1631.21 1860.97,1630.54 1861.77,1629.51 1862.57,1631.27 1863.37,1632.68 1864.17,1630.94 1864.97,1629.89 1865.77,1630 1866.57,1630.66 1867.37,1631.48 1868.17,1630.26 1868.97,1629.68 1869.77,1630.33 1870.57,1630.5 1871.37,1630.77 1872.17,1631.13 1872.97,1630.59 1873.77,1630.78 1874.57,1629.97 1875.37,1630.22 1876.17,1631.28 1876.97,1631.39 1877.77,1632 1878.57,1632.06 1879.37,1630.76 1880.17,1630.09 1880.97,1630.12 1881.77,1630.31 1882.57,1631.36 1883.37,1632.54 1884.17,1630.61 1884.97,1628.79 1885.77,1630.37 1886.57,1630.15 1887.37,1631.3 1888.17,1633.1 1888.97,1632.12 1889.77,1631.32 1890.57,1631.81 1891.37,1631.9 1892.17,1631.02 1892.97,1630.79 1893.77,1632.23 1894.57,1632.32 1895.37,1632.34 1896.17,1633.26 1896.97,1632.38 1897.77,1631.9 1898.57,1631.63 1899.37,1631.58 1900.17,1632.59 1900.97,1633.29 1901.77,1633.22 1902.57,1632.63 1903.37,1632.52 1904.17,1632.68 1904.97,1631.61 1905.77,1631.54 1906.57,1633.78 1907.37,1632.88 1908.17,1631.74 1908.97,1632.61 1909.77,1633.08 1910.57,1632.3 1911.37,1631.57 1912.17,1632.84 1912.97,1632.69 1913.77,1632.66 1914.57,1632.56 1915.37,1630.64 1916.17,1631.03 1916.97,1632.02 1917.77,1632.57 1918.57,1633.38 1919.37,1633.51 1920.17,1633.82 1920.97,1634.09 1921.77,1632.94 1922.57,1633.07 1923.37,1635.21 1924.17,1633.71 1924.97,1632.2 1925.77,1632.71 1926.57,1632.61 1927.37,1634.26 1928.17,1634.09 1928.97,1633.19 1929.77,1633.6 1930.57,1633.14 1931.37,1633.17 1932.17,1633.6 1932.97,1634.06 1933.77,1633.02 1934.57,1633.37 1935.37,1634.59 1936.17,1634.39 1936.97,1633.98 1937.77,1634.53 1938.57,1635.1 1939.37,1634.25 1940.17,1633.32 1940.97,1633.96 1941.77,1635.32 1942.57,1634.69 1943.37,1633.82 1944.17,1632.66 1944.97,1633.65 1945.77,1632.53 1946.57,1630.93 1947.37,1631.75 1948.17,1631 1948.97,1629.95 1949.77,1630.45 1950.57,1630.77 1951.37,1629.44 1952.17,1629.78 1952.97,1628.87 1953.77,1628.77 1954.57,1629.54 1955.37,1627.51" fill="none" stroke="#224a8c" stroke-width="3.9" stroke-linejoin="round" stroke-linecap="round" />
<line x1="1514.6" y1="1670.2" x2="1514.6" y2="1678.2" stroke="#000" stroke-width="3.4" />
<line x1="1588.27" y1="1670.2" x2="1588.27" y2="1678.2" stroke="#000" stroke-width="3.4" />
<line x1="1661.94" y1="1670.2" x2="1661.94" y2="1678.2" stroke="#000" stroke-width="3.4" />
<line x1="1735.61" y1="1670.2" x2="1735.61" y2="1678.2" stroke="#000" stroke-width="3.4" />
<line x1="1809.28" y1="1670.2" x2="1809.28" y2="1678.2" stroke="#000" stroke-width="3.4" />
<line x1="1882.95" y1="1670.2" x2="1882.95" y2="1678.2" stroke="#000" stroke-width="3.4" />
<line x1="1956.63" y1="1670.2" x2="1956.63" y2="1678.2" stroke="#000" stroke-width="3.4" />
<line x1="1551.44" y1="1670.2" x2="1551.44" y2="1674.7" stroke="#000" stroke-width="3.4" />
<line x1="1625.11" y1="1670.2" x2="1625.11" y2="1674.7" stroke="#000" stroke-width="3.4" />
<line x1="1698.78" y1="1670.2" x2="1698.78" y2="1674.7" stroke="#000" stroke-width="3.4" />
<line x1="1772.45" y1="1670.2" x2="1772.45" y2="1674.7" stroke="#000" stroke-width="3.4" />
<line x1="1846.12" y1="1670.2" x2="1846.12" y2="1674.7" stroke="#000" stroke-width="3.4" />
<line x1="1919.79" y1="1670.2" x2="1919.79" y2="1674.7" stroke="#000" stroke-width="3.4" />
<line x1="1506.2" y1="1650.1" x2="1514.2" y2="1650.1" stroke="#000" stroke-width="3.4" />
<line x1="1506.2" y1="1524.1" x2="1514.2" y2="1524.1" stroke="#000" stroke-width="3.4" />
<line x1="1506.2" y1="1398.1" x2="1514.2" y2="1398.1" stroke="#000" stroke-width="3.4" />
<line x1="1506.2" y1="1272.1" x2="1514.2" y2="1272.1" stroke="#000" stroke-width="3.4" />
<line x1="1509.7" y1="1587.1" x2="1514.2" y2="1587.1" stroke="#000" stroke-width="3.4" />
<line x1="1509.7" y1="1461.1" x2="1514.2" y2="1461.1" stroke="#000" stroke-width="3.4" />
<line x1="1509.7" y1="1335.1" x2="1514.2" y2="1335.1" stroke="#000" stroke-width="3.4" />
<rect x="1514.2" y="1230.2" width="442.8" height="440" fill="none" stroke="#000" stroke-width="4.4"/>
<text x="1514.6" y="1711.5" font-size="34" font-family="'Liberation Sans', Arial, Helvetica, sans-serif" font-weight="bold" fill="#000" text-anchor="middle">0</text>
<text x="1588.27" y="1711.5" font-size="34" font-family="'Liberation Sans', Arial, Helvetica, sans-serif" font-weight="bold" fill="#000" text-anchor="middle">30</text>
<text x="1661.94" y="1711.5" font-size="34" font-family="'Liberation Sans', Arial, Helvetica, sans-serif" font-weight="bold" fill="#000" text-anchor="middle">60</text>
<text x="1735.61" y="1711.5" font-size="34" font-family="'Liberation Sans', Arial, Helvetica, sans-serif" font-weight="bold" fill="#000" text-anchor="middle">90</text>
<text x="1809.28" y="1711.5" font-size="34" font-family="'Liberation Sans', Arial, Helvetica, sans-serif" font-weight="bold" fill="#000" text-anchor="middle">120</text>
<text x="1882.95" y="1711.5" font-size="34" font-family="'Liberation Sans', Arial, Helvetica, sans-serif" font-weight="bold" fill="#000" text-anchor="middle">150</text>
<text x="1956.63" y="1711.5" font-size="34" font-family="'Liberation Sans', Arial, Helvetica, sans-serif" font-weight="bold" fill="#000" text-anchor="middle">180</text>
<text x="1500" y="1659.6" font-size="27" font-family="'Liberation Sans', Arial, Helvetica, sans-serif" font-weight="bold" fill="#000" text-anchor="end">0.0</text>
<text x="1500" y="1533.6" font-size="27" font-family="'Liberation Sans', Arial, Helvetica, sans-serif" font-weight="bold" fill="#000" text-anchor="end">3.0k</text>
<text x="1500" y="1407.6" font-size="27" font-family="'Liberation Sans', Arial, Helvetica, sans-serif" font-weight="bold" fill="#000" text-anchor="end">6.0k</text>
<text x="1500" y="1281.6" font-size="27" font-family="'Liberation Sans', Arial, Helvetica, sans-serif" font-weight="bold" fill="#000" text-anchor="end">9.0k</text>
<text x="1638" y="1755" font-size="35" font-family="'Liberation Sans', Arial, Helvetica, sans-serif" font-weight="bold" fill="#000" textLength="194" lengthAdjust="spacingAndGlyphs">Azimuth (°)</text>
<text x="1443.5" y="1586.5" font-size="39" font-family="'Liberation Sans', Arial, Helvetica, sans-serif" font-weight="bold" fill="#000" transform="rotate(-90 1443.5 1586.5)" textLength="306" lengthAdjust="spacingAndGlyphs">Intensity (counts)</text>
<line x1="1528" y1="1263" x2="1593" y2="1263" stroke="#f0821e" stroke-width="3.6" stroke-linecap="round"/>
<line x1="1528" y1="1300" x2="1593" y2="1300" stroke="#224a8c" stroke-width="3.6" stroke-linecap="round"/>
<text x="1602" y="1272.8" font-size="27.5" font-family="'Liberation Sans', Arial, Helvetica, sans-serif" font-weight="bold" fill="#f0821e" textLength="255" lengthAdjust="spacingAndGlyphs">PEASCN-FAHCOO</text>
<text x="1602" y="1310" font-size="27.5" font-family="'Liberation Sans', Arial, Helvetica, sans-serif" font-weight="bold" fill="#224a8c" textLength="65.5" lengthAdjust="spacingAndGlyphs">PEAI</text>
</g>
<g id="panel-c">
<text x="9" y="653.3" font-size="51" font-family="'Liberation Serif', 'Times New Roman', Times, serif" font-weight="bold" fill="#000">c</text>
<rect x="106.6" y="645.7" width="450.3" height="450.9" fill="#09004f"/>
<g clip-path="url(#hfC)">
<g clip-path="url(#hcC)">
<rect x="106.6" y="645.7" width="450.3" height="450.9" fill="#1f06fb"/>
<rect x="455" y="645.7" width="101.9" height="450.9" fill="url(#hrC)"/>
<rect x="106.6" y="645.7" width="450.3" height="450.9" fill="url(#hgC)"/>
<rect x="106.6" y="971" width="32" height="112" fill="url(#hlC)" opacity="1"/>
<rect x="106.6" y="880" width="32" height="82" fill="url(#hlC)" opacity="0.3"/>
<ellipse cx="349.3" cy="654.5" rx="2.2" ry="2.2" fill="#e8e6ff" opacity="1" filter="url(#bl1)"/>
<ellipse cx="349.3" cy="662.3" rx="2.2" ry="2.4" fill="#e8e6ff" opacity="1" filter="url(#bl1)"/>
<ellipse cx="348.5" cy="685.8" rx="4.6" ry="4.4" fill="#f4f0ff" filter="url(#bl1)"/><ellipse cx="348.5" cy="685.8" rx="3" ry="2.8" fill="#ea2a18" filter="url(#bl06)"/><ellipse cx="348.5" cy="685.8" rx="1.8" ry="1.6" fill="#8e1410" filter="url(#bl06)"/>
<ellipse cx="347" cy="708.8" rx="1.8" ry="1.8" fill="#e8e6ff" opacity="0.6" filter="url(#bl1)"/>
<ellipse cx="345.5" cy="772.5" rx="1.8" ry="1.8" fill="#e8e6ff" opacity="0.6" filter="url(#bl1)"/>
<ellipse cx="345.3" cy="781.5" rx="1.5" ry="1.5" fill="#e8e6ff" opacity="0.45" filter="url(#bl1)"/>
<ellipse cx="344.8" cy="813.8" rx="1.6" ry="1.6" fill="#e8e6ff" opacity="0.6" filter="url(#bl1)"/>
<ellipse cx="342.7" cy="878" rx="1.8" ry="1.8" fill="#e8e6ff" opacity="0.65" filter="url(#bl1)"/>
<ellipse cx="342.4" cy="942.8" rx="2" ry="2.2" fill="#e8e6ff" opacity="1" filter="url(#bl1)"/>
<circle cx="342.4" cy="942.8" r="1.1" fill="#f03020"/>
<ellipse cx="341.5" cy="976" rx="1.5" ry="2.4" fill="#e8e6ff" opacity="0.5" filter="url(#bl1)"/>
<ellipse cx="341.5" cy="984.5" rx="1.5" ry="2" fill="#e8e6ff" opacity="0.5" filter="url(#bl1)"/>
<ellipse cx="341.2" cy="1007.8" rx="1.5" ry="1.8" fill="#e8e6ff" opacity="0.5" filter="url(#bl1)"/>
<ellipse cx="340.8" cy="1042" rx="1.4" ry="14" fill="#8c8cff" opacity="0.7" filter="url(#bl1)"/>
<ellipse cx="340.8" cy="1039.5" rx="1.6" ry="1.6" fill="#e8e6ff" opacity="0.9" filter="url(#bl1)"/>
<ellipse cx="340.8" cy="1048.5" rx="1.6" ry="2.2" fill="#e8e6ff" opacity="0.9" filter="url(#bl1)"/>
<circle cx="340.6" cy="1048.2" r="0.9" fill="#f03020"/>
<ellipse cx="441" cy="816" rx="2" ry="3.4" fill="#e8e6ff" opacity="1" filter="url(#bl1)"/>
<ellipse cx="442" cy="824.5" rx="2.2" ry="2.6" fill="#e8e6ff" opacity="1" filter="url(#bl1)"/>
<circle cx="442" cy="823" r="0.9" fill="#f03020"/>
<ellipse cx="441" cy="848" rx="1.7" ry="2" fill="#e8e6ff" opacity="0.7" filter="url(#bl1)"/>
<ellipse cx="439.3" cy="880" rx="4.6" ry="13.6" fill="#f4f0ff" filter="url(#bl1)"/><ellipse cx="439.3" cy="880" rx="3" ry="12" fill="#ea2a18" filter="url(#bl06)"/><ellipse cx="439.3" cy="880" rx="1.8" ry="10.8" fill="#8e1410" filter="url(#bl06)"/>
<ellipse cx="439.3" cy="898" rx="1.2" ry="6" fill="#e8e6ff" opacity="0.5" filter="url(#bl1)"/>
<ellipse cx="439.3" cy="912" rx="1.6" ry="2" fill="#e8e6ff" opacity="0.6" filter="url(#bl1)"/>
<ellipse cx="438.8" cy="938.5" rx="1.8" ry="5.5" fill="#e8e6ff" opacity="0.9" filter="url(#bl1)"/>
<ellipse cx="438.5" cy="1008" rx="1.4" ry="3" fill="#e8e6ff" opacity="0.45" filter="url(#bl1)"/>
<ellipse cx="438.3" cy="1022" rx="1.2" ry="2" fill="#e8e6ff" opacity="0.3" filter="url(#bl1)"/>
<ellipse cx="478.5" cy="885" rx="1" ry="18" fill="#8c8cff" opacity="0.55" filter="url(#bl1)"/>
<ellipse cx="478.5" cy="850" rx="0.9" ry="2.5" fill="#e8e6ff" opacity="0.4" filter="url(#bl1)"/>
<ellipse cx="131.5" cy="873.5" rx="9" ry="1" fill="#e8e6ff" opacity="0.85" filter="url(#bl1)" transform="rotate(8 131.5 873.5)"/>
<ellipse cx="123.5" cy="908" rx="5" ry="1.2" fill="#e8e6ff" opacity="0.9" filter="url(#bl1)" transform="rotate(5 123.5 908)"/>
<circle cx="122.5" cy="908" r="1.2" fill="#f03020"/>
<ellipse cx="114.5" cy="973" rx="6" ry="1.4" fill="#e8e6ff" opacity="1" filter="url(#bl1)" transform="rotate(6 114.5 973)"/>
<circle cx="112.8" cy="972.6" r="1.4" fill="#f03020"/>
<ellipse cx="109" cy="1040" rx="2.6" ry="22" fill="#e8e6ff" opacity="0.9" filter="url(#bl1)"/>
<path d="M107 1010 L109.6 1012 L109.4 1030 L112.6 1038.5 L109.6 1042 L109.2 1052 L107 1052 Z" fill="#c42014" filter="url(#bl06)"/>
<ellipse cx="114.5" cy="1038.8" rx="6" ry="1.2" fill="#e8e6ff" opacity="0.9" filter="url(#bl1)" transform="rotate(4 114.5 1038.8)"/>
<ellipse cx="108" cy="1079" rx="3" ry="3" fill="#e8e6ff" opacity="0.45" filter="url(#bl1)"/>
</g>
<path d="M126 1093.2 L524 1093.2" stroke="#2410ee" stroke-width="3" stroke-linecap="round" opacity="0.95"/>
<path d="M150 739.6 C152.08 739.67 150.83 739.68 162.5 740 C174.17 740.32 202.08 740.97 220 741.5 C237.92 742.03 250 742.32 270 743.2 C290 744.08 313.33 745.17 340 746.8 C366.67 748.43 398.33 750.55 430 753 C461.67 755.45 513.33 760.08 530 761.5" fill="none" stroke="#09004f" stroke-width="8"/>
<path d="M120 848.4 C122 848.43 118.67 848.43 132 848.6 C145.33 848.77 177.67 849.07 200 849.4 C222.33 849.73 242.67 849.87 266 850.6 C289.33 851.33 312.67 852.47 340 853.8 C367.33 855.13 397.5 856.73 430 858.6 C462.5 860.47 517.5 863.93 535 865" fill="none" stroke="#09004f" stroke-width="8.6"/>
<path d="M100 966.5 C116.67 966.5 172.33 966.48 200 966.5 C227.67 966.52 242.67 966.32 266 966.6 C289.33 966.88 312.67 967.53 340 968.2 C367.33 968.87 397.5 969.63 430 970.6 C462.5 971.57 517.5 973.43 535 974" fill="none" stroke="#09004f" stroke-width="8.8"/>
<path d="M100 1087.4 C173.33 1087.4 466.67 1087.4 540 1087.4" fill="none" stroke="#09004f" stroke-width="9.6"/>
<path d="M283 643 C282.87 644.17 283.12 643.83 282.2 650 C281.28 656.17 278.95 669.67 277.5 680 C276.05 690.33 274.58 702 273.5 712 C272.42 722 271.83 728.67 271 740 C270.17 751.33 269.23 762.33 268.5 780 C267.77 797.67 267.05 826 266.6 846 C266.15 866 265.95 874.33 265.8 900 C265.65 925.67 265.72 967 265.7 1000 C265.68 1033 265.7 1081.67 265.7 1098" fill="none" stroke="#09004f" stroke-width="3"/>
</g>
<line x1="90.1" y1="1096.6" x2="106.6" y2="1096.6" stroke="#000" stroke-width="3.6" />
<line x1="106.6" y1="1096.6" x2="106.6" y2="1113.6" stroke="#000" stroke-width="3.6" />
<line x1="97.2" y1="1074.05" x2="106.6" y2="1074.05" stroke="#000" stroke-width="3.6" />
<line x1="129.05" y1="1096.6" x2="129.05" y2="1105.6" stroke="#000" stroke-width="3.6" />
<line x1="97.2" y1="1051.51" x2="106.6" y2="1051.51" stroke="#000" stroke-width="3.6" />
<line x1="151.5" y1="1096.6" x2="151.5" y2="1105.6" stroke="#000" stroke-width="3.6" />
<line x1="97.2" y1="1028.96" x2="106.6" y2="1028.96" stroke="#000" stroke-width="3.6" />
<line x1="173.95" y1="1096.6" x2="173.95" y2="1105.6" stroke="#000" stroke-width="3.6" />
<line x1="97.2" y1="1006.42" x2="106.6" y2="1006.42" stroke="#000" stroke-width="3.6" />
<line x1="196.4" y1="1096.6" x2="196.4" y2="1105.6" stroke="#000" stroke-width="3.6" />
<line x1="90.1" y1="983.88" x2="106.6" y2="983.88" stroke="#000" stroke-width="3.6" />
<line x1="218.85" y1="1096.6" x2="218.85" y2="1113.6" stroke="#000" stroke-width="3.6" />
<line x1="97.2" y1="961.33" x2="106.6" y2="961.33" stroke="#000" stroke-width="3.6" />
<line x1="241.3" y1="1096.6" x2="241.3" y2="1105.6" stroke="#000" stroke-width="3.6" />
<line x1="97.2" y1="938.78" x2="106.6" y2="938.78" stroke="#000" stroke-width="3.6" />
<line x1="263.75" y1="1096.6" x2="263.75" y2="1105.6" stroke="#000" stroke-width="3.6" />
<line x1="97.2" y1="916.24" x2="106.6" y2="916.24" stroke="#000" stroke-width="3.6" />
<line x1="286.2" y1="1096.6" x2="286.2" y2="1105.6" stroke="#000" stroke-width="3.6" />
<line x1="97.2" y1="893.69" x2="106.6" y2="893.69" stroke="#000" stroke-width="3.6" />
<line x1="308.65" y1="1096.6" x2="308.65" y2="1105.6" stroke="#000" stroke-width="3.6" />
<line x1="90.1" y1="871.15" x2="106.6" y2="871.15" stroke="#000" stroke-width="3.6" />
<line x1="331.1" y1="1096.6" x2="331.1" y2="1113.6" stroke="#000" stroke-width="3.6" />
<line x1="97.2" y1="848.61" x2="106.6" y2="848.61" stroke="#000" stroke-width="3.6" />
<line x1="353.55" y1="1096.6" x2="353.55" y2="1105.6" stroke="#000" stroke-width="3.6" />
<line x1="97.2" y1="826.06" x2="106.6" y2="826.06" stroke="#000" stroke-width="3.6" />
<line x1="376" y1="1096.6" x2="376" y2="1105.6" stroke="#000" stroke-width="3.6" />
<line x1="97.2" y1="803.51" x2="106.6" y2="803.51" stroke="#000" stroke-width="3.6" />
<line x1="398.45" y1="1096.6" x2="398.45" y2="1105.6" stroke="#000" stroke-width="3.6" />
<line x1="97.2" y1="780.97" x2="106.6" y2="780.97" stroke="#000" stroke-width="3.6" />
<line x1="420.9" y1="1096.6" x2="420.9" y2="1105.6" stroke="#000" stroke-width="3.6" />
<line x1="93.2" y1="758.42" x2="106.6" y2="758.42" stroke="#000" stroke-width="3.6" />
<line x1="443.35" y1="1096.6" x2="443.35" y2="1113.6" stroke="#000" stroke-width="3.6" />
<line x1="97.2" y1="735.88" x2="106.6" y2="735.88" stroke="#000" stroke-width="3.6" />
<line x1="465.8" y1="1096.6" x2="465.8" y2="1105.6" stroke="#000" stroke-width="3.6" />
<line x1="97.2" y1="713.34" x2="106.6" y2="713.34" stroke="#000" stroke-width="3.6" />
<line x1="488.25" y1="1096.6" x2="488.25" y2="1105.6" stroke="#000" stroke-width="3.6" />
<line x1="97.2" y1="690.79" x2="106.6" y2="690.79" stroke="#000" stroke-width="3.6" />
<line x1="510.7" y1="1096.6" x2="510.7" y2="1105.6" stroke="#000" stroke-width="3.6" />
<line x1="97.2" y1="668.25" x2="106.6" y2="668.25" stroke="#000" stroke-width="3.6" />
<line x1="533.15" y1="1096.6" x2="533.15" y2="1105.6" stroke="#000" stroke-width="3.6" />
<line x1="94.4" y1="645.7" x2="106.6" y2="645.7" stroke="#000" stroke-width="3.6" />
<line x1="555.6" y1="1096.6" x2="555.6" y2="1113.6" stroke="#000" stroke-width="3.6" />
<rect x="106.6" y="645.7" width="450.3" height="450.9" fill="none" stroke="#000" stroke-width="3.8"/>
<text x="78.5" y="662.5" font-size="29" font-family="'Liberation Sans', Arial, Helvetica, sans-serif" font-weight="bold" fill="#000" text-anchor="end" textLength="39" lengthAdjust="spacingAndGlyphs">2.0</text>
<text x="78.5" y="773.5" font-size="29" font-family="'Liberation Sans', Arial, Helvetica, sans-serif" font-weight="bold" fill="#000" text-anchor="end" textLength="39" lengthAdjust="spacingAndGlyphs">1.5</text>
<text x="78.5" y="885" font-size="29" font-family="'Liberation Sans', Arial, Helvetica, sans-serif" font-weight="bold" fill="#000" text-anchor="end" textLength="39" lengthAdjust="spacingAndGlyphs">1.0</text>
<text x="78.5" y="996" font-size="29" font-family="'Liberation Sans', Arial, Helvetica, sans-serif" font-weight="bold" fill="#000" text-anchor="end" textLength="39" lengthAdjust="spacingAndGlyphs">0.5</text>
<text x="78.5" y="1106.1" font-size="29" font-family="'Liberation Sans', Arial, Helvetica, sans-serif" font-weight="bold" fill="#000" text-anchor="end" textLength="39" lengthAdjust="spacingAndGlyphs">0.0</text>
<text x="117" y="1153.8" font-size="29" font-family="'Liberation Sans', Arial, Helvetica, sans-serif" font-weight="bold" fill="#000" text-anchor="middle" textLength="39" lengthAdjust="spacingAndGlyphs">0.0</text>
<text x="224.5" y="1153.8" font-size="29" font-family="'Liberation Sans', Arial, Helvetica, sans-serif" font-weight="bold" fill="#000" text-anchor="middle" textLength="39" lengthAdjust="spacingAndGlyphs">0.5</text>
<text x="336.8" y="1153.8" font-size="29" font-family="'Liberation Sans', Arial, Helvetica, sans-serif" font-weight="bold" fill="#000" text-anchor="middle" textLength="39" lengthAdjust="spacingAndGlyphs">1.0</text>
<text x="446.7" y="1153.8" font-size="29" font-family="'Liberation Sans', Arial, Helvetica, sans-serif" font-weight="bold" fill="#000" text-anchor="middle" textLength="39" lengthAdjust="spacingAndGlyphs">1.5</text>
<text x="551.2" y="1153.8" font-size="29" font-family="'Liberation Sans', Arial, Helvetica, sans-serif" font-weight="bold" fill="#000" text-anchor="middle" textLength="39" lengthAdjust="spacingAndGlyphs">2.0</text>
<text x="291" y="1200" font-size="26" font-family="'Liberation Sans', Arial, Helvetica, sans-serif" font-weight="bold" fill="#000"><tspan font-style="italic">q</tspan><tspan font-size="18.72" dy="5.2">xy</tspan><tspan dy="-5.2">&#8203;</tspan> (Å<tspan font-size="18.72" dy="-8.32">-1</tspan><tspan dy="8.32">&#8203;</tspan>)</text>
<text x="30" y="926" font-size="26" font-family="'Liberation Sans', Arial, Helvetica, sans-serif" font-weight="bold" fill="#000" transform="rotate(-90 30 926)"><tspan font-style="italic">q</tspan><tspan font-size="18.72" dy="5.2">z</tspan><tspan dy="-5.2">&#8203;</tspan> (Å<tspan font-size="18.72" dy="-8.32">-1</tspan><tspan dy="8.32">&#8203;</tspan>)</text>
<rect x="574.4" y="656.8" width="16.6" height="421.9" fill="url(#cbC)" stroke="#000" stroke-width="1.6"/>
<line x1="583" y1="727.6" x2="591" y2="727.6" stroke="#000" stroke-width="2.6" />
<line x1="583" y1="797.8" x2="591" y2="797.8" stroke="#000" stroke-width="2.6" />
<line x1="583" y1="868" x2="591" y2="868" stroke="#000" stroke-width="2.6" />
<line x1="583" y1="938.2" x2="591" y2="938.2" stroke="#000" stroke-width="2.6" />
<line x1="583" y1="1008.4" x2="591" y2="1008.4" stroke="#000" stroke-width="2.6" />
<text x="601.7" y="667" font-size="28.5" font-family="'Liberation Sans', Arial, Helvetica, sans-serif" font-weight="bold" fill="#000" textLength="38.6" lengthAdjust="spacingAndGlyphs">4.0</text>
<text x="603" y="733.8" font-size="28.5" font-family="'Liberation Sans', Arial, Helvetica, sans-serif" font-weight="bold" fill="#000" textLength="38.6" lengthAdjust="spacingAndGlyphs">3.5</text>
<text x="605.8" y="809.1" font-size="28.5" font-family="'Liberation Sans', Arial, Helvetica, sans-serif" font-weight="bold" fill="#000" textLength="38.6" lengthAdjust="spacingAndGlyphs">3.0</text>
<text x="605.1" y="877.8" font-size="28.5" font-family="'Liberation Sans', Arial, Helvetica, sans-serif" font-weight="bold" fill="#000" textLength="38.6" lengthAdjust="spacingAndGlyphs">2.5</text>
<text x="605.1" y="950.8" font-size="28.5" font-family="'Liberation Sans', Arial, Helvetica, sans-serif" font-weight="bold" fill="#000" textLength="38.6" lengthAdjust="spacingAndGlyphs">2.0</text>
<text x="602.4" y="1019.3" font-size="28.5" font-family="'Liberation Sans', Arial, Helvetica, sans-serif" font-weight="bold" fill="#000" textLength="38.6" lengthAdjust="spacingAndGlyphs">1.5</text>
<text x="602.4" y="1085.8" font-size="28.5" font-family="'Liberation Sans', Arial, Helvetica, sans-serif" font-weight="bold" fill="#000" textLength="38.6" lengthAdjust="spacingAndGlyphs">1.0</text>
<text x="660.8" y="675.2" font-size="28.2" font-family="'Liberation Sans', Arial, Helvetica, sans-serif" font-weight="bold" fill="#000" transform="rotate(90 660.8 675.2)" textLength="370" lengthAdjust="spacingAndGlyphs">Log[ Intensity (arb. Units.)]</text>
<text x="151.5" y="888.6" font-size="37" font-family="'Liberation Serif', 'Times New Roman', Times, serif" font-weight="bold" fill="#fff" textLength="105" lengthAdjust="spacingAndGlyphs">(100)<tspan font-size="22.5" dy="4.8">3D</tspan><tspan dy="-4.8">&#8203;</tspan></text>
<text x="151.5" y="926.2" font-size="37" font-family="'Liberation Serif', 'Times New Roman', Times, serif" font-weight="bold" fill="#fff" textLength="104" lengthAdjust="spacingAndGlyphs">(006)<tspan font-size="22.5" dy="4.8">2L</tspan><tspan dy="-4.8">&#8203;</tspan></text>
<text x="151.5" y="988.2" font-size="37" font-family="'Liberation Serif', 'Times New Roman', Times, serif" font-weight="bold" fill="#fff" textLength="104" lengthAdjust="spacingAndGlyphs">(004)<tspan font-size="22.5" dy="4.8">2L</tspan><tspan dy="-4.8">&#8203;</tspan></text>
<text x="151.5" y="1052.4" font-size="37" font-family="'Liberation Serif', 'Times New Roman', Times, serif" font-weight="bold" fill="#fff" textLength="104" lengthAdjust="spacingAndGlyphs">(002)<tspan font-size="22.5" dy="4.8">2L</tspan><tspan dy="-4.8">&#8203;</tspan></text>
<text x="366" y="1005" font-size="33.5" font-family="'Liberation Serif', 'Times New Roman', Times, serif" font-weight="bold" fill="#fff" textLength="101" lengthAdjust="spacingAndGlyphs">Before</text>
<text x="346" y="1049" font-size="33.5" font-family="'Liberation Serif', 'Times New Roman', Times, serif" font-weight="bold" fill="#fff" textLength="149" lengthAdjust="spacingAndGlyphs">annealing</text>
</g>
<g id="panel-d">
<text x="691" y="653.5" font-size="50" font-family="'Liberation Serif', 'Times New Roman', Times, serif" font-weight="bold" fill="#000">d</text>
<rect x="826.5" y="656.7" width="438.7" height="439.9" fill="#09004f"/>
<g clip-path="url(#hfD)">
<g clip-path="url(#hcD)">
<rect x="826.5" y="656.7" width="438.7" height="439.9" fill="#1f06fb"/>
<rect x="1165" y="656.7" width="100.2" height="439.9" fill="url(#hrD)"/>
<rect x="826.5" y="656.7" width="438.7" height="439.9" fill="url(#hgD)"/>
<rect x="826.5" y="972" width="32" height="111" fill="url(#hlD)" opacity="1"/>
<rect x="826.5" y="890" width="32" height="75" fill="url(#hlD)" opacity="0.45"/>
<path d="M912.5 658.5 L932 663 L962 674 L934 668.5 L911 665.5 Z" fill="#f0eeff" filter="url(#bl1)"/>
<path d="M913 659.5 L927 663.5 L912.5 664.6 Z" fill="#f02818" filter="url(#bl06)"/>
<path d="M1062 661 Q1076 666 1088 675" stroke="#e6e4ff" stroke-width="1.8" fill="none" filter="url(#bl1)" opacity="0.9"/>
<path d="M1088 675 Q1100 684 1112 698" stroke="#8a88ff" stroke-width="1.4" fill="none" filter="url(#bl1)" opacity="0.6"/>
<path d="M846 871 L870 877 L902 889.6 L872 885 L845 886.5 Z" fill="#f4f2ff" filter="url(#bl1)"/>
<path d="M846.5 874 L860 876.4 L877 881.4 L860 883.4 L846 883.8 Z" fill="#d82016" filter="url(#bl06)"/>
<path d="M847 876 L858 878 L868 880.6 L858 882 L847 882.3 Z" fill="#8e1410" filter="url(#bl06)"/>
<path d="M1100 824 Q1116 841 1131 859" stroke="#e8e6ff" stroke-width="2" fill="none" filter="url(#bl1)" opacity="0.85"/>
<path d="M1135 866 L1141 869 L1153 886 L1163 906 L1174 928 L1158 905 L1147 890 L1138 876 Z" fill="#f6f4ff" filter="url(#bl1)"/>
<path d="M1137 867.5 L1142 870.5 L1150 882 L1157 895.5 L1151 890 L1143 879 Z" fill="#d42016" filter="url(#bl06)"/>
<path d="M1139.5 871 L1148 882 L1153 890 L1147 884.5 Z" fill="#8e1410" filter="url(#bl06)"/>
<path d="M1174 928 Q1182 945 1187 962" stroke="#7a78ff" stroke-width="1.4" fill="none" filter="url(#bl1)" opacity="0.5"/>
<path d="M1041 1029 Q1045 1042 1047.4 1056" stroke="#a8a6ff" stroke-width="1.6" fill="none" filter="url(#bl1)" opacity="0.75"/>
<ellipse cx="1047.2" cy="1055.5" rx="1.4" ry="1.6" fill="#e8e6ff" opacity="0.7" filter="url(#bl1)"/>
<path d="M1049 874 Q1054 878 1058 885" stroke="#7a78ff" stroke-width="1.4" fill="none" filter="url(#bl1)" opacity="0.6"/>
<ellipse cx="829.5" cy="1050" rx="2.2" ry="16" fill="#e8e6ff" opacity="0.8" filter="url(#bl1)"/>
<ellipse cx="831.5" cy="1055" rx="4.5" ry="1.4" fill="#e8e6ff" opacity="1" filter="url(#bl1)"/>
<circle cx="828.6" cy="1055" r="1.7" fill="#e02818"/>
<ellipse cx="829" cy="1079" rx="3" ry="3" fill="#e8e6ff" opacity="0.45" filter="url(#bl1)"/>
</g>
<path d="M846 1093 L1234 1093" stroke="#2410ee" stroke-width="3.2" stroke-linecap="round" opacity="0.95"/>
<path d="M870 748.6 C872 748.65 870.33 748.63 882 748.9 C893.67 749.17 922.5 749.72 940 750.2 C957.5 750.68 970.33 751.13 987 751.8 C1003.67 752.47 1016.17 752.8 1040 754.2 C1063.83 755.6 1096.67 757.73 1130 760.2 C1163.33 762.67 1221.67 767.53 1240 769" fill="none" stroke="#09004f" stroke-width="8.2"/>
<path d="M840 854.4 C842 854.43 838.67 854.33 852 854.6 C865.33 854.87 898.33 855.53 920 856 C941.67 856.47 962 856.83 982 857.4 C1002 857.97 1015.33 858.4 1040 859.4 C1064.67 860.4 1096.33 861.83 1130 863.4 C1163.67 864.97 1223.33 867.9 1242 868.8" fill="none" stroke="#09004f" stroke-width="8.6"/>
<path d="M820 968.7 C836.67 968.72 893 968.72 920 968.8 C947 968.88 962 968.93 982 969.2 C1002 969.47 1015.33 969.73 1040 970.4 C1064.67 971.07 1096 972.03 1130 973.2 C1164 974.37 1225 976.7 1244 977.4" fill="none" stroke="#09004f" stroke-width="8"/>
<path d="M820 1087.2 C891.67 1087.2 1178.33 1087.2 1250 1087.2" fill="none" stroke="#09004f" stroke-width="9.6"/>
<path d="M997.8 654 C997.7 655.33 998 656 997.2 662 C996.4 668 994.3 680.33 993 690 C991.7 699.67 990.3 710.33 989.4 720 C988.5 729.67 988.37 738 987.6 748 C986.83 758 985.63 762.67 984.8 780 C983.97 797.33 983.08 832 982.6 852 C982.12 872 982.03 875.33 981.9 900 C981.77 924.67 981.82 967 981.8 1000 C981.78 1033 981.8 1081.67 981.8 1098" fill="none" stroke="#09004f" stroke-width="3"/>
</g>
<line x1="810.5" y1="1096.6" x2="826.5" y2="1096.6" stroke="#000" stroke-width="3.6" />
<line x1="826.5" y1="1096.6" x2="826.5" y2="1113.6" stroke="#000" stroke-width="3.6" />
<line x1="817.5" y1="1074.61" x2="826.5" y2="1074.61" stroke="#000" stroke-width="3.6" />
<line x1="848.43" y1="1096.6" x2="848.43" y2="1105.6" stroke="#000" stroke-width="3.6" />
<line x1="817.5" y1="1052.61" x2="826.5" y2="1052.61" stroke="#000" stroke-width="3.6" />
<line x1="870.37" y1="1096.6" x2="870.37" y2="1105.6" stroke="#000" stroke-width="3.6" />
<line x1="817.5" y1="1030.62" x2="826.5" y2="1030.62" stroke="#000" stroke-width="3.6" />
<line x1="892.31" y1="1096.6" x2="892.31" y2="1105.6" stroke="#000" stroke-width="3.6" />
<line x1="817.5" y1="1008.62" x2="826.5" y2="1008.62" stroke="#000" stroke-width="3.6" />
<line x1="914.24" y1="1096.6" x2="914.24" y2="1105.6" stroke="#000" stroke-width="3.6" />
<line x1="810.5" y1="986.62" x2="826.5" y2="986.62" stroke="#000" stroke-width="3.6" />
<line x1="936.17" y1="1096.6" x2="936.17" y2="1113.6" stroke="#000" stroke-width="3.6" />
<line x1="817.5" y1="964.63" x2="826.5" y2="964.63" stroke="#000" stroke-width="3.6" />
<line x1="958.11" y1="1096.6" x2="958.11" y2="1105.6" stroke="#000" stroke-width="3.6" />
<line x1="817.5" y1="942.63" x2="826.5" y2="942.63" stroke="#000" stroke-width="3.6" />
<line x1="980.05" y1="1096.6" x2="980.05" y2="1105.6" stroke="#000" stroke-width="3.6" />
<line x1="817.5" y1="920.64" x2="826.5" y2="920.64" stroke="#000" stroke-width="3.6" />
<line x1="1001.98" y1="1096.6" x2="1001.98" y2="1105.6" stroke="#000" stroke-width="3.6" />
<line x1="817.5" y1="898.64" x2="826.5" y2="898.64" stroke="#000" stroke-width="3.6" />
<line x1="1023.91" y1="1096.6" x2="1023.91" y2="1105.6" stroke="#000" stroke-width="3.6" />
<line x1="810.5" y1="876.65" x2="826.5" y2="876.65" stroke="#000" stroke-width="3.6" />
<line x1="1045.85" y1="1096.6" x2="1045.85" y2="1113.6" stroke="#000" stroke-width="3.6" />
<line x1="817.5" y1="854.65" x2="826.5" y2="854.65" stroke="#000" stroke-width="3.6" />
<line x1="1067.79" y1="1096.6" x2="1067.79" y2="1105.6" stroke="#000" stroke-width="3.6" />
<line x1="817.5" y1="832.66" x2="826.5" y2="832.66" stroke="#000" stroke-width="3.6" />
<line x1="1089.72" y1="1096.6" x2="1089.72" y2="1105.6" stroke="#000" stroke-width="3.6" />
<line x1="817.5" y1="810.66" x2="826.5" y2="810.66" stroke="#000" stroke-width="3.6" />
<line x1="1111.65" y1="1096.6" x2="1111.65" y2="1105.6" stroke="#000" stroke-width="3.6" />
<line x1="817.5" y1="788.67" x2="826.5" y2="788.67" stroke="#000" stroke-width="3.6" />
<line x1="1133.59" y1="1096.6" x2="1133.59" y2="1105.6" stroke="#000" stroke-width="3.6" />
<line x1="810.5" y1="766.67" x2="826.5" y2="766.67" stroke="#000" stroke-width="3.6" />
<line x1="1155.53" y1="1096.6" x2="1155.53" y2="1113.6" stroke="#000" stroke-width="3.6" />
<line x1="817.5" y1="744.68" x2="826.5" y2="744.68" stroke="#000" stroke-width="3.6" />
<line x1="1177.46" y1="1096.6" x2="1177.46" y2="1105.6" stroke="#000" stroke-width="3.6" />
<line x1="817.5" y1="722.69" x2="826.5" y2="722.69" stroke="#000" stroke-width="3.6" />
<line x1="1199.39" y1="1096.6" x2="1199.39" y2="1105.6" stroke="#000" stroke-width="3.6" />
<line x1="817.5" y1="700.69" x2="826.5" y2="700.69" stroke="#000" stroke-width="3.6" />
<line x1="1221.33" y1="1096.6" x2="1221.33" y2="1105.6" stroke="#000" stroke-width="3.6" />
<line x1="817.5" y1="678.7" x2="826.5" y2="678.7" stroke="#000" stroke-width="3.6" />
<line x1="1243.27" y1="1096.6" x2="1243.27" y2="1105.6" stroke="#000" stroke-width="3.6" />
<line x1="810.5" y1="656.7" x2="826.5" y2="656.7" stroke="#000" stroke-width="3.6" />
<line x1="1265.2" y1="1096.6" x2="1265.2" y2="1113.6" stroke="#000" stroke-width="3.6" />
<rect x="826.5" y="656.7" width="438.7" height="439.9" fill="none" stroke="#000" stroke-width="3.8"/>
<text x="793.5" y="673.6" font-size="29" font-family="'Liberation Sans', Arial, Helvetica, sans-serif" font-weight="bold" fill="#000" text-anchor="end" textLength="38.5" lengthAdjust="spacingAndGlyphs">2.0</text>
<text x="793.5" y="781.9" font-size="29" font-family="'Liberation Sans', Arial, Helvetica, sans-serif" font-weight="bold" fill="#000" text-anchor="end" textLength="38.5" lengthAdjust="spacingAndGlyphs">1.5</text>
<text x="793.5" y="890.9" font-size="29" font-family="'Liberation Sans', Arial, Helvetica, sans-serif" font-weight="bold" fill="#000" text-anchor="end" textLength="38.5" lengthAdjust="spacingAndGlyphs">1.0</text>
<text x="793.5" y="999.9" font-size="29" font-family="'Liberation Sans', Arial, Helvetica, sans-serif" font-weight="bold" fill="#000" text-anchor="end" textLength="38.5" lengthAdjust="spacingAndGlyphs">0.5</text>
<text x="793.5" y="1107.9" font-size="29" font-family="'Liberation Sans', Arial, Helvetica, sans-serif" font-weight="bold" fill="#000" text-anchor="end" textLength="38.5" lengthAdjust="spacingAndGlyphs">0.0</text>
<text x="831.3" y="1154" font-size="29" font-family="'Liberation Sans', Arial, Helvetica, sans-serif" font-weight="bold" fill="#000" text-anchor="middle" textLength="39" lengthAdjust="spacingAndGlyphs">0.0</text>
<text x="936" y="1154" font-size="29" font-family="'Liberation Sans', Arial, Helvetica, sans-serif" font-weight="bold" fill="#000" text-anchor="middle" textLength="39" lengthAdjust="spacingAndGlyphs">0.5</text>
<text x="1047.5" y="1154" font-size="29" font-family="'Liberation Sans', Arial, Helvetica, sans-serif" font-weight="bold" fill="#000" text-anchor="middle" textLength="39" lengthAdjust="spacingAndGlyphs">1.0</text>
<text x="1155.5" y="1154" font-size="29" font-family="'Liberation Sans', Arial, Helvetica, sans-serif" font-weight="bold" fill="#000" text-anchor="middle" textLength="39" lengthAdjust="spacingAndGlyphs">1.5</text>
<text x="1258.3" y="1154" font-size="29" font-family="'Liberation Sans', Arial, Helvetica, sans-serif" font-weight="bold" fill="#000" text-anchor="middle" textLength="39" lengthAdjust="spacingAndGlyphs">2.0</text>
<text x="1004" y="1200" font-size="26" font-family="'Liberation Sans', Arial, Helvetica, sans-serif" font-weight="bold" fill="#000"><tspan font-style="italic">q</tspan><tspan font-size="18.72" dy="5.2">xy</tspan><tspan dy="-5.2">&#8203;</tspan> (Å<tspan font-size="18.72" dy="-8.32">-1</tspan><tspan dy="8.32">&#8203;</tspan>)</text>
<text x="746" y="931" font-size="26" font-family="'Liberation Sans', Arial, Helvetica, sans-serif" font-weight="bold" fill="#000" transform="rotate(-90 746 931)"><tspan font-style="italic">q</tspan><tspan font-size="18.72" dy="5.2">z</tspan><tspan dy="-5.2">&#8203;</tspan> (Å<tspan font-size="18.72" dy="-8.32">-1</tspan><tspan dy="8.32">&#8203;</tspan>)</text>
<rect x="1279.8" y="667.2" width="16.6" height="414" fill="url(#cbD)" stroke="#000" stroke-width="1.6"/>
<line x1="1288.4" y1="736.9" x2="1296.4" y2="736.9" stroke="#000" stroke-width="2.6" />
<line x1="1288.4" y1="805.9" x2="1296.4" y2="805.9" stroke="#000" stroke-width="2.6" />
<line x1="1288.4" y1="873.7" x2="1296.4" y2="873.7" stroke="#000" stroke-width="2.6" />
<line x1="1288.4" y1="942.6" x2="1296.4" y2="942.6" stroke="#000" stroke-width="2.6" />
<line x1="1288.4" y1="1011.3" x2="1296.4" y2="1011.3" stroke="#000" stroke-width="2.6" />
<text x="1306.2" y="678.2" font-size="28.5" font-family="'Liberation Sans', Arial, Helvetica, sans-serif" font-weight="bold" fill="#000" textLength="38.4" lengthAdjust="spacingAndGlyphs">4.0</text>
<text x="1308.1" y="743.2" font-size="28.5" font-family="'Liberation Sans', Arial, Helvetica, sans-serif" font-weight="bold" fill="#000" textLength="38.4" lengthAdjust="spacingAndGlyphs">3.5</text>
<text x="1310.7" y="816.7" font-size="28.5" font-family="'Liberation Sans', Arial, Helvetica, sans-serif" font-weight="bold" fill="#000" textLength="38.4" lengthAdjust="spacingAndGlyphs">3.0</text>
<text x="1310.7" y="884.5" font-size="28.5" font-family="'Liberation Sans', Arial, Helvetica, sans-serif" font-weight="bold" fill="#000" textLength="38.4" lengthAdjust="spacingAndGlyphs">2.5</text>
<text x="1310.7" y="955.7" font-size="28.5" font-family="'Liberation Sans', Arial, Helvetica, sans-serif" font-weight="bold" fill="#000" textLength="38.4" lengthAdjust="spacingAndGlyphs">2.0</text>
<text x="1307.5" y="1023.4" font-size="28.5" font-family="'Liberation Sans', Arial, Helvetica, sans-serif" font-weight="bold" fill="#000" textLength="38.4" lengthAdjust="spacingAndGlyphs">1.5</text>
<text x="1307.5" y="1088.8" font-size="28.5" font-family="'Liberation Sans', Arial, Helvetica, sans-serif" font-weight="bold" fill="#000" textLength="38.4" lengthAdjust="spacingAndGlyphs">1.0</text>
<text x="1364.8" y="685.8" font-size="28.2" font-family="'Liberation Sans', Arial, Helvetica, sans-serif" font-weight="bold" fill="#000" transform="rotate(90 1364.8 685.8)" textLength="363" lengthAdjust="spacingAndGlyphs">Log[ Intensity (arb. Units.)]</text>
<text x="957" y="694.5" font-size="37" font-family="'Liberation Serif', 'Times New Roman', Times, serif" font-weight="bold" fill="#fff" textLength="105" lengthAdjust="spacingAndGlyphs">(200)<tspan font-size="23" dy="7.2">3D</tspan><tspan dy="-7.2">&#8203;</tspan></text>
<text x="899" y="895.3" font-size="37" font-family="'Liberation Serif', 'Times New Roman', Times, serif" font-weight="bold" fill="#fff" textLength="105.5" lengthAdjust="spacingAndGlyphs">(100)<tspan font-size="23" dy="7.2">3D</tspan><tspan dy="-7.2">&#8203;</tspan></text>
<text x="1050.5" y="994" font-size="33.5" font-family="'Liberation Serif', 'Times New Roman', Times, serif" font-weight="bold" fill="#fff" textLength="157" lengthAdjust="spacingAndGlyphs">Annealing</text>
<text x="1092" y="1037.5" font-size="33.5" font-family="'Liberation Serif', 'Times New Roman', Times, serif" font-weight="bold" fill="#fff" textLength="83" lengthAdjust="spacingAndGlyphs">1 min</text>
</g>
<g id="panel-b">
<text x="692" y="37" font-size="50" font-family="'Liberation Serif', 'Times New Roman', Times, serif" font-weight="bold" fill="#000">b</text>
<g transform="translate(803.7 81) rotate(0) scale(1.33)">
<use href="#octL"/>
<use href="#sO" transform="translate(0 0) scale(1.02)"/>
<use href="#sO" transform="translate(-20 0) scale(1.02)"/>
<use href="#sO" transform="translate(20 0) scale(1.02)"/>
<use href="#sO" transform="translate(0 -20) scale(1.02)"/>
<use href="#sO" transform="translate(0 20) scale(1.02)"/>
</g>
<text x="756" y="139.8" font-size="30" font-family="'Liberation Serif', 'Times New Roman', Times, serif" font-weight="bold" fill="#000" textLength="98.5" lengthAdjust="spacingAndGlyphs">[SnI<tspan font-size="21" dy="7.5">6</tspan><tspan dy="-7.5">&#8203;</tspan>]<tspan font-size="21" dy="-11.5">4-</tspan><tspan dy="11.5">&#8203;</tspan></text>
<line x1="772.4" y1="180" x2="787.2" y2="172.5" stroke="#e030e0" stroke-width="1.7" />
<line x1="787.2" y1="172.5" x2="802" y2="165" stroke="#9ac64e" stroke-width="1.7" />
<line x1="825.3" y1="187.5" x2="813.65" y2="176.25" stroke="#e030e0" stroke-width="1.7" />
<line x1="813.65" y1="176.25" x2="802" y2="165" stroke="#9ac64e" stroke-width="1.7" />
<use href="#sM" x="772.4" y="180"/>
<use href="#sM" x="825.3" y="187.5"/>
<use href="#sSn" x="802" y="165"/>
<text x="770" y="219.5" font-size="31" font-family="'Liberation Serif', 'Times New Roman', Times, serif" font-weight="bold" fill="#000" textLength="59" lengthAdjust="spacingAndGlyphs">SnI<tspan font-size="21" dy="7">2</tspan><tspan dy="-7">&#8203;</tspan></text>
<use href="#sFA" x="799.5" y="245"/>
<text x="777" y="285" font-size="31" font-family="'Liberation Serif', 'Times New Roman', Times, serif" font-weight="bold" fill="#000" textLength="53" lengthAdjust="spacingAndGlyphs">FA<tspan font-size="22" dy="-11">+</tspan><tspan dy="11">&#8203;</tspan></text>
<use href="#peaT" x="803" y="312.5"/>
<text x="768.5" y="383" font-size="31" font-family="'Liberation Serif', 'Times New Roman', Times, serif" font-weight="bold" fill="#000" textLength="77" lengthAdjust="spacingAndGlyphs">PEA<tspan font-size="22" dy="-11">+</tspan><tspan dy="11">&#8203;</tspan></text>
<g transform="translate(801.6 427) scale(1.05)"><use href="#scnT"/></g>
<text x="765" y="460.5" font-size="31" font-family="'Liberation Serif', 'Times New Roman', Times, serif" font-weight="bold" fill="#000" textLength="72" lengthAdjust="spacingAndGlyphs">SCN<tspan font-size="22" dy="-11">-</tspan><tspan dy="11">&#8203;</tspan></text>
<use href="#sH" x="799.5" y="498.3"/>
<text x="755" y="552" font-size="31" font-family="'Liberation Serif', 'Times New Roman', Times, serif" font-weight="bold" fill="#000" textLength="106" lengthAdjust="spacingAndGlyphs">HCOO<tspan font-size="22" dy="-11">-</tspan><tspan dy="11">&#8203;</tspan></text>
<text x="838.5" y="32.6" font-size="32" font-family="'Liberation Serif', 'Times New Roman', Times, serif" font-weight="bold" fill="#000" textLength="403" lengthAdjust="spacingAndGlyphs">Template:PEA<tspan font-size="21" dy="7">2</tspan><tspan dy="-7">&#8203;</tspan>FASn<tspan font-size="21" dy="7">2</tspan><tspan dy="-7">&#8203;</tspan>I<tspan font-size="21" dy="7">5</tspan><tspan dy="-7">&#8203;</tspan>SCN<tspan font-size="21" dy="7">2</tspan><tspan dy="-7">&#8203;</tspan></text>
<text x="1567.5" y="31" font-size="32" font-family="'Liberation Serif', 'Times New Roman', Times, serif" font-weight="bold" fill="#000" textLength="363.5" lengthAdjust="spacingAndGlyphs">PEA<tspan font-size="21" dy="7">2</tspan><tspan dy="-7">&#8203;</tspan>FA<tspan font-size="21" dy="7">n-1</tspan><tspan dy="-7">&#8203;</tspan>Sn<tspan font-size="21" dy="7">n</tspan><tspan dy="-7">&#8203;</tspan>I<tspan font-size="21" dy="7">3n-1</tspan><tspan dy="-7">&#8203;</tspan>SCN<tspan font-size="21" dy="7">2</tspan><tspan dy="-7">&#8203;</tspan> (n</text>
<text transform="translate(1921.8 30.4) scale(1.66 1.3)" font-size="32" font-family="'Liberation Serif', 'Times New Roman', Times, serif" font-weight="bold">→</text>
<text x="1965.6" y="31" font-size="32" font-family="'Liberation Serif', 'Times New Roman', Times, serif" font-weight="bold" fill="#000" textLength="31" lengthAdjust="spacingAndGlyphs">∞)</text>
<use href="#peaT" x="883.9" y="76.4"/>
<use href="#peaT" x="925.9" y="78.4"/>
<use href="#peaT" x="966.4" y="78.4"/>
<use href="#peaT" x="1007.4" y="78.4"/>
<use href="#peaT" x="1048" y="78.4"/>
<use href="#peaT" x="1088.5" y="78.4"/>
<use href="#peaT" x="1127.2" y="78.4"/>
<use href="#peaT" x="1167.7" y="78.4"/>
<use href="#peaB" x="902.1" y="207.2"/>
<use href="#peaB" x="944" y="207.2"/>
<use href="#peaB" x="985.9" y="207.2"/>
<use href="#peaB" x="1024.9" y="207.2"/>
<use href="#peaB" x="1065.4" y="207.2"/>
<use href="#peaB" x="1105.7" y="207.2"/>
<use href="#peaB" x="1143.7" y="207.2"/>
<use href="#peaB" x="1184.2" y="207.2"/>
<use href="#oct" x="896.1" y="122.9"/>
<use href="#oct" x="936.17" y="122.9"/>
<use href="#oct" x="976.24" y="122.9"/>
<use href="#oct" x="1016.31" y="122.9"/>
<use href="#oct" x="1056.38" y="122.9"/>
<use href="#oct" x="1096.45" y="122.9"/>
<use href="#oct" x="1136.52" y="122.9"/>
<use href="#oct" x="1176.59" y="122.9"/>
<use href="#oct" x="896.1" y="162.9"/>
<use href="#oct" x="936.17" y="162.9"/>
<use href="#oct" x="976.24" y="162.9"/>
<use href="#oct" x="1016.31" y="162.9"/>
<use href="#oct" x="1056.38" y="162.9"/>
<use href="#oct" x="1096.45" y="162.9"/>
<use href="#oct" x="1136.52" y="162.9"/>
<use href="#oct" x="1176.59" y="162.9"/>
<use href="#sO" x="876.1" y="122.9"/>
<use href="#sO" x="876.1" y="162.9"/>
<use href="#sO" x="896.1" y="122.9"/>
<use href="#sO" x="896.1" y="142.9"/>
<use href="#sO" x="896.1" y="162.9"/>
<use href="#sO" x="916.1" y="122.9"/>
<use href="#sO" x="916.1" y="162.9"/>
<use href="#sO" x="936.2" y="122.9"/>
<use href="#sO" x="936.2" y="142.9"/>
<use href="#sO" x="936.2" y="162.9"/>
<use href="#sO" x="956.2" y="122.9"/>
<use href="#sO" x="956.2" y="162.9"/>
<use href="#sO" x="976.2" y="122.9"/>
<use href="#sO" x="976.2" y="142.9"/>
<use href="#sO" x="976.2" y="162.9"/>
<use href="#sO" x="996.2" y="122.9"/>
<use href="#sO" x="996.2" y="162.9"/>
<use href="#sO" x="1016.3" y="122.9"/>
<use href="#sO" x="1016.3" y="142.9"/>
<use href="#sO" x="1016.3" y="162.9"/>
<use href="#sO" x="1036.3" y="122.9"/>
<use href="#sO" x="1036.3" y="162.9"/>
<use href="#sO" x="1056.4" y="122.9"/>
<use href="#sO" x="1056.4" y="142.9"/>
<use href="#sO" x="1056.4" y="162.9"/>
<use href="#sO" x="1076.4" y="122.9"/>
<use href="#sO" x="1076.4" y="162.9"/>
<use href="#sO" x="1096.5" y="122.9"/>
<use href="#sO" x="1096.5" y="142.9"/>
<use href="#sO" x="1096.5" y="162.9"/>
<use href="#sO" x="1116.5" y="122.9"/>
<use href="#sO" x="1116.5" y="162.9"/>
<use href="#sO" x="1136.5" y="122.9"/>
<use href="#sO" x="1136.5" y="142.9"/>
<use href="#sO" x="1136.5" y="162.9"/>
<use href="#sO" x="1156.5" y="122.9"/>
<use href="#sO" x="1156.5" y="162.9"/>
<use href="#sO" x="1176.6" y="122.9"/>
<use href="#sO" x="1176.6" y="142.9"/>
<use href="#sO" x="1176.6" y="162.9"/>
<use href="#sO" x="1196.6" y="122.9"/>
<use href="#sO" x="1196.6" y="162.9"/>
<use href="#sFA" x="916.13" y="142.9"/>
<use href="#sFA" x="956.21" y="142.9"/>
<use href="#sFA" x="996.28" y="142.9"/>
<use href="#sFA" x="1036.35" y="142.9"/>
<use href="#sFA" x="1076.41" y="142.9"/>
<use href="#sFA" x="1116.49" y="142.9"/>
<use href="#sFA" x="1156.56" y="142.9"/>
<use href="#scnT" x="896.1" y="120.9"/>
<use href="#scnB" x="896.1" y="162.9"/>
<use href="#scnT" x="936.17" y="122.9"/>
<use href="#scnB" x="936.17" y="162.9"/>
<use href="#scnT" x="976.24" y="122.9"/>
<use href="#scnB" x="976.24" y="162.9"/>
<use href="#scnT" x="1016.31" y="122.9"/>
<use href="#scnB" x="1016.31" y="162.9"/>
<use href="#scnT" x="1056.38" y="122.9"/>
<use href="#scnB" x="1056.38" y="162.9"/>
<use href="#scnT" x="1096.45" y="122.9"/>
<use href="#scnB" x="1096.45" y="162.9"/>
<use href="#scnT" x="1136.52" y="122.9"/>
<use href="#scnB" x="1136.52" y="162.9"/>
<use href="#scnT" x="1176.59" y="122.9"/>
<use href="#scnB" x="1176.59" y="162.9"/>
<path d="M876 122.9L896 103L916 122.9L896 143Z" fill="#3c6a30" opacity="0.38"/>
<path d="M880 123.5L896 117L906 113.5" stroke="#5f9a3c" stroke-width="1.6" fill="none" opacity="0.8"/>
<circle cx="906.5" cy="114.5" r="3" fill="#3a507a" opacity="0.8"/>
<rect x="854.8" y="49.8" width="359.8" height="171.8" fill="none" stroke="#0c1a58" stroke-width="1.8" stroke-dasharray="5.1 2.5"/>
<use href="#arrS" x="1009.8" y="37.8" fill="#000"/>
<use href="#oct" x="903.4" y="264"/>
<use href="#oct" x="943.2" y="264"/>
<use href="#oct" x="903.4" y="304.6"/>
<use href="#oct" x="943.2" y="304.6"/>
<use href="#sO" x="883.4" y="264"/>
<use href="#sO" x="883.4" y="304.6"/>
<use href="#sO" x="903.4" y="244"/>
<use href="#sO" x="903.4" y="264"/>
<use href="#sO" x="903.4" y="284.3"/>
<use href="#sO" x="903.4" y="304.6"/>
<use href="#sO" x="903.4" y="324.6"/>
<use href="#sO" x="923.2" y="264"/>
<use href="#sO" x="923.2" y="304.6"/>
<use href="#sO" x="943.2" y="244"/>
<use href="#sO" x="943.2" y="264"/>
<use href="#sO" x="943.2" y="284.3"/>
<use href="#sO" x="943.2" y="304.6"/>
<use href="#sO" x="943.2" y="324.6"/>
<use href="#sO" x="963.2" y="264"/>
<use href="#sO" x="963.2" y="304.6"/>
<use href="#sFA" x="923.3" y="284.4"/>
<g transform="translate(1023.2 298.2) rotate(2) scale(1.06)">
<use href="#octL"/>
<use href="#sO" x="0" y="0"/>
<use href="#sO" x="-20" y="0"/>
<use href="#sO" x="20" y="0"/>
<use href="#sO" x="0" y="-20"/>
<use href="#sO" x="0" y="20"/>
</g>
<use href="#peaT" x="1078.6" y="245.2"/>
<use href="#peaT" x="1121.2" y="245.2"/>
<use href="#peaT" x="1157.8" y="245.2"/>
<use href="#peaB" x="1098.4" y="373.9"/>
<use href="#peaB" x="1140.4" y="373.9"/>
<use href="#peaB" x="1177.7" y="373.9"/>
<use href="#oct" x="1090.2" y="289.4"/>
<use href="#oct" x="1130.4" y="289.4"/>
<use href="#oct" x="1170.6" y="289.4"/>
<use href="#oct" x="1090.2" y="329.4"/>
<use href="#oct" x="1130.4" y="329.4"/>
<use href="#oct" x="1170.6" y="329.4"/>
<use href="#sO" x="1070.2" y="289.4"/>
<use href="#sO" x="1070.2" y="329.4"/>
<use href="#sO" x="1090.2" y="289.4"/>
<use href="#sO" x="1090.2" y="309.4"/>
<use href="#sO" x="1090.2" y="329.4"/>
<use href="#sO" x="1110.2" y="289.4"/>
<use href="#sO" x="1110.2" y="329.4"/>
<use href="#sO" x="1130.4" y="289.4"/>
<use href="#sO" x="1130.4" y="309.4"/>
<use href="#sO" x="1130.4" y="329.4"/>
<use href="#sO" x="1150.4" y="289.4"/>
<use href="#sO" x="1150.4" y="329.4"/>
<use href="#sO" x="1170.6" y="289.4"/>
<use href="#sO" x="1170.6" y="309.4"/>
<use href="#sO" x="1170.6" y="329.4"/>
<use href="#sO" x="1190.6" y="289.4"/>
<use href="#sO" x="1190.6" y="329.4"/>
<use href="#sFA" x="1110.3" y="309.5"/>
<use href="#sFA" x="1150.5" y="309.5"/>
<use href="#scnT" x="1090.2" y="289.4"/>
<use href="#scnB" x="1090.2" y="329.4"/>
<use href="#scnT" x="1130.4" y="289.4"/>
<use href="#scnB" x="1130.4" y="329.4"/>
<use href="#scnT" x="1170.6" y="289.4"/>
<use href="#scnB" x="1170.6" y="329.4"/>
<line x1="951.3" y1="344.2" x2="941.9" y2="357.7" stroke="#e030e0" stroke-width="1.7" />
<line x1="941.9" y1="357.7" x2="932.5" y2="371.2" stroke="#9ac64e" stroke-width="1.7" />
<line x1="901.1" y1="363.7" x2="916.8" y2="367.45" stroke="#e030e0" stroke-width="1.7" />
<line x1="916.8" y1="367.45" x2="932.5" y2="371.2" stroke="#9ac64e" stroke-width="1.7" />
<use href="#sM" x="951.3" y="344.2"/>
<use href="#sM" x="901.1" y="363.7"/>
<use href="#sSn" x="932.5" y="371.2"/>
<line x1="993.5" y1="386.8" x2="1000.6" y2="401.65" stroke="#e030e0" stroke-width="1.7" />
<line x1="1000.6" y1="401.65" x2="1007.7" y2="416.5" stroke="#9ac64e" stroke-width="1.7" />
<line x1="1040.4" y1="412.5" x2="1024.05" y2="414.5" stroke="#e030e0" stroke-width="1.7" />
<line x1="1024.05" y1="414.5" x2="1007.7" y2="416.5" stroke="#9ac64e" stroke-width="1.7" />
<use href="#sM" x="993.5" y="386.8"/>
<use href="#sM" x="1040.4" y="412.5"/>
<use href="#sSn" x="1007.7" y="416.5"/>
<line x1="1075" y1="396" x2="1082.6" y2="410.85" stroke="#e030e0" stroke-width="1.7" />
<line x1="1082.6" y1="410.85" x2="1090.2" y2="425.7" stroke="#9ac64e" stroke-width="1.7" />
<line x1="1122.2" y1="421.7" x2="1106.2" y2="423.7" stroke="#e030e0" stroke-width="1.7" />
<line x1="1106.2" y1="423.7" x2="1090.2" y2="425.7" stroke="#9ac64e" stroke-width="1.7" />
<use href="#sM" x="1075" y="396"/>
<use href="#sM" x="1122.2" y="421.7"/>
<use href="#sSn" x="1090.2" y="425.7"/>
<line x1="937.4" y1="459.7" x2="952.25" y2="467.45" stroke="#e030e0" stroke-width="1.7" />
<line x1="952.25" y1="467.45" x2="967.1" y2="475.2" stroke="#9ac64e" stroke-width="1.7" />
<line x1="990.2" y1="451.4" x2="978.65" y2="463.3" stroke="#e030e0" stroke-width="1.7" />
<line x1="978.65" y1="463.3" x2="967.1" y2="475.2" stroke="#9ac64e" stroke-width="1.7" />
<use href="#sM" x="937.4" y="459.7"/>
<use href="#sM" x="990.2" y="451.4"/>
<use href="#sSn" x="967.1" y="475.2"/>
<use href="#sFA" x="903.7" y="406.6"/>
<use href="#sH" x="910.3" y="420.8"/>
<use href="#sFA" x="1040.4" y="377.9"/>
<use href="#sH" x="1049" y="391.7"/>
<use href="#sFA" x="1076" y="462"/>
<use href="#sH" x="1085.9" y="451.4"/>
<use href="#sFA" x="1123.9" y="458.7"/>
<use href="#sH" x="1133.8" y="444.8"/>
<use href="#sFA" x="1187.2" y="463.7"/>
<use href="#sH" x="1193.2" y="450.5"/>
<use href="#sFA" x="1026.5" y="488.4"/>
<use href="#sH" x="1033.1" y="472.6"/>
<g transform="translate(948.8 422) rotate(-21) scale(0.98)">
<use href="#octL"/>
<use href="#sO" x="0" y="0"/>
<use href="#sO" x="-20" y="0"/>
<use href="#sO" x="20" y="0"/>
<use href="#sO" x="0" y="-20"/>
<use href="#sO" x="0" y="20"/>
</g>
<path d="M891 508.8 L1193.6 508.8 L1188.6 515.3 L885 515.3 Z" fill="url(#gSlabTop)"/>
<rect x="885" y="514.8" width="304.6" height="39.6" fill="url(#gSlab)"/>
<path d="M1189.1 514.8 L1194.1 509.3 L1195.1 548.4 L1189.1 554.4 Z" fill="#161616"/>
<text x="923" y="544.8" font-size="32" font-family="'Liberation Serif', 'Times New Roman', Times, serif" font-weight="bold" fill="#000" textLength="235" lengthAdjust="spacingAndGlyphs">Before annealing</text>
<path transform="translate(1195.25 319.75)" d="M0 0C3 -16 15 -28 34 -28.5L34 -37.75L52.25 -22.5L34 -6.75L34 -15.25C22 -15 9 -9 0 0Z" fill="#404040"/>
<use href="#peaT" x="1272.4" y="74.9"/>
<use href="#peaT" x="1313.6" y="76.9"/>
<use href="#peaT" x="1353.2" y="76.9"/>
<use href="#peaT" x="1396.1" y="76.9"/>
<use href="#peaT" x="1437.4" y="76.9"/>
<use href="#peaT" x="1477" y="76.9"/>
<use href="#peaT" x="1516.6" y="76.9"/>
<use href="#peaT" x="1556.2" y="76.9"/>
<use href="#peaB" x="1290.5" y="205.5"/>
<use href="#peaB" x="1331.8" y="205.5"/>
<use href="#peaB" x="1374.7" y="205.5"/>
<use href="#peaB" x="1415.9" y="205.5"/>
<use href="#peaB" x="1454.8" y="205.5"/>
<use href="#peaB" x="1494.4" y="205.5"/>
<use href="#peaB" x="1531.4" y="205.5"/>
<use href="#peaB" x="1572.7" y="205.5"/>
<use href="#oct" x="1283.9" y="121.1"/>
<use href="#oct" x="1323.97" y="121.1"/>
<use href="#oct" x="1364.04" y="121.1"/>
<use href="#oct" x="1404.11" y="121.1"/>
<use href="#oct" x="1444.18" y="121.1"/>
<use href="#oct" x="1484.25" y="121.1"/>
<use href="#oct" x="1524.32" y="121.1"/>
<use href="#oct" x="1564.39" y="121.1"/>
<use href="#oct" x="1283.9" y="161.1"/>
<use href="#oct" x="1323.97" y="161.1"/>
<use href="#oct" x="1364.04" y="161.1"/>
<use href="#oct" x="1404.11" y="161.1"/>
<use href="#oct" x="1444.18" y="161.1"/>
<use href="#oct" x="1484.25" y="161.1"/>
<use href="#oct" x="1524.32" y="161.1"/>
<use href="#oct" x="1564.39" y="161.1"/>
<use href="#sO" x="1263.9" y="121.1"/>
<use href="#sO" x="1263.9" y="161.1"/>
<use href="#sO" x="1283.9" y="121.1"/>
<use href="#sO" x="1283.9" y="141.1"/>
<use href="#sO" x="1283.9" y="161.1"/>
<use href="#sO" x="1303.9" y="121.1"/>
<use href="#sO" x="1303.9" y="161.1"/>
<use href="#sO" x="1324" y="121.1"/>
<use href="#sO" x="1324" y="141.1"/>
<use href="#sO" x="1324" y="161.1"/>
<use href="#sO" x="1344" y="121.1"/>
<use href="#sO" x="1344" y="161.1"/>
<use href="#sO" x="1364" y="121.1"/>
<use href="#sO" x="1364" y="141.1"/>
<use href="#sO" x="1364" y="161.1"/>
<use href="#sO" x="1384" y="121.1"/>
<use href="#sO" x="1384" y="161.1"/>
<use href="#sO" x="1404.1" y="121.1"/>
<use href="#sO" x="1404.1" y="141.1"/>
<use href="#sO" x="1404.1" y="161.1"/>
<use href="#sO" x="1424.1" y="121.1"/>
<use href="#sO" x="1424.1" y="161.1"/>
<use href="#sO" x="1444.2" y="121.1"/>
<use href="#sO" x="1444.2" y="141.1"/>
<use href="#sO" x="1444.2" y="161.1"/>
<use href="#sO" x="1464.2" y="121.1"/>
<use href="#sO" x="1464.2" y="161.1"/>
<use href="#sO" x="1484.2" y="121.1"/>
<use href="#sO" x="1484.2" y="141.1"/>
<use href="#sO" x="1484.2" y="161.1"/>
<use href="#sO" x="1504.2" y="121.1"/>
<use href="#sO" x="1504.2" y="161.1"/>
<use href="#sO" x="1524.3" y="121.1"/>
<use href="#sO" x="1524.3" y="141.1"/>
<use href="#sO" x="1524.3" y="161.1"/>
<use href="#sO" x="1544.3" y="121.1"/>
<use href="#sO" x="1544.3" y="161.1"/>
<use href="#sO" x="1564.4" y="121.1"/>
<use href="#sO" x="1564.4" y="141.1"/>
<use href="#sO" x="1564.4" y="161.1"/>
<use href="#sO" x="1584.4" y="121.1"/>
<use href="#sO" x="1584.4" y="161.1"/>
<use href="#sFA" x="1303.93" y="141.1"/>
<use href="#sFA" x="1344.01" y="141.1"/>
<use href="#sFA" x="1384.08" y="141.1"/>
<use href="#sFA" x="1424.14" y="141.1"/>
<use href="#sFA" x="1464.22" y="141.1"/>
<use href="#sFA" x="1504.29" y="141.1"/>
<use href="#sFA" x="1544.36" y="141.1"/>
<use href="#scnT" x="1283.9" y="119.1"/>
<use href="#scnB" x="1283.9" y="161.1"/>
<use href="#scnT" x="1323.97" y="121.1"/>
<use href="#scnB" x="1323.97" y="161.1"/>
<use href="#scnT" x="1364.04" y="121.1"/>
<use href="#scnB" x="1364.04" y="161.1"/>
<use href="#scnT" x="1404.11" y="121.1"/>
<use href="#scnB" x="1404.11" y="161.1"/>
<use href="#scnT" x="1444.18" y="121.1"/>
<use href="#scnB" x="1444.18" y="161.1"/>
<use href="#scnT" x="1484.25" y="121.1"/>
<use href="#scnB" x="1484.25" y="161.1"/>
<use href="#scnT" x="1524.32" y="121.1"/>
<use href="#scnB" x="1524.32" y="161.1"/>
<use href="#scnT" x="1564.39" y="121.1"/>
<use href="#scnB" x="1564.39" y="161.1"/>
<path d="M1263.9 121.1L1283.9 101.1L1303.9 121.1L1283.9 141.1Z" fill="#3c6a30" opacity="0.38"/>
<path d="M1268 121.7L1284 115L1294 111.5" stroke="#5f9a3c" stroke-width="1.6" fill="none" opacity="0.8"/>
<circle cx="1294.5" cy="112.5" r="3" fill="#3a507a" opacity="0.8"/>
<use href="#oct" x="1280.7" y="245.6"/>
<use href="#oct" x="1320.76" y="245.6"/>
<use href="#oct" x="1360.82" y="245.6"/>
<use href="#oct" x="1400.88" y="245.6"/>
<use href="#oct" x="1440.94" y="245.6"/>
<use href="#oct" x="1481" y="245.6"/>
<use href="#oct" x="1521.06" y="245.6"/>
<use href="#oct" x="1561.12" y="245.6"/>
<use href="#oct" x="1280.7" y="285.7"/>
<use href="#oct" x="1320.76" y="285.7"/>
<use href="#oct" x="1360.82" y="285.7"/>
<use href="#oct" x="1400.88" y="285.7"/>
<use href="#oct" x="1440.94" y="285.7"/>
<use href="#oct" x="1481" y="285.7"/>
<use href="#oct" x="1521.06" y="285.7"/>
<use href="#oct" x="1561.12" y="285.7"/>
<use href="#sO" x="1260.7" y="245.6"/>
<use href="#sO" x="1260.7" y="285.7"/>
<use href="#sO" x="1280.7" y="225.6"/>
<use href="#sO" x="1280.7" y="245.6"/>
<use href="#sO" x="1280.7" y="265.6"/>
<use href="#sO" x="1280.7" y="285.7"/>
<use href="#sO" x="1280.7" y="305.7"/>
<use href="#sO" x="1300.7" y="245.6"/>
<use href="#sO" x="1300.7" y="285.7"/>
<use href="#sO" x="1320.8" y="225.6"/>
<use href="#sO" x="1320.8" y="245.6"/>
<use href="#sO" x="1320.8" y="265.6"/>
<use href="#sO" x="1320.8" y="285.7"/>
<use href="#sO" x="1320.8" y="305.7"/>
<use href="#sO" x="1340.8" y="245.6"/>
<use href="#sO" x="1340.8" y="285.7"/>
<use href="#sO" x="1360.8" y="225.6"/>
<use href="#sO" x="1360.8" y="245.6"/>
<use href="#sO" x="1360.8" y="265.6"/>
<use href="#sO" x="1360.8" y="285.7"/>
<use href="#sO" x="1360.8" y="305.7"/>
<use href="#sO" x="1380.8" y="245.6"/>
<use href="#sO" x="1380.8" y="285.7"/>
<use href="#sO" x="1400.9" y="225.6"/>
<use href="#sO" x="1400.9" y="245.6"/>
<use href="#sO" x="1400.9" y="265.6"/>
<use href="#sO" x="1400.9" y="285.7"/>
<use href="#sO" x="1400.9" y="305.7"/>
<use href="#sO" x="1420.9" y="245.6"/>
<use href="#sO" x="1420.9" y="285.7"/>
<use href="#sO" x="1440.9" y="225.6"/>
<use href="#sO" x="1440.9" y="245.6"/>
<use href="#sO" x="1440.9" y="265.6"/>
<use href="#sO" x="1440.9" y="285.7"/>
<use href="#sO" x="1440.9" y="305.7"/>
<use href="#sO" x="1460.9" y="245.6"/>
<use href="#sO" x="1460.9" y="285.7"/>
<use href="#sO" x="1481" y="225.6"/>
<use href="#sO" x="1481" y="245.6"/>
<use href="#sO" x="1481" y="265.6"/>
<use href="#sO" x="1481" y="285.7"/>
<use href="#sO" x="1481" y="305.7"/>
<use href="#sO" x="1501" y="245.6"/>
<use href="#sO" x="1501" y="285.7"/>
<use href="#sO" x="1521.1" y="225.6"/>
<use href="#sO" x="1521.1" y="245.6"/>
<use href="#sO" x="1521.1" y="265.6"/>
<use href="#sO" x="1521.1" y="285.7"/>
<use href="#sO" x="1521.1" y="305.7"/>
<use href="#sO" x="1541.1" y="245.6"/>
<use href="#sO" x="1541.1" y="285.7"/>
<use href="#sO" x="1561.1" y="225.6"/>
<use href="#sO" x="1561.1" y="245.6"/>
<use href="#sO" x="1561.1" y="265.6"/>
<use href="#sO" x="1561.1" y="285.7"/>
<use href="#sO" x="1561.1" y="305.7"/>
<use href="#sO" x="1581.1" y="245.6"/>
<use href="#sO" x="1581.1" y="285.7"/>
<use href="#sFA" x="1300.73" y="224.2"/>
<use href="#sFA" x="1340.79" y="224.2"/>
<use href="#sFA" x="1380.85" y="224.2"/>
<use href="#sFA" x="1420.91" y="224.2"/>
<use href="#sFA" x="1460.97" y="224.2"/>
<use href="#sFA" x="1501.03" y="224.2"/>
<use href="#sFA" x="1541.09" y="224.2"/>
<use href="#sFA" x="1300.73" y="265.6"/>
<use href="#sFA" x="1340.79" y="265.6"/>
<use href="#sFA" x="1380.85" y="265.6"/>
<use href="#sFA" x="1420.91" y="265.6"/>
<use href="#sFA" x="1460.97" y="265.6"/>
<use href="#sFA" x="1501.03" y="265.6"/>
<use href="#sFA" x="1541.09" y="265.6"/>
<use href="#oct" x="1280.7" y="327.8"/>
<use href="#oct" x="1320.76" y="327.8"/>
<use href="#oct" x="1360.82" y="327.8"/>
<use href="#oct" x="1400.88" y="327.8"/>
<use href="#oct" x="1440.94" y="327.8"/>
<use href="#oct" x="1481" y="327.8"/>
<use href="#oct" x="1521.06" y="327.8"/>
<use href="#oct" x="1561.12" y="327.8"/>
<use href="#oct" x="1280.7" y="368.2"/>
<use href="#oct" x="1320.76" y="368.2"/>
<use href="#oct" x="1360.82" y="368.2"/>
<use href="#oct" x="1400.88" y="368.2"/>
<use href="#oct" x="1440.94" y="368.2"/>
<use href="#oct" x="1481" y="368.2"/>
<use href="#oct" x="1521.06" y="368.2"/>
<use href="#oct" x="1561.12" y="368.2"/>
<use href="#sO" x="1260.7" y="327.8"/>
<use href="#sO" x="1260.7" y="368.2"/>
<use href="#sO" x="1280.7" y="307.8"/>
<use href="#sO" x="1280.7" y="327.8"/>
<use href="#sO" x="1280.7" y="348"/>
<use href="#sO" x="1280.7" y="368.2"/>
<use href="#sO" x="1280.7" y="388.2"/>
<use href="#sO" x="1300.7" y="327.8"/>
<use href="#sO" x="1300.7" y="368.2"/>
<use href="#sO" x="1320.8" y="307.8"/>
<use href="#sO" x="1320.8" y="327.8"/>
<use href="#sO" x="1320.8" y="348"/>
<use href="#sO" x="1320.8" y="368.2"/>
<use href="#sO" x="1320.8" y="388.2"/>
<use href="#sO" x="1340.8" y="327.8"/>
<use href="#sO" x="1340.8" y="368.2"/>
<use href="#sO" x="1360.8" y="307.8"/>
<use href="#sO" x="1360.8" y="327.8"/>
<use href="#sO" x="1360.8" y="348"/>
<use href="#sO" x="1360.8" y="368.2"/>
<use href="#sO" x="1360.8" y="388.2"/>
<use href="#sO" x="1380.8" y="327.8"/>
<use href="#sO" x="1380.8" y="368.2"/>
<use href="#sO" x="1400.9" y="307.8"/>
<use href="#sO" x="1400.9" y="327.8"/>
<use href="#sO" x="1400.9" y="348"/>
<use href="#sO" x="1400.9" y="368.2"/>
<use href="#sO" x="1400.9" y="388.2"/>
<use href="#sO" x="1420.9" y="327.8"/>
<use href="#sO" x="1420.9" y="368.2"/>
<use href="#sO" x="1440.9" y="307.8"/>
<use href="#sO" x="1440.9" y="327.8"/>
<use href="#sO" x="1440.9" y="348"/>
<use href="#sO" x="1440.9" y="368.2"/>
<use href="#sO" x="1440.9" y="388.2"/>
<use href="#sO" x="1460.9" y="327.8"/>
<use href="#sO" x="1460.9" y="368.2"/>
<use href="#sO" x="1481" y="307.8"/>
<use href="#sO" x="1481" y="327.8"/>
<use href="#sO" x="1481" y="348"/>
<use href="#sO" x="1481" y="368.2"/>
<use href="#sO" x="1481" y="388.2"/>
<use href="#sO" x="1501" y="327.8"/>
<use href="#sO" x="1501" y="368.2"/>
<use href="#sO" x="1521.1" y="307.8"/>
<use href="#sO" x="1521.1" y="327.8"/>
<use href="#sO" x="1521.1" y="348"/>
<use href="#sO" x="1521.1" y="368.2"/>
<use href="#sO" x="1521.1" y="388.2"/>
<use href="#sO" x="1541.1" y="327.8"/>
<use href="#sO" x="1541.1" y="368.2"/>
<use href="#sO" x="1561.1" y="307.8"/>
<use href="#sO" x="1561.1" y="327.8"/>
<use href="#sO" x="1561.1" y="348"/>
<use href="#sO" x="1561.1" y="368.2"/>
<use href="#sO" x="1561.1" y="388.2"/>
<use href="#sO" x="1581.1" y="327.8"/>
<use href="#sO" x="1581.1" y="368.2"/>
<use href="#sFA" x="1300.73" y="306.3"/>
<use href="#sFA" x="1340.79" y="306.3"/>
<use href="#sFA" x="1380.85" y="306.3"/>
<use href="#sFA" x="1420.91" y="306.3"/>
<use href="#sFA" x="1460.97" y="306.3"/>
<use href="#sFA" x="1501.03" y="306.3"/>
<use href="#sFA" x="1541.09" y="306.3"/>
<use href="#sFA" x="1300.73" y="348"/>
<use href="#sFA" x="1340.79" y="348"/>
<use href="#sFA" x="1380.85" y="348"/>
<use href="#sFA" x="1420.91" y="348"/>
<use href="#sFA" x="1460.97" y="348"/>
<use href="#sFA" x="1501.03" y="348"/>
<use href="#sFA" x="1541.09" y="348"/>
<rect x="1254.6" y="215.8" width="336.4" height="178.6" fill="none" stroke="#0c1a58" stroke-width="1.8" stroke-dasharray="5.1 2.5"/>
<text x="1346" y="431" font-size="32" font-family="'Liberation Serif', 'Times New Roman', Times, serif" font-weight="bold" fill="#000" textLength="149" lengthAdjust="spacingAndGlyphs">3D FASnI<tspan font-size="21" dy="7">3</tspan><tspan dy="-7">&#8203;</tspan></text>
<use href="#arrU" x="1433.3" y="409" fill="#000"/>
<g transform="translate(1322.2 450.7) rotate(-21) scale(1)">
<use href="#octL"/>
<use href="#sO" x="0" y="0"/>
<use href="#sO" x="-20" y="0"/>
<use href="#sO" x="20" y="0"/>
<use href="#sO" x="0" y="-20"/>
<use href="#sO" x="0" y="20"/>
</g>
<g transform="translate(1520 429.6) rotate(-3) scale(1)">
<use href="#octL"/>
<use href="#sO" x="0" y="0"/>
<use href="#sO" x="-20" y="0"/>
<use href="#sO" x="20" y="0"/>
<use href="#sO" x="0" y="-20"/>
<use href="#sO" x="0" y="20"/>
</g>
<line x1="1372" y1="448.8" x2="1369.2" y2="465.3" stroke="#e030e0" stroke-width="1.7" />
<line x1="1369.2" y1="465.3" x2="1366.4" y2="481.8" stroke="#9ac64e" stroke-width="1.7" />
<line x1="1335" y1="486.8" x2="1350.7" y2="484.3" stroke="#e030e0" stroke-width="1.7" />
<line x1="1350.7" y1="484.3" x2="1366.4" y2="481.8" stroke="#9ac64e" stroke-width="1.7" />
<use href="#sM" x="1372" y="448.8"/>
<use href="#sM" x="1335" y="486.8"/>
<use href="#sSn" x="1366.4" y="481.8"/>
<use href="#sFA" x="1391.2" y="471.9"/>
<use href="#sH" x="1402.7" y="480.2"/>
<use href="#sFA" x="1440" y="468"/>
<use href="#sH" x="1440.7" y="451.4"/>
<use href="#sFA" x="1501.7" y="472.6"/>
<use href="#sH" x="1514.2" y="485.1"/>
<use href="#sO" x="1340" y="444"/>
<path d="M1271.8 505.2 L1575.2 505.2 L1570.2 511.7 L1265.8 511.7 Z" fill="url(#gSlabTop)"/>
<rect x="1265.8" y="511.2" width="305.4" height="39" fill="url(#gSlab)"/>
<path d="M1570.7 511.2 L1575.7 505.7 L1576.7 544.2 L1570.7 550.2 Z" fill="#161616"/>
<text x="1303.5" y="540.4" font-size="32" font-family="'Liberation Serif', 'Times New Roman', Times, serif" font-weight="bold" fill="#000" textLength="244" lengthAdjust="spacingAndGlyphs">During annealing</text>
<path transform="translate(1593.6 322.3)" d="M0 0C3 -16 15 -28 34 -28.5L34 -37.75L52.25 -22.5L34 -6.75L34 -15.25C22 -15 9 -9 0 0Z" fill="#404040"/>
<use href="#peaT" x="1661.8" y="75.2"/>
<use href="#peaT" x="1704.7" y="75.2"/>
<use href="#peaT" x="1746.6" y="75.2"/>
<use href="#peaT" x="1787.2" y="75.2"/>
<use href="#peaT" x="1827.8" y="75.2"/>
<use href="#peaT" x="1868" y="75.2"/>
<use href="#peaT" x="1907.6" y="75.2"/>
<use href="#peaT" x="1947.2" y="75.2"/>
<use href="#oct" x="1675" y="121.1"/>
<use href="#oct" x="1715.2" y="121.1"/>
<use href="#oct" x="1755.4" y="121.1"/>
<use href="#oct" x="1795.6" y="121.1"/>
<use href="#oct" x="1835.8" y="121.1"/>
<use href="#oct" x="1876" y="121.1"/>
<use href="#oct" x="1916.2" y="121.1"/>
<use href="#oct" x="1956.4" y="121.1"/>
<use href="#oct" x="1675" y="161.1"/>
<use href="#oct" x="1715.2" y="161.1"/>
<use href="#oct" x="1755.4" y="161.1"/>
<use href="#oct" x="1795.6" y="161.1"/>
<use href="#oct" x="1835.8" y="161.1"/>
<use href="#oct" x="1876" y="161.1"/>
<use href="#oct" x="1916.2" y="161.1"/>
<use href="#oct" x="1956.4" y="161.1"/>
<use href="#sO" x="1655" y="121.1"/>
<use href="#sO" x="1655" y="161.1"/>
<use href="#sO" x="1675" y="121.1"/>
<use href="#sO" x="1675" y="141.1"/>
<use href="#sO" x="1675" y="161.1"/>
<use href="#sO" x="1675" y="181.1"/>
<use href="#sO" x="1695" y="121.1"/>
<use href="#sO" x="1695" y="161.1"/>
<use href="#sO" x="1715.2" y="121.1"/>
<use href="#sO" x="1715.2" y="141.1"/>
<use href="#sO" x="1715.2" y="161.1"/>
<use href="#sO" x="1715.2" y="181.1"/>
<use href="#sO" x="1735.2" y="121.1"/>
<use href="#sO" x="1735.2" y="161.1"/>
<use href="#sO" x="1755.4" y="121.1"/>
<use href="#sO" x="1755.4" y="141.1"/>
<use href="#sO" x="1755.4" y="161.1"/>
<use href="#sO" x="1755.4" y="181.1"/>
<use href="#sO" x="1775.4" y="121.1"/>
<use href="#sO" x="1775.4" y="161.1"/>
<use href="#sO" x="1795.6" y="121.1"/>
<use href="#sO" x="1795.6" y="141.1"/>
<use href="#sO" x="1795.6" y="161.1"/>
<use href="#sO" x="1795.6" y="181.1"/>
<use href="#sO" x="1815.6" y="121.1"/>
<use href="#sO" x="1815.6" y="161.1"/>
<use href="#sO" x="1835.8" y="121.1"/>
<use href="#sO" x="1835.8" y="141.1"/>
<use href="#sO" x="1835.8" y="161.1"/>
<use href="#sO" x="1835.8" y="181.1"/>
<use href="#sO" x="1855.8" y="121.1"/>
<use href="#sO" x="1855.8" y="161.1"/>
<use href="#sO" x="1876" y="121.1"/>
<use href="#sO" x="1876" y="141.1"/>
<use href="#sO" x="1876" y="161.1"/>
<use href="#sO" x="1876" y="181.1"/>
<use href="#sO" x="1896" y="121.1"/>
<use href="#sO" x="1896" y="161.1"/>
<use href="#sO" x="1916.2" y="121.1"/>
<use href="#sO" x="1916.2" y="141.1"/>
<use href="#sO" x="1916.2" y="161.1"/>
<use href="#sO" x="1916.2" y="181.1"/>
<use href="#sO" x="1936.2" y="121.1"/>
<use href="#sO" x="1936.2" y="161.1"/>
<use href="#sO" x="1956.4" y="121.1"/>
<use href="#sO" x="1956.4" y="141.1"/>
<use href="#sO" x="1956.4" y="161.1"/>
<use href="#sO" x="1956.4" y="181.1"/>
<use href="#sO" x="1976.4" y="121.1"/>
<use href="#sO" x="1976.4" y="161.1"/>
<use href="#sFA" x="1695.1" y="141.2"/>
<use href="#sFA" x="1735.3" y="141.2"/>
<use href="#sFA" x="1775.5" y="141.2"/>
<use href="#sFA" x="1815.7" y="141.2"/>
<use href="#sFA" x="1855.9" y="141.2"/>
<use href="#sFA" x="1896.1" y="141.2"/>
<use href="#sFA" x="1936.3" y="141.2"/>
<use href="#sFA" x="1695.1" y="181"/>
<use href="#sFA" x="1735.3" y="181"/>
<use href="#sFA" x="1775.5" y="181"/>
<use href="#sFA" x="1815.7" y="181"/>
<use href="#sFA" x="1855.9" y="181"/>
<use href="#sFA" x="1896.1" y="181"/>
<use href="#sFA" x="1936.3" y="181"/>
<use href="#scnT" x="1675" y="121.1"/>
<use href="#scnT" x="1715.2" y="121.1"/>
<use href="#scnT" x="1755.4" y="121.1"/>
<use href="#scnT" x="1795.6" y="121.1"/>
<use href="#scnT" x="1835.8" y="121.1"/>
<use href="#scnT" x="1876" y="121.1"/>
<use href="#scnT" x="1916.2" y="121.1"/>
<use href="#scnT" x="1956.4" y="121.1"/>
<path d="M1655 121.1L1675 101.1L1695 121.1L1675 141.1Z" fill="#3c6a30" opacity="0.38"/>
<path d="M1659 121.7L1675 115L1685 111.5" stroke="#5f9a3c" stroke-width="1.6" fill="none" opacity="0.8"/>
<circle cx="1685.5" cy="112.5" r="3" fill="#3a507a" opacity="0.8"/>
<circle cx="1675.8" cy="195.2" r="1.25" fill="#2c2c2c"/>
<circle cx="1675.8" cy="198.4" r="1.25" fill="#2c2c2c"/>
<circle cx="1675.8" cy="201.6" r="1.25" fill="#2c2c2c"/>
<circle cx="1716" cy="195.2" r="1.25" fill="#2c2c2c"/>
<circle cx="1716" cy="198.4" r="1.25" fill="#2c2c2c"/>
<circle cx="1716" cy="201.6" r="1.25" fill="#2c2c2c"/>
<circle cx="1756.2" cy="195.2" r="1.25" fill="#2c2c2c"/>
<circle cx="1756.2" cy="198.4" r="1.25" fill="#2c2c2c"/>
<circle cx="1756.2" cy="201.6" r="1.25" fill="#2c2c2c"/>
<circle cx="1796.4" cy="195.2" r="1.25" fill="#2c2c2c"/>
<circle cx="1796.4" cy="198.4" r="1.25" fill="#2c2c2c"/>
<circle cx="1796.4" cy="201.6" r="1.25" fill="#2c2c2c"/>
<circle cx="1836.6" cy="195.2" r="1.25" fill="#2c2c2c"/>
<circle cx="1836.6" cy="198.4" r="1.25" fill="#2c2c2c"/>
<circle cx="1836.6" cy="201.6" r="1.25" fill="#2c2c2c"/>
<circle cx="1876.8" cy="195.2" r="1.25" fill="#2c2c2c"/>
<circle cx="1876.8" cy="198.4" r="1.25" fill="#2c2c2c"/>
<circle cx="1876.8" cy="201.6" r="1.25" fill="#2c2c2c"/>
<circle cx="1917" cy="195.2" r="1.25" fill="#2c2c2c"/>
<circle cx="1917" cy="198.4" r="1.25" fill="#2c2c2c"/>
<circle cx="1917" cy="201.6" r="1.25" fill="#2c2c2c"/>
<circle cx="1957.2" cy="195.2" r="1.25" fill="#2c2c2c"/>
<circle cx="1957.2" cy="198.4" r="1.25" fill="#2c2c2c"/>
<circle cx="1957.2" cy="201.6" r="1.25" fill="#2c2c2c"/>
<use href="#peaB" x="1681.6" y="317.6"/>
<use href="#peaB" x="1722.8" y="317.6"/>
<use href="#peaB" x="1764" y="317.6"/>
<use href="#peaB" x="1802" y="317.6"/>
<use href="#peaB" x="1843.3" y="317.6"/>
<use href="#peaB" x="1883.9" y="317.6"/>
<use href="#peaB" x="1922.5" y="317.6"/>
<use href="#peaB" x="1962" y="317.6"/>
<use href="#octR" x="1675" y="230.2"/>
<use href="#octR" x="1715.2" y="230.2"/>
<use href="#octR" x="1755.4" y="230.2"/>
<use href="#octR" x="1795.6" y="230.2"/>
<use href="#octR" x="1835.8" y="230.2"/>
<use href="#octR" x="1876" y="230.2"/>
<use href="#octR" x="1916.2" y="230.2"/>
<use href="#octR" x="1956.4" y="230.2"/>
<use href="#octR" x="1675" y="270.6"/>
<use href="#octR" x="1715.2" y="270.6"/>
<use href="#octR" x="1755.4" y="270.6"/>
<use href="#octR" x="1795.6" y="270.6"/>
<use href="#octR" x="1835.8" y="270.6"/>
<use href="#octR" x="1876" y="270.6"/>
<use href="#octR" x="1916.2" y="270.6"/>
<use href="#octR" x="1956.4" y="270.6"/>
<use href="#sO" x="1655" y="230.2"/>
<use href="#sO" x="1655" y="270.6"/>
<use href="#sO" x="1675" y="210.2"/>
<use href="#sO" x="1675" y="230.2"/>
<use href="#sO" x="1675" y="250.4"/>
<use href="#sO" x="1675" y="270.6"/>
<use href="#sO" x="1695" y="230.2"/>
<use href="#sO" x="1695" y="270.6"/>
<use href="#sO" x="1715.2" y="210.2"/>
<use href="#sO" x="1715.2" y="230.2"/>
<use href="#sO" x="1715.2" y="250.4"/>
<use href="#sO" x="1715.2" y="270.6"/>
<use href="#sO" x="1735.2" y="230.2"/>
<use href="#sO" x="1735.2" y="270.6"/>
<use href="#sO" x="1755.4" y="210.2"/>
<use href="#sO" x="1755.4" y="230.2"/>
<use href="#sO" x="1755.4" y="250.4"/>
<use href="#sO" x="1755.4" y="270.6"/>
<use href="#sO" x="1775.4" y="230.2"/>
<use href="#sO" x="1775.4" y="270.6"/>
<use href="#sO" x="1795.6" y="210.2"/>
<use href="#sO" x="1795.6" y="230.2"/>
<use href="#sO" x="1795.6" y="250.4"/>
<use href="#sO" x="1795.6" y="270.6"/>
<use href="#sO" x="1815.6" y="230.2"/>
<use href="#sO" x="1815.6" y="270.6"/>
<use href="#sO" x="1835.8" y="210.2"/>
<use href="#sO" x="1835.8" y="230.2"/>
<use href="#sO" x="1835.8" y="250.4"/>
<use href="#sO" x="1835.8" y="270.6"/>
<use href="#sO" x="1855.8" y="230.2"/>
<use href="#sO" x="1855.8" y="270.6"/>
<use href="#sO" x="1876" y="210.2"/>
<use href="#sO" x="1876" y="230.2"/>
<use href="#sO" x="1876" y="250.4"/>
<use href="#sO" x="1876" y="270.6"/>
<use href="#sO" x="1896" y="230.2"/>
<use href="#sO" x="1896" y="270.6"/>
<use href="#sO" x="1916.2" y="210.2"/>
<use href="#sO" x="1916.2" y="230.2"/>
<use href="#sO" x="1916.2" y="250.4"/>
<use href="#sO" x="1916.2" y="270.6"/>
<use href="#sO" x="1936.2" y="230.2"/>
<use href="#sO" x="1936.2" y="270.6"/>
<use href="#sO" x="1956.4" y="210.2"/>
<use href="#sO" x="1956.4" y="230.2"/>
<use href="#sO" x="1956.4" y="250.4"/>
<use href="#sO" x="1956.4" y="270.6"/>
<use href="#sO" x="1976.4" y="230.2"/>
<use href="#sO" x="1976.4" y="270.6"/>
<use href="#sFA" x="1695.1" y="250.6"/>
<use href="#sFA" x="1735.3" y="250.6"/>
<use href="#sFA" x="1775.5" y="250.6"/>
<use href="#sFA" x="1815.7" y="250.6"/>
<use href="#sFA" x="1855.9" y="250.6"/>
<use href="#sFA" x="1896.1" y="250.6"/>
<use href="#sFA" x="1936.3" y="250.6"/>
<use href="#scnB" x="1675" y="268.8"/>
<use href="#scnB" x="1715.2" y="268.8"/>
<use href="#scnB" x="1755.4" y="268.8"/>
<use href="#scnB" x="1795.6" y="268.8"/>
<use href="#scnB" x="1835.8" y="268.8"/>
<use href="#scnB" x="1876" y="268.8"/>
<use href="#scnB" x="1916.2" y="268.8"/>
<use href="#scnB" x="1956.4" y="268.8"/>
<rect x="1647.8" y="51.2" width="339.2" height="276.4" fill="none" stroke="#0c1a58" stroke-width="1.8" stroke-dasharray="5.1 2.5"/>
<use href="#arrS" x="1787.4" y="42.6" fill="#000"/>
<use href="#oct" x="1672.6" y="357.4"/>
<use href="#oct" x="1712.68" y="357.4"/>
<use href="#oct" x="1752.76" y="357.4"/>
<use href="#oct" x="1792.84" y="357.4"/>
<use href="#oct" x="1832.92" y="357.4"/>
<use href="#oct" x="1873" y="357.4"/>
<use href="#oct" x="1913.08" y="357.4"/>
<use href="#oct" x="1953.16" y="357.4"/>
<use href="#oct" x="1672.6" y="398.6"/>
<use href="#oct" x="1712.68" y="398.6"/>
<use href="#oct" x="1752.76" y="398.6"/>
<use href="#oct" x="1792.84" y="398.6"/>
<use href="#oct" x="1832.92" y="398.6"/>
<use href="#oct" x="1873" y="398.6"/>
<use href="#oct" x="1913.08" y="398.6"/>
<use href="#oct" x="1953.16" y="398.6"/>
<use href="#sO" x="1652.6" y="357.4"/>
<use href="#sO" x="1652.6" y="398.6"/>
<use href="#sO" x="1672.6" y="337.4"/>
<use href="#sO" x="1672.6" y="357.4"/>
<use href="#sO" x="1672.6" y="377.4"/>
<use href="#sO" x="1672.6" y="378.6"/>
<use href="#sO" x="1672.6" y="398.6"/>
<use href="#sO" x="1672.6" y="418.6"/>
<use href="#sO" x="1692.6" y="357.4"/>
<use href="#sO" x="1692.6" y="398.6"/>
<use href="#sO" x="1712.7" y="337.4"/>
<use href="#sO" x="1712.7" y="357.4"/>
<use href="#sO" x="1712.7" y="377.4"/>
<use href="#sO" x="1712.7" y="378.6"/>
<use href="#sO" x="1712.7" y="398.6"/>
<use href="#sO" x="1712.7" y="418.6"/>
<use href="#sO" x="1732.7" y="357.4"/>
<use href="#sO" x="1732.7" y="398.6"/>
<use href="#sO" x="1752.8" y="337.4"/>
<use href="#sO" x="1752.8" y="357.4"/>
<use href="#sO" x="1752.8" y="377.4"/>
<use href="#sO" x="1752.8" y="378.6"/>
<use href="#sO" x="1752.8" y="398.6"/>
<use href="#sO" x="1752.8" y="418.6"/>
<use href="#sO" x="1772.8" y="357.4"/>
<use href="#sO" x="1772.8" y="398.6"/>
<use href="#sO" x="1792.8" y="337.4"/>
<use href="#sO" x="1792.8" y="357.4"/>
<use href="#sO" x="1792.8" y="377.4"/>
<use href="#sO" x="1792.8" y="378.6"/>
<use href="#sO" x="1792.8" y="398.6"/>
<use href="#sO" x="1792.8" y="418.6"/>
<use href="#sO" x="1812.8" y="357.4"/>
<use href="#sO" x="1812.8" y="398.6"/>
<use href="#sO" x="1832.9" y="337.4"/>
<use href="#sO" x="1832.9" y="357.4"/>
<use href="#sO" x="1832.9" y="377.4"/>
<use href="#sO" x="1832.9" y="378.6"/>
<use href="#sO" x="1832.9" y="398.6"/>
<use href="#sO" x="1832.9" y="418.6"/>
<use href="#sO" x="1852.9" y="357.4"/>
<use href="#sO" x="1852.9" y="398.6"/>
<use href="#sO" x="1873" y="337.4"/>
<use href="#sO" x="1873" y="357.4"/>
<use href="#sO" x="1873" y="377.4"/>
<use href="#sO" x="1873" y="378.6"/>
<use href="#sO" x="1873" y="398.6"/>
<use href="#sO" x="1873" y="418.6"/>
<use href="#sO" x="1893" y="357.4"/>
<use href="#sO" x="1893" y="398.6"/>
<use href="#sO" x="1913.1" y="337.4"/>
<use href="#sO" x="1913.1" y="357.4"/>
<use href="#sO" x="1913.1" y="377.4"/>
<use href="#sO" x="1913.1" y="378.6"/>
<use href="#sO" x="1913.1" y="398.6"/>
<use href="#sO" x="1913.1" y="418.6"/>
<use href="#sO" x="1933.1" y="357.4"/>
<use href="#sO" x="1933.1" y="398.6"/>
<use href="#sO" x="1953.2" y="337.4"/>
<use href="#sO" x="1953.2" y="357.4"/>
<use href="#sO" x="1953.2" y="377.4"/>
<use href="#sO" x="1953.2" y="378.6"/>
<use href="#sO" x="1953.2" y="398.6"/>
<use href="#sO" x="1953.2" y="418.6"/>
<use href="#sO" x="1973.2" y="357.4"/>
<use href="#sO" x="1973.2" y="398.6"/>
<use href="#sFA" x="1692.64" y="336.2"/>
<use href="#sFA" x="1732.72" y="336.2"/>
<use href="#sFA" x="1772.8" y="336.2"/>
<use href="#sFA" x="1812.88" y="336.2"/>
<use href="#sFA" x="1852.96" y="336.2"/>
<use href="#sFA" x="1893.04" y="336.2"/>
<use href="#sFA" x="1933.12" y="336.2"/>
<use href="#sFA" x="1692.64" y="377.4"/>
<use href="#sFA" x="1732.72" y="377.4"/>
<use href="#sFA" x="1772.8" y="377.4"/>
<use href="#sFA" x="1812.88" y="377.4"/>
<use href="#sFA" x="1852.96" y="377.4"/>
<use href="#sFA" x="1893.04" y="377.4"/>
<use href="#sFA" x="1933.12" y="377.4"/>
<use href="#oct" x="1672.6" y="439.9"/>
<use href="#oct" x="1712.68" y="439.9"/>
<use href="#oct" x="1752.76" y="439.9"/>
<use href="#oct" x="1792.84" y="439.9"/>
<use href="#oct" x="1832.92" y="439.9"/>
<use href="#oct" x="1873" y="439.9"/>
<use href="#oct" x="1913.08" y="439.9"/>
<use href="#oct" x="1953.16" y="439.9"/>
<use href="#oct" x="1672.6" y="480.8"/>
<use href="#oct" x="1712.68" y="480.8"/>
<use href="#oct" x="1752.76" y="480.8"/>
<use href="#oct" x="1792.84" y="480.8"/>
<use href="#oct" x="1832.92" y="480.8"/>
<use href="#oct" x="1873" y="480.8"/>
<use href="#oct" x="1913.08" y="480.8"/>
<use href="#oct" x="1953.16" y="480.8"/>
<use href="#sO" x="1652.6" y="439.9"/>
<use href="#sO" x="1652.6" y="480.8"/>
<use href="#sO" x="1672.6" y="419.9"/>
<use href="#sO" x="1672.6" y="439.9"/>
<use href="#sO" x="1672.6" y="460.4"/>
<use href="#sO" x="1672.6" y="480.8"/>
<use href="#sO" x="1672.6" y="500.8"/>
<use href="#sO" x="1692.6" y="439.9"/>
<use href="#sO" x="1692.6" y="480.8"/>
<use href="#sO" x="1712.7" y="419.9"/>
<use href="#sO" x="1712.7" y="439.9"/>
<use href="#sO" x="1712.7" y="460.4"/>
<use href="#sO" x="1712.7" y="480.8"/>
<use href="#sO" x="1712.7" y="500.8"/>
<use href="#sO" x="1732.7" y="439.9"/>
<use href="#sO" x="1732.7" y="480.8"/>
<use href="#sO" x="1752.8" y="419.9"/>
<use href="#sO" x="1752.8" y="439.9"/>
<use href="#sO" x="1752.8" y="460.4"/>
<use href="#sO" x="1752.8" y="480.8"/>
<use href="#sO" x="1752.8" y="500.8"/>
<use href="#sO" x="1772.8" y="439.9"/>
<use href="#sO" x="1772.8" y="480.8"/>
<use href="#sO" x="1792.8" y="419.9"/>
<use href="#sO" x="1792.8" y="439.9"/>
<use href="#sO" x="1792.8" y="460.4"/>
<use href="#sO" x="1792.8" y="480.8"/>
<use href="#sO" x="1792.8" y="500.8"/>
<use href="#sO" x="1812.8" y="439.9"/>
<use href="#sO" x="1812.8" y="480.8"/>
<use href="#sO" x="1832.9" y="419.9"/>
<use href="#sO" x="1832.9" y="439.9"/>
<use href="#sO" x="1832.9" y="460.4"/>
<use href="#sO" x="1832.9" y="480.8"/>
<use href="#sO" x="1832.9" y="500.8"/>
<use href="#sO" x="1852.9" y="439.9"/>
<use href="#sO" x="1852.9" y="480.8"/>
<use href="#sO" x="1873" y="419.9"/>
<use href="#sO" x="1873" y="439.9"/>
<use href="#sO" x="1873" y="460.4"/>
<use href="#sO" x="1873" y="480.8"/>
<use href="#sO" x="1873" y="500.8"/>
<use href="#sO" x="1893" y="439.9"/>
<use href="#sO" x="1893" y="480.8"/>
<use href="#sO" x="1913.1" y="419.9"/>
<use href="#sO" x="1913.1" y="439.9"/>
<use href="#sO" x="1913.1" y="460.4"/>
<use href="#sO" x="1913.1" y="480.8"/>
<use href="#sO" x="1913.1" y="500.8"/>
<use href="#sO" x="1933.1" y="439.9"/>
<use href="#sO" x="1933.1" y="480.8"/>
<use href="#sO" x="1953.2" y="419.9"/>
<use href="#sO" x="1953.2" y="439.9"/>
<use href="#sO" x="1953.2" y="460.4"/>
<use href="#sO" x="1953.2" y="480.8"/>
<use href="#sO" x="1953.2" y="500.8"/>
<use href="#sO" x="1973.2" y="439.9"/>
<use href="#sO" x="1973.2" y="480.8"/>
<use href="#sFA" x="1692.64" y="418.6"/>
<use href="#sFA" x="1732.72" y="418.6"/>
<use href="#sFA" x="1772.8" y="418.6"/>
<use href="#sFA" x="1812.88" y="418.6"/>
<use href="#sFA" x="1852.96" y="418.6"/>
<use href="#sFA" x="1893.04" y="418.6"/>
<use href="#sFA" x="1933.12" y="418.6"/>
<use href="#sFA" x="1692.64" y="459.8"/>
<use href="#sFA" x="1732.72" y="459.8"/>
<use href="#sFA" x="1772.8" y="459.8"/>
<use href="#sFA" x="1812.88" y="459.8"/>
<use href="#sFA" x="1852.96" y="459.8"/>
<use href="#sFA" x="1893.04" y="459.8"/>
<use href="#sFA" x="1933.12" y="459.8"/>
<path d="M1662.2 505.4 L1964.8 505.4 L1959.8 511.9 L1656.2 511.9 Z" fill="url(#gSlabTop)"/>
<rect x="1656.2" y="511.4" width="304.6" height="39.2" fill="url(#gSlab)"/>
<path d="M1960.3 511.4 L1965.3 505.9 L1966.3 544.6 L1960.3 550.6 Z" fill="#161616"/>
<text x="1702" y="541.5" font-size="32" font-family="'Liberation Serif', 'Times New Roman', Times, serif" font-weight="bold" fill="#000" textLength="217" lengthAdjust="spacingAndGlyphs">After annealing</text>
</g>
</svg>
</body>
</html>
